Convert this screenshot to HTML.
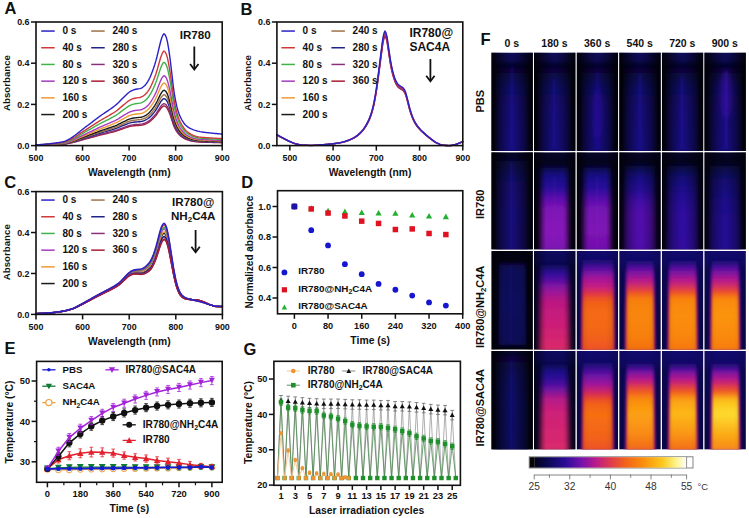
<!DOCTYPE html>
<html><head><meta charset="utf-8"><title>Figure</title>
<style>html,body{margin:0;padding:0;background:#fff}svg{display:block}text{font-family:"Liberation Sans",sans-serif}</style></head>
<body>
<svg width="749" height="518" viewBox="0 0 749 518">
<rect width="749" height="518" fill="#fff"/>
<defs>
<linearGradient id="hshade" x1="0" y1="0" x2="1" y2="0"><stop offset="0" stop-color="#000" stop-opacity="1"/><stop offset="0.12" stop-color="#000" stop-opacity="0.6"/><stop offset="0.3" stop-color="#000" stop-opacity="0"/><stop offset="0.7" stop-color="#000" stop-opacity="0"/><stop offset="0.88" stop-color="#000" stop-opacity="0.6"/><stop offset="1" stop-color="#000" stop-opacity="1"/></linearGradient>
<linearGradient id="hshade2" x1="0" y1="0" x2="1" y2="0"><stop offset="0" stop-color="#000" stop-opacity="1"/><stop offset="0.1" stop-color="#000" stop-opacity="0.78"/><stop offset="0.26" stop-color="#000" stop-opacity="0.38"/><stop offset="0.46" stop-color="#000" stop-opacity="0"/><stop offset="0.54" stop-color="#000" stop-opacity="0"/><stop offset="0.74" stop-color="#000" stop-opacity="0.38"/><stop offset="0.9" stop-color="#000" stop-opacity="0.78"/><stop offset="1" stop-color="#000" stop-opacity="1"/></linearGradient>
<clipPath id="c0_0"><rect x="491.3" y="52.5" width="41.6" height="98.4"/></clipPath>
<linearGradient id="g1" x1="0" y1="0" x2="0" y2="1"><stop offset="0" stop-color="#0e0c5a"/><stop offset="0.08" stop-color="#0c0a50"/><stop offset="0.15" stop-color="#06052e"/><stop offset="0.24" stop-color="#04042a"/><stop offset="1" stop-color="#04042c"/></linearGradient>
<linearGradient id="g2" x1="0" y1="0" x2="0" y2="1"><stop offset="0" stop-color="#05052c"/><stop offset="0.11" stop-color="#0a0748"/><stop offset="0.27" stop-color="#10096a"/><stop offset="0.51" stop-color="#150a78"/><stop offset="0.96" stop-color="#170a7e"/></linearGradient>
<filter id="bl2p2" x="-40%" y="-30%" width="180%" height="160%"><feGaussianBlur stdDeviation="2.2"/></filter>
<filter id="bl1" x="-40%" y="-30%" width="180%" height="160%"><feGaussianBlur stdDeviation="1"/></filter>
<clipPath id="c0_1"><rect x="534" y="52.5" width="41.6" height="98.4"/></clipPath>
<linearGradient id="g3" x1="0" y1="0" x2="0" y2="1"><stop offset="0" stop-color="#0e0c5a"/><stop offset="0.08" stop-color="#0c0a50"/><stop offset="0.15" stop-color="#06052e"/><stop offset="0.24" stop-color="#04042a"/><stop offset="1" stop-color="#04042c"/></linearGradient>
<linearGradient id="g4" x1="0" y1="0" x2="0" y2="1"><stop offset="0" stop-color="#05052c"/><stop offset="0.11" stop-color="#0a0748"/><stop offset="0.27" stop-color="#10096a"/><stop offset="0.51" stop-color="#150a78"/><stop offset="0.96" stop-color="#170a7e"/></linearGradient>
<clipPath id="c0_2"><rect x="576.6" y="52.5" width="41.6" height="98.4"/></clipPath>
<linearGradient id="g5" x1="0" y1="0" x2="0" y2="1"><stop offset="0" stop-color="#0e0c5a"/><stop offset="0.08" stop-color="#0c0a50"/><stop offset="0.15" stop-color="#06052e"/><stop offset="0.24" stop-color="#04042a"/><stop offset="1" stop-color="#04042c"/></linearGradient>
<linearGradient id="g6" x1="0" y1="0" x2="0" y2="1"><stop offset="0" stop-color="#05052c"/><stop offset="0.11" stop-color="#0a0748"/><stop offset="0.27" stop-color="#10096a"/><stop offset="0.51" stop-color="#150a78"/><stop offset="0.96" stop-color="#170a7e"/></linearGradient>
<filter id="bl3" x="-40%" y="-30%" width="180%" height="160%"><feGaussianBlur stdDeviation="3"/></filter>
<clipPath id="c0_3"><rect x="619.2" y="52.5" width="41.6" height="98.4"/></clipPath>
<linearGradient id="g7" x1="0" y1="0" x2="0" y2="1"><stop offset="0" stop-color="#0e0c5a"/><stop offset="0.08" stop-color="#0c0a50"/><stop offset="0.15" stop-color="#06052e"/><stop offset="0.24" stop-color="#04042a"/><stop offset="1" stop-color="#04042c"/></linearGradient>
<linearGradient id="g8" x1="0" y1="0" x2="0" y2="1"><stop offset="0" stop-color="#05052c"/><stop offset="0.11" stop-color="#0a0748"/><stop offset="0.27" stop-color="#10096a"/><stop offset="0.51" stop-color="#150a78"/><stop offset="0.96" stop-color="#170a7e"/></linearGradient>
<clipPath id="c0_4"><rect x="661.8" y="52.5" width="41.6" height="98.4"/></clipPath>
<linearGradient id="g9" x1="0" y1="0" x2="0" y2="1"><stop offset="0" stop-color="#0e0c5a"/><stop offset="0.08" stop-color="#0c0a50"/><stop offset="0.15" stop-color="#06052e"/><stop offset="0.24" stop-color="#04042a"/><stop offset="1" stop-color="#04042c"/></linearGradient>
<linearGradient id="g10" x1="0" y1="0" x2="0" y2="1"><stop offset="0" stop-color="#05052c"/><stop offset="0.11" stop-color="#0a0748"/><stop offset="0.27" stop-color="#10096a"/><stop offset="0.51" stop-color="#150a78"/><stop offset="0.96" stop-color="#170a7e"/></linearGradient>
<clipPath id="c0_5"><rect x="704.3" y="52.5" width="41.6" height="98.4"/></clipPath>
<linearGradient id="g11" x1="0" y1="0" x2="0" y2="1"><stop offset="0" stop-color="#0e0c5a"/><stop offset="0.08" stop-color="#0c0a50"/><stop offset="0.15" stop-color="#06052e"/><stop offset="0.24" stop-color="#04042a"/><stop offset="1" stop-color="#04042c"/></linearGradient>
<linearGradient id="g12" x1="0" y1="0" x2="0" y2="1"><stop offset="0" stop-color="#05052c"/><stop offset="0.11" stop-color="#0a0748"/><stop offset="0.27" stop-color="#10096a"/><stop offset="0.51" stop-color="#150a78"/><stop offset="0.96" stop-color="#170a7e"/></linearGradient>
<clipPath id="c1_0"><rect x="491.3" y="152.2" width="41.6" height="97.4"/></clipPath>
<linearGradient id="g13" x1="0" y1="0" x2="0" y2="1"><stop offset="0" stop-color="#05052a"/><stop offset="0.14" stop-color="#05052a"/><stop offset="1" stop-color="#050528"/></linearGradient>
<linearGradient id="g14" x1="0" y1="0" x2="0" y2="1"><stop offset="0" stop-color="#08073e"/><stop offset="0.24" stop-color="#12096a"/><stop offset="0.56" stop-color="#160a74"/><stop offset="0.97" stop-color="#150a72"/></linearGradient>
<clipPath id="c1_1"><rect x="534" y="152.2" width="41.6" height="97.4"/></clipPath>
<linearGradient id="g15" x1="0" y1="0" x2="0" y2="1"><stop offset="0" stop-color="#06052a"/><stop offset="0.1" stop-color="#04041e"/><stop offset="1" stop-color="#030316"/></linearGradient>
<linearGradient id="g16" x1="0" y1="0" x2="0" y2="1"><stop offset="0" stop-color="#0a0850"/><stop offset="0.11" stop-color="#180a88"/><stop offset="0.25" stop-color="#280c9a"/><stop offset="0.36" stop-color="#5a10ac"/><stop offset="0.48" stop-color="#7c12b4"/><stop offset="0.76" stop-color="#8814b8"/><stop offset="0.97" stop-color="#7c12b2"/></linearGradient>
<filter id="bl2p4" x="-40%" y="-30%" width="180%" height="160%"><feGaussianBlur stdDeviation="2.4"/></filter>
<clipPath id="c1_2"><rect x="576.6" y="152.2" width="41.6" height="97.4"/></clipPath>
<linearGradient id="g17" x1="0" y1="0" x2="0" y2="1"><stop offset="0" stop-color="#06052a"/><stop offset="0.1" stop-color="#04041e"/><stop offset="1" stop-color="#030316"/></linearGradient>
<linearGradient id="g18" x1="0" y1="0" x2="0" y2="1"><stop offset="0" stop-color="#0a0850"/><stop offset="0.11" stop-color="#180a88"/><stop offset="0.25" stop-color="#280c9a"/><stop offset="0.36" stop-color="#5210aa"/><stop offset="0.48" stop-color="#7412b2"/><stop offset="0.76" stop-color="#7e12b4"/><stop offset="0.97" stop-color="#7010ae"/></linearGradient>
<clipPath id="c1_3"><rect x="619.2" y="152.2" width="41.6" height="97.4"/></clipPath>
<linearGradient id="g19" x1="0" y1="0" x2="0" y2="1"><stop offset="0" stop-color="#06052a"/><stop offset="0.1" stop-color="#04041e"/><stop offset="1" stop-color="#030316"/></linearGradient>
<linearGradient id="g20" x1="0" y1="0" x2="0" y2="1"><stop offset="0" stop-color="#08073e"/><stop offset="0.13" stop-color="#160a80"/><stop offset="0.29" stop-color="#260c98"/><stop offset="0.42" stop-color="#4410a8"/><stop offset="0.56" stop-color="#5410ae"/><stop offset="0.97" stop-color="#5010ac"/></linearGradient>
<clipPath id="c1_4"><rect x="661.8" y="152.2" width="41.6" height="97.4"/></clipPath>
<linearGradient id="g21" x1="0" y1="0" x2="0" y2="1"><stop offset="0" stop-color="#06052a"/><stop offset="0.1" stop-color="#04041e"/><stop offset="1" stop-color="#030316"/></linearGradient>
<linearGradient id="g22" x1="0" y1="0" x2="0" y2="1"><stop offset="0" stop-color="#08073e"/><stop offset="0.15" stop-color="#140a78"/><stop offset="0.33" stop-color="#200c90"/><stop offset="0.54" stop-color="#2e0e9e"/><stop offset="0.97" stop-color="#300ea0"/></linearGradient>
<clipPath id="c1_5"><rect x="704.3" y="152.2" width="41.6" height="97.4"/></clipPath>
<linearGradient id="g23" x1="0" y1="0" x2="0" y2="1"><stop offset="0" stop-color="#06052a"/><stop offset="0.1" stop-color="#04041e"/><stop offset="1" stop-color="#030316"/></linearGradient>
<linearGradient id="g24" x1="0" y1="0" x2="0" y2="1"><stop offset="0" stop-color="#08073e"/><stop offset="0.17" stop-color="#12096e"/><stop offset="0.4" stop-color="#1a0b84"/><stop offset="0.65" stop-color="#220c90"/><stop offset="0.97" stop-color="#220c90"/></linearGradient>
<clipPath id="c2_0"><rect x="491.3" y="251" width="41.6" height="98.7"/></clipPath>
<linearGradient id="g25" x1="0" y1="0" x2="0" y2="1"><stop offset="0" stop-color="#020210"/><stop offset="0.99" stop-color="#020210"/></linearGradient>
<linearGradient id="g26" x1="0" y1="0" x2="0" y2="1"><stop offset="0" stop-color="#08063e"/><stop offset="0.07" stop-color="#0b0752"/><stop offset="0.46" stop-color="#0d085a"/><stop offset="1" stop-color="#0b0752"/></linearGradient>
<filter id="bl1p6" x="-40%" y="-30%" width="180%" height="160%"><feGaussianBlur stdDeviation="1.6"/></filter>
<clipPath id="c2_1"><rect x="534" y="251" width="41.6" height="98.7"/></clipPath>
<linearGradient id="g27" x1="0" y1="0" x2="0" y2="1"><stop offset="0" stop-color="#0e0a5e"/><stop offset="0.1" stop-color="#0c0956"/><stop offset="0.17" stop-color="#070640"/><stop offset="0.99" stop-color="#05052e"/></linearGradient>
<linearGradient id="g28" x1="0" y1="0" x2="0" y2="1"><stop offset="0" stop-color="#0c0956"/><stop offset="0.07" stop-color="#280c90"/><stop offset="0.14" stop-color="#420ea0"/><stop offset="0.26" stop-color="#8a14a0"/><stop offset="0.41" stop-color="#bc1882"/><stop offset="0.64" stop-color="#ca1c7a"/><stop offset="0.96" stop-color="#da2a6a"/></linearGradient>
<clipPath id="c2_2"><rect x="576.6" y="251" width="41.6" height="98.7"/></clipPath>
<linearGradient id="g29" x1="0" y1="0" x2="0" y2="1"><stop offset="0" stop-color="#120a6c"/><stop offset="0.12" stop-color="#100a66"/><stop offset="0.2" stop-color="#0c0856"/><stop offset="0.99" stop-color="#0a074c"/></linearGradient>
<linearGradient id="g30" x1="0" y1="0" x2="0" y2="1"><stop offset="0" stop-color="#100a66"/><stop offset="0.06" stop-color="#3c0e96"/><stop offset="0.12" stop-color="#6a12a4"/><stop offset="0.2" stop-color="#a8169a"/><stop offset="0.3" stop-color="#c81e80"/><stop offset="0.37" stop-color="#e43a3a"/><stop offset="0.44" stop-color="#f25e1a"/><stop offset="0.58" stop-color="#f56c12"/><stop offset="0.82" stop-color="#f3641a"/><stop offset="0.96" stop-color="#ee5426"/></linearGradient>
<linearGradient id="g31" x1="0" y1="0" x2="0" y2="1"><stop offset="0.05" stop-color="#100a66"/><stop offset="0.16" stop-color="#5a10a0"/><stop offset="0.33" stop-color="#9a1490"/><stop offset="0.5" stop-color="#b4187e"/><stop offset="0.96" stop-color="#a81684"/></linearGradient>
<filter id="bl1p1_2p6" x="-40%" y="-30%" width="180%" height="160%"><feGaussianBlur stdDeviation="1.1 2.6"/></filter>
<filter id="bl1_2p4" x="-40%" y="-30%" width="180%" height="160%"><feGaussianBlur stdDeviation="1 2.4"/></filter>
<clipPath id="c2_3"><rect x="619.2" y="251" width="41.6" height="98.7"/></clipPath>
<linearGradient id="g32" x1="0" y1="0" x2="0" y2="1"><stop offset="0" stop-color="#120a6c"/><stop offset="0.12" stop-color="#100a66"/><stop offset="0.2" stop-color="#0c0856"/><stop offset="0.99" stop-color="#0a074c"/></linearGradient>
<linearGradient id="g33" x1="0" y1="0" x2="0" y2="1"><stop offset="0" stop-color="#100a66"/><stop offset="0.05" stop-color="#3a0e96"/><stop offset="0.11" stop-color="#7012a4"/><stop offset="0.2" stop-color="#b01890"/><stop offset="0.27" stop-color="#d02a6a"/><stop offset="0.34" stop-color="#ee4e24"/><stop offset="0.41" stop-color="#f7800e"/><stop offset="0.59" stop-color="#f8860e"/><stop offset="0.82" stop-color="#f7800e"/><stop offset="0.96" stop-color="#f4700f"/></linearGradient>
<linearGradient id="g34" x1="0" y1="0" x2="0" y2="1"><stop offset="0.04" stop-color="#100a66"/><stop offset="0.15" stop-color="#5a10a0"/><stop offset="0.33" stop-color="#9a1490"/><stop offset="0.49" stop-color="#b4187e"/><stop offset="0.96" stop-color="#a81684"/></linearGradient>
<filter id="bl0p9_2p4" x="-40%" y="-30%" width="180%" height="160%"><feGaussianBlur stdDeviation="0.9 2.4"/></filter>
<clipPath id="c2_4"><rect x="661.8" y="251" width="41.6" height="98.7"/></clipPath>
<linearGradient id="g35" x1="0" y1="0" x2="0" y2="1"><stop offset="0" stop-color="#120a6c"/><stop offset="0.12" stop-color="#100a66"/><stop offset="0.2" stop-color="#0c0856"/><stop offset="0.99" stop-color="#0a074c"/></linearGradient>
<linearGradient id="g36" x1="0" y1="0" x2="0" y2="1"><stop offset="0" stop-color="#100a66"/><stop offset="0.05" stop-color="#3a0e96"/><stop offset="0.11" stop-color="#7012a4"/><stop offset="0.2" stop-color="#b01890"/><stop offset="0.27" stop-color="#d02a6a"/><stop offset="0.34" stop-color="#ee4e24"/><stop offset="0.41" stop-color="#f9860c"/><stop offset="0.59" stop-color="#fa8e0c"/><stop offset="0.82" stop-color="#f9860c"/><stop offset="0.96" stop-color="#f6780e"/></linearGradient>
<linearGradient id="g37" x1="0" y1="0" x2="0" y2="1"><stop offset="0.04" stop-color="#100a66"/><stop offset="0.15" stop-color="#5a10a0"/><stop offset="0.33" stop-color="#9a1490"/><stop offset="0.49" stop-color="#b4187e"/><stop offset="0.96" stop-color="#a81684"/></linearGradient>
<clipPath id="c2_5"><rect x="704.3" y="251" width="41.6" height="98.7"/></clipPath>
<linearGradient id="g38" x1="0" y1="0" x2="0" y2="1"><stop offset="0" stop-color="#120a6c"/><stop offset="0.12" stop-color="#100a66"/><stop offset="0.2" stop-color="#0c0856"/><stop offset="0.99" stop-color="#0a074c"/></linearGradient>
<linearGradient id="g39" x1="0" y1="0" x2="0" y2="1"><stop offset="0" stop-color="#100a66"/><stop offset="0.05" stop-color="#3a0e96"/><stop offset="0.11" stop-color="#7012a4"/><stop offset="0.2" stop-color="#b01890"/><stop offset="0.27" stop-color="#d02a6a"/><stop offset="0.34" stop-color="#ee4e24"/><stop offset="0.41" stop-color="#fa8a0c"/><stop offset="0.59" stop-color="#fb940c"/><stop offset="0.82" stop-color="#fa8a0c"/><stop offset="0.96" stop-color="#f77c0e"/></linearGradient>
<linearGradient id="g40" x1="0" y1="0" x2="0" y2="1"><stop offset="0.04" stop-color="#100a66"/><stop offset="0.15" stop-color="#5a10a0"/><stop offset="0.33" stop-color="#9a1490"/><stop offset="0.49" stop-color="#b4187e"/><stop offset="0.96" stop-color="#a81684"/></linearGradient>
<clipPath id="c3_0"><rect x="491.3" y="351" width="41.6" height="98.6"/></clipPath>
<linearGradient id="g41" x1="0" y1="0" x2="0" y2="1"><stop offset="0" stop-color="#07062e"/><stop offset="0.99" stop-color="#040424"/></linearGradient>
<linearGradient id="g42" x1="0" y1="0" x2="0" y2="1"><stop offset="0" stop-color="#07063a"/><stop offset="0.21" stop-color="#0c0858"/><stop offset="0.52" stop-color="#0f0962"/><stop offset="0.96" stop-color="#0d085c"/></linearGradient>
<clipPath id="c3_1"><rect x="534" y="351" width="41.6" height="98.6"/></clipPath>
<linearGradient id="g43" x1="0" y1="0" x2="0" y2="1"><stop offset="0" stop-color="#0e0a5e"/><stop offset="0.1" stop-color="#0c0956"/><stop offset="0.17" stop-color="#070640"/><stop offset="0.99" stop-color="#05052e"/></linearGradient>
<linearGradient id="g44" x1="0" y1="0" x2="0" y2="1"><stop offset="0" stop-color="#0c0956"/><stop offset="0.07" stop-color="#1c0c88"/><stop offset="0.16" stop-color="#2e0e98"/><stop offset="0.26" stop-color="#6012a4"/><stop offset="0.38" stop-color="#b41a88"/><stop offset="0.53" stop-color="#cc2078"/><stop offset="0.96" stop-color="#da2a6c"/></linearGradient>
<clipPath id="c3_2"><rect x="576.6" y="351" width="41.6" height="98.6"/></clipPath>
<linearGradient id="g45" x1="0" y1="0" x2="0" y2="1"><stop offset="0" stop-color="#120a6c"/><stop offset="0.12" stop-color="#100a66"/><stop offset="0.2" stop-color="#0c0856"/><stop offset="0.99" stop-color="#0a074c"/></linearGradient>
<linearGradient id="g46" x1="0" y1="0" x2="0" y2="1"><stop offset="0" stop-color="#100a66"/><stop offset="0.07" stop-color="#3a0e96"/><stop offset="0.13" stop-color="#6212a4"/><stop offset="0.23" stop-color="#9c16a0"/><stop offset="0.31" stop-color="#c82070"/><stop offset="0.37" stop-color="#e03838"/><stop offset="0.44" stop-color="#f25e1a"/><stop offset="0.57" stop-color="#f67010"/><stop offset="0.81" stop-color="#f3641a"/><stop offset="0.96" stop-color="#ee5424"/></linearGradient>
<linearGradient id="g47" x1="0" y1="0" x2="0" y2="1"><stop offset="0.02" stop-color="#100a66"/><stop offset="0.13" stop-color="#5a10a0"/><stop offset="0.31" stop-color="#9a1490"/><stop offset="0.48" stop-color="#b4187e"/><stop offset="0.96" stop-color="#a81684"/></linearGradient>
<clipPath id="c3_3"><rect x="619.2" y="351" width="41.6" height="98.6"/></clipPath>
<linearGradient id="g48" x1="0" y1="0" x2="0" y2="1"><stop offset="0" stop-color="#120a6c"/><stop offset="0.12" stop-color="#100a66"/><stop offset="0.2" stop-color="#0c0856"/><stop offset="0.99" stop-color="#0a074c"/></linearGradient>
<linearGradient id="g49" x1="0" y1="0" x2="0" y2="1"><stop offset="0" stop-color="#100a66"/><stop offset="0.06" stop-color="#4a10a0"/><stop offset="0.11" stop-color="#8a14a0"/><stop offset="0.19" stop-color="#c01c84"/><stop offset="0.26" stop-color="#e23c40"/><stop offset="0.32" stop-color="#f2601c"/><stop offset="0.4" stop-color="#f98c10"/><stop offset="0.56" stop-color="#fca212"/><stop offset="0.78" stop-color="#f98c12"/><stop offset="0.96" stop-color="#f26a1c"/></linearGradient>
<linearGradient id="g50" x1="0" y1="0" x2="0" y2="1"><stop offset="0.01" stop-color="#100a66"/><stop offset="0.12" stop-color="#5a10a0"/><stop offset="0.3" stop-color="#9a1490"/><stop offset="0.47" stop-color="#b4187e"/><stop offset="0.96" stop-color="#a81684"/></linearGradient>
<clipPath id="c3_4"><rect x="661.8" y="351" width="41.6" height="98.6"/></clipPath>
<linearGradient id="g51" x1="0" y1="0" x2="0" y2="1"><stop offset="0" stop-color="#120a6c"/><stop offset="0.12" stop-color="#100a66"/><stop offset="0.2" stop-color="#0c0856"/><stop offset="0.99" stop-color="#0a074c"/></linearGradient>
<linearGradient id="g52" x1="0" y1="0" x2="0" y2="1"><stop offset="0" stop-color="#100a66"/><stop offset="0.06" stop-color="#4a10a0"/><stop offset="0.11" stop-color="#8a14a0"/><stop offset="0.19" stop-color="#c01c84"/><stop offset="0.26" stop-color="#e23c40"/><stop offset="0.32" stop-color="#f2601c"/><stop offset="0.4" stop-color="#fba012"/><stop offset="0.56" stop-color="#fdb818"/><stop offset="0.78" stop-color="#fa9814"/><stop offset="0.96" stop-color="#f47018"/></linearGradient>
<linearGradient id="g53" x1="0" y1="0" x2="0" y2="1"><stop offset="0.01" stop-color="#100a66"/><stop offset="0.12" stop-color="#5a10a0"/><stop offset="0.3" stop-color="#9a1490"/><stop offset="0.47" stop-color="#b4187e"/><stop offset="0.96" stop-color="#a81684"/></linearGradient>
<clipPath id="c3_5"><rect x="704.3" y="351" width="41.6" height="98.6"/></clipPath>
<linearGradient id="g54" x1="0" y1="0" x2="0" y2="1"><stop offset="0" stop-color="#120a6c"/><stop offset="0.12" stop-color="#100a66"/><stop offset="0.2" stop-color="#0c0856"/><stop offset="0.99" stop-color="#0a074c"/></linearGradient>
<linearGradient id="g55" x1="0" y1="0" x2="0" y2="1"><stop offset="0" stop-color="#100a66"/><stop offset="0.06" stop-color="#4a10a0"/><stop offset="0.11" stop-color="#8a14a0"/><stop offset="0.19" stop-color="#c01c84"/><stop offset="0.26" stop-color="#e23c40"/><stop offset="0.32" stop-color="#f2601c"/><stop offset="0.4" stop-color="#fcbc18"/><stop offset="0.56" stop-color="#fedc30"/><stop offset="0.78" stop-color="#fcae18"/><stop offset="0.96" stop-color="#f88a1a"/></linearGradient>
<linearGradient id="g56" x1="0" y1="0" x2="0" y2="1"><stop offset="0.01" stop-color="#100a66"/><stop offset="0.12" stop-color="#5a10a0"/><stop offset="0.3" stop-color="#9a1490"/><stop offset="0.47" stop-color="#b4187e"/><stop offset="0.96" stop-color="#a81684"/></linearGradient>
<linearGradient id="cbar" x1="0" y1="0" x2="1" y2="0"><stop offset="0" stop-color="#03031c"/><stop offset="0.08" stop-color="#0a0850"/><stop offset="0.2" stop-color="#2a0c96"/><stop offset="0.3" stop-color="#7012ac"/><stop offset="0.4" stop-color="#b81a8c"/><stop offset="0.5" stop-color="#e03a4c"/><stop offset="0.6" stop-color="#f2641a"/><stop offset="0.72" stop-color="#fa900c"/><stop offset="0.84" stop-color="#fdc81e"/><stop offset="0.93" stop-color="#fef48a"/><stop offset="1" stop-color="#ffffff"/></linearGradient>
</defs>
<polyline points="36,145.31 37.16,145.29 38.33,145.27 39.49,145.24 40.66,145.21 41.82,145.18 42.98,145.15 44.15,145.12 45.31,145.09 46.47,145.05 47.64,145.01 48.8,144.97 49.96,144.93 51.13,144.88 52.29,144.83 53.46,144.78 54.62,144.72 55.78,144.67 56.95,144.61 58.11,144.55 59.27,144.48 60.44,144.41 61.6,144.33 62.77,144.24 63.93,144.14 65.09,144 66.26,143.82 67.42,143.62 68.58,143.41 69.75,143.18 70.91,142.93 72.08,142.66 73.24,142.38 74.4,142.09 75.57,141.8 76.73,141.49 77.89,141.16 79.06,140.83 80.22,140.49 81.39,140.15 82.55,139.82 83.71,139.51 84.88,139.19 86.04,138.88 87.2,138.57 88.37,138.26 89.53,137.96 90.7,137.65 91.86,137.34 93.02,137.02 94.19,136.7 95.35,136.38 96.52,136.06 97.68,135.74 98.84,135.43 100.01,135.13 101.17,134.84 102.33,134.55 103.5,134.28 104.66,134 105.82,133.73 106.99,133.45 108.15,133.17 109.32,132.88 110.48,132.6 111.64,132.31 112.81,132.01 113.97,131.71 115.13,131.39 116.3,131.05 117.46,130.68 118.63,130.28 119.79,129.86 120.95,129.44 122.12,129.01 123.28,128.59 124.44,128.2 125.61,127.8 126.77,127.39 127.94,127 129.1,126.66 130.26,126.39 131.43,126.17 132.59,125.98 133.75,125.81 134.92,125.69 136.08,125.59 137.25,125.53 138.41,125.46 139.57,125.38 140.74,125.27 141.9,125.08 143.06,124.8 144.23,124.47 145.39,124.06 146.56,123.53 147.72,122.9 148.88,122.2 150.05,121.34 151.21,120.35 152.38,119.27 153.54,118.14 154.7,116.9 155.87,115.54 157.03,113.98 158.19,112.22 159.36,110.5 160.52,108.82 161.69,107.43 162.85,106.4 164.01,105.89 165.18,106.3 166.34,107.21 167.5,108.85 168.67,111.23 169.83,114.11 170.99,117.48 172.16,120.98 173.32,124.63 174.49,127.46 175.65,129.8 176.81,131.7 177.98,133.28 179.14,134.61 180.31,135.71 181.47,136.66 182.63,137.47 183.8,138.2 184.96,138.83 186.12,139.35 187.29,139.78 188.45,140.16 189.61,140.49 190.78,140.78 191.94,141.04 193.11,141.27 194.27,141.46 195.43,141.63 196.6,141.77 197.76,141.88 198.92,141.96 200.09,142.02 201.25,142.08 202.42,142.13 203.58,142.18 204.74,142.22 205.91,142.26 207.07,142.29 208.23,142.32 209.4,142.35 210.56,142.38 211.73,142.41 212.89,142.44 214.05,142.47 215.22,142.5 216.38,142.53 217.54,142.55 218.71,142.58 219.87,142.6 221.04,142.63 222.2,142.65" fill="none" stroke="#a81c34" stroke-width="1.4" stroke-linejoin="round" stroke-linecap="round"/>
<polyline points="36,145.29 37.16,145.27 38.33,145.25 39.49,145.22 40.66,145.19 41.82,145.16 42.98,145.13 44.15,145.09 45.31,145.06 46.47,145.02 47.64,144.98 48.8,144.94 49.96,144.89 51.13,144.84 52.29,144.79 53.46,144.73 54.62,144.67 55.78,144.61 56.95,144.55 58.11,144.49 59.27,144.42 60.44,144.34 61.6,144.26 62.77,144.16 63.93,144.06 65.09,143.91 66.26,143.72 67.42,143.51 68.58,143.28 69.75,143.04 70.91,142.78 72.08,142.5 73.24,142.2 74.4,141.89 75.57,141.58 76.73,141.26 77.89,140.92 79.06,140.56 80.22,140.2 81.39,139.84 82.55,139.5 83.71,139.16 84.88,138.83 86.04,138.5 87.2,138.18 88.37,137.85 89.53,137.53 90.7,137.2 91.86,136.87 93.02,136.54 94.19,136.2 95.35,135.86 96.52,135.52 97.68,135.19 98.84,134.86 100.01,134.54 101.17,134.23 102.33,133.93 103.5,133.64 104.66,133.35 105.82,133.06 106.99,132.77 108.15,132.47 109.32,132.16 110.48,131.86 111.64,131.56 112.81,131.25 113.97,130.93 115.13,130.59 116.3,130.23 117.46,129.84 118.63,129.42 119.79,128.98 120.95,128.52 122.12,128.07 123.28,127.63 124.44,127.21 125.61,126.79 126.77,126.37 127.94,125.96 129.1,125.59 130.26,125.31 131.43,125.07 132.59,124.87 133.75,124.7 134.92,124.56 136.08,124.47 137.25,124.39 138.41,124.33 139.57,124.24 140.74,124.12 141.9,123.93 143.06,123.63 144.23,123.27 145.39,122.84 146.56,122.28 147.72,121.62 148.88,120.88 150.05,119.98 151.21,118.92 152.38,117.79 153.54,116.59 154.7,115.28 155.87,113.84 157.03,112.2 158.19,110.33 159.36,108.52 160.52,106.74 161.69,105.28 162.85,104.19 164.01,103.65 165.18,104.09 166.34,105.04 167.5,106.78 168.67,109.29 169.83,112.34 170.99,115.9 172.16,119.59 173.32,123.44 174.49,126.44 175.65,128.91 176.81,130.92 177.98,132.59 179.14,133.99 180.31,135.15 181.47,136.15 182.63,137.01 183.8,137.78 184.96,138.45 186.12,139 187.29,139.46 188.45,139.86 189.61,140.21 190.78,140.51 191.94,140.78 193.11,141.02 194.27,141.23 195.43,141.41 196.6,141.55 197.76,141.67 198.92,141.75 200.09,141.82 201.25,141.88 202.42,141.94 203.58,141.98 204.74,142.03 205.91,142.07 207.07,142.1 208.23,142.14 209.4,142.17 210.56,142.2 211.73,142.23 212.89,142.26 214.05,142.29 215.22,142.32 216.38,142.35 217.54,142.38 218.71,142.41 219.87,142.43 221.04,142.46 222.2,142.49" fill="none" stroke="#8a2f7c" stroke-width="1.4" stroke-linejoin="round" stroke-linecap="round"/>
<polyline points="36,145.25 37.16,145.23 38.33,145.2 39.49,145.17 40.66,145.14 41.82,145.11 42.98,145.07 44.15,145.03 45.31,144.99 46.47,144.95 47.64,144.91 48.8,144.86 49.96,144.8 51.13,144.75 52.29,144.69 53.46,144.63 54.62,144.56 55.78,144.5 56.95,144.43 58.11,144.36 59.27,144.28 60.44,144.19 61.6,144.1 62.77,143.99 63.93,143.87 65.09,143.71 66.26,143.5 67.42,143.26 68.58,143 69.75,142.74 70.91,142.44 72.08,142.12 73.24,141.79 74.4,141.45 75.57,141.1 76.73,140.74 77.89,140.35 79.06,139.95 80.22,139.55 81.39,139.15 82.55,138.76 83.71,138.39 84.88,138.02 86.04,137.65 87.2,137.29 88.37,136.92 89.53,136.56 90.7,136.19 91.86,135.82 93.02,135.45 94.19,135.07 95.35,134.69 96.52,134.31 97.68,133.94 98.84,133.57 100.01,133.21 101.17,132.87 102.33,132.53 103.5,132.2 104.66,131.88 105.82,131.56 106.99,131.23 108.15,130.89 109.32,130.55 110.48,130.21 111.64,129.87 112.81,129.53 113.97,129.17 115.13,128.79 116.3,128.39 117.46,127.95 118.63,127.48 119.79,126.98 120.95,126.48 122.12,125.97 123.28,125.48 124.44,125.01 125.61,124.54 126.77,124.06 127.94,123.6 129.1,123.19 130.26,122.88 131.43,122.61 132.59,122.38 133.75,122.19 134.92,122.04 136.08,121.93 137.25,121.85 138.41,121.77 139.57,121.68 140.74,121.55 141.9,121.32 143.06,121 144.23,120.6 145.39,120.11 146.56,119.48 147.72,118.74 148.88,117.91 150.05,116.9 151.21,115.72 152.38,114.45 153.54,113.11 154.7,111.64 155.87,110.03 157.03,108.19 158.19,106.1 159.36,104.07 160.52,102.08 161.69,100.44 162.85,99.23 164.01,98.62 165.18,99.1 166.34,100.18 167.5,102.13 168.67,104.94 169.83,108.34 170.99,112.33 172.16,116.47 173.32,120.78 174.49,124.14 175.65,126.91 176.81,129.16 177.98,131.03 179.14,132.59 180.31,133.9 181.47,135.02 182.63,135.98 183.8,136.84 184.96,137.59 186.12,138.21 187.29,138.72 188.45,139.17 189.61,139.56 190.78,139.9 191.94,140.21 193.11,140.47 194.27,140.71 195.43,140.91 196.6,141.07 197.76,141.19 198.92,141.29 200.09,141.37 201.25,141.43 202.42,141.5 203.58,141.55 204.74,141.6 205.91,141.64 207.07,141.69 208.23,141.72 209.4,141.76 210.56,141.79 211.73,141.83 212.89,141.86 214.05,141.9 215.22,141.93 216.38,141.96 217.54,141.99 218.71,142.03 219.87,142.05 221.04,142.08 222.2,142.11" fill="none" stroke="#1f2388" stroke-width="1.4" stroke-linejoin="round" stroke-linecap="round"/>
<polyline points="36,145.23 37.16,145.2 38.33,145.17 39.49,145.14 40.66,145.1 41.82,145.07 42.98,145.03 44.15,144.99 45.31,144.94 46.47,144.9 47.64,144.85 48.8,144.79 49.96,144.74 51.13,144.68 52.29,144.61 53.46,144.55 54.62,144.48 55.78,144.4 56.95,144.33 58.11,144.25 59.27,144.17 60.44,144.08 61.6,143.97 62.77,143.86 63.93,143.73 65.09,143.55 66.26,143.32 67.42,143.06 68.58,142.79 69.75,142.5 70.91,142.18 72.08,141.83 73.24,141.48 74.4,141.1 75.57,140.73 76.73,140.33 77.89,139.92 79.06,139.48 80.22,139.05 81.39,138.62 82.55,138.2 83.71,137.79 84.88,137.39 86.04,136.99 87.2,136.59 88.37,136.2 89.53,135.8 90.7,135.41 91.86,135.01 93.02,134.6 94.19,134.19 95.35,133.78 96.52,133.37 97.68,132.97 98.84,132.57 100.01,132.18 101.17,131.8 102.33,131.44 103.5,131.09 104.66,130.74 105.82,130.39 106.99,130.03 108.15,129.67 109.32,129.3 110.48,128.93 111.64,128.56 112.81,128.19 113.97,127.8 115.13,127.39 116.3,126.95 117.46,126.48 118.63,125.97 119.79,125.43 120.95,124.88 122.12,124.33 123.28,123.8 124.44,123.29 125.61,122.78 126.77,122.26 127.94,121.76 129.1,121.33 130.26,120.98 131.43,120.7 132.59,120.45 133.75,120.24 134.92,120.08 136.08,119.96 137.25,119.87 138.41,119.79 139.57,119.69 140.74,119.54 141.9,119.3 143.06,118.95 144.23,118.51 145.39,117.99 146.56,117.31 147.72,116.51 148.88,115.6 150.05,114.51 151.21,113.23 152.38,111.86 153.54,110.4 154.7,108.81 155.87,107.07 157.03,105.07 158.19,102.81 159.36,100.61 160.52,98.45 161.69,96.67 162.85,95.36 164.01,94.7 165.18,95.23 166.34,96.39 167.5,98.5 168.67,101.55 169.83,105.24 170.99,109.56 172.16,114.05 173.32,118.72 174.49,122.35 175.65,125.35 176.81,127.79 177.98,129.81 179.14,131.51 180.31,132.93 181.47,134.14 182.63,135.18 183.8,136.11 184.96,136.93 186.12,137.59 187.29,138.15 188.45,138.63 189.61,139.05 190.78,139.43 191.94,139.76 193.11,140.05 194.27,140.3 195.43,140.51 196.6,140.69 197.76,140.83 198.92,140.93 200.09,141.01 201.25,141.09 202.42,141.15 203.58,141.21 204.74,141.27 205.91,141.31 207.07,141.36 208.23,141.4 209.4,141.44 210.56,141.48 211.73,141.51 212.89,141.55 214.05,141.59 215.22,141.62 216.38,141.66 217.54,141.69 218.71,141.73 219.87,141.76 221.04,141.79 222.2,141.82" fill="none" stroke="#a07248" stroke-width="1.4" stroke-linejoin="round" stroke-linecap="round"/>
<polyline points="36,145.19 37.16,145.16 38.33,145.13 39.49,145.1 40.66,145.06 41.82,145.02 42.98,144.98 44.15,144.93 45.31,144.89 46.47,144.84 47.64,144.78 48.8,144.72 49.96,144.66 51.13,144.6 52.29,144.53 53.46,144.45 54.62,144.38 55.78,144.3 56.95,144.22 58.11,144.13 59.27,144.04 60.44,143.94 61.6,143.83 62.77,143.7 63.93,143.56 65.09,143.37 66.26,143.12 67.42,142.84 68.58,142.54 69.75,142.22 70.91,141.88 72.08,141.5 73.24,141.11 74.4,140.71 75.57,140.3 76.73,139.87 77.89,139.42 79.06,138.95 80.22,138.47 81.39,138 82.55,137.54 83.71,137.1 84.88,136.66 86.04,136.23 87.2,135.8 88.37,135.37 89.53,134.94 90.7,134.51 91.86,134.08 93.02,133.64 94.19,133.19 95.35,132.74 96.52,132.3 97.68,131.86 98.84,131.42 100.01,131 101.17,130.59 102.33,130.2 103.5,129.81 104.66,129.43 105.82,129.05 106.99,128.66 108.15,128.27 109.32,127.86 110.48,127.47 111.64,127.07 112.81,126.66 113.97,126.23 115.13,125.79 116.3,125.31 117.46,124.8 118.63,124.24 119.79,123.66 120.95,123.06 122.12,122.47 123.28,121.88 124.44,121.33 125.61,120.78 126.77,120.21 127.94,119.67 129.1,119.19 130.26,118.82 131.43,118.51 132.59,118.24 133.75,118.01 134.92,117.83 136.08,117.71 137.25,117.61 138.41,117.52 139.57,117.41 140.74,117.25 141.9,116.99 143.06,116.6 144.23,116.13 145.39,115.56 146.56,114.82 147.72,113.95 148.88,112.97 150.05,111.78 151.21,110.39 152.38,108.89 153.54,107.31 154.7,105.58 155.87,103.68 157.03,101.51 158.19,99.05 159.36,96.65 160.52,94.31 161.69,92.37 162.85,90.94 164.01,90.23 165.18,90.8 166.34,92.07 167.5,94.36 168.67,97.67 169.83,101.69 170.99,106.39 172.16,111.27 173.32,116.35 174.49,120.31 175.65,123.57 176.81,126.22 177.98,128.42 179.14,130.27 180.31,131.81 181.47,133.13 182.63,134.26 183.8,135.28 184.96,136.16 186.12,136.89 187.29,137.49 188.45,138.02 189.61,138.48 190.78,138.88 191.94,139.24 193.11,139.56 194.27,139.83 195.43,140.07 196.6,140.26 197.76,140.41 198.92,140.52 200.09,140.61 201.25,140.69 202.42,140.76 203.58,140.83 204.74,140.89 205.91,140.94 207.07,140.99 208.23,141.03 209.4,141.07 210.56,141.11 211.73,141.15 212.89,141.19 214.05,141.24 215.22,141.27 216.38,141.31 217.54,141.35 218.71,141.39 219.87,141.42 221.04,141.46 222.2,141.49" fill="none" stroke="#1a1a1a" stroke-width="1.4" stroke-linejoin="round" stroke-linecap="round"/>
<polyline points="36,145.14 37.16,145.11 38.33,145.07 39.49,145.03 40.66,144.99 41.82,144.95 42.98,144.9 44.15,144.85 45.31,144.79 46.47,144.74 47.64,144.67 48.8,144.61 49.96,144.54 51.13,144.46 52.29,144.39 53.46,144.3 54.62,144.22 55.78,144.13 56.95,144.04 58.11,143.94 59.27,143.84 60.44,143.73 61.6,143.6 62.77,143.46 63.93,143.29 65.09,143.08 66.26,142.8 67.42,142.48 68.58,142.14 69.75,141.78 70.91,141.39 72.08,140.97 73.24,140.52 74.4,140.07 75.57,139.6 76.73,139.12 77.89,138.6 79.06,138.07 80.22,137.54 81.39,137 82.55,136.49 83.71,135.99 84.88,135.49 86.04,135 87.2,134.51 88.37,134.03 89.53,133.54 90.7,133.06 91.86,132.56 93.02,132.07 94.19,131.56 95.35,131.06 96.52,130.55 97.68,130.05 98.84,129.56 100.01,129.08 101.17,128.62 102.33,128.17 103.5,127.74 104.66,127.31 105.82,126.88 106.99,126.44 108.15,125.99 109.32,125.54 110.48,125.09 111.64,124.63 112.81,124.17 113.97,123.69 115.13,123.18 116.3,122.65 117.46,122.06 118.63,121.43 119.79,120.77 120.95,120.1 122.12,119.43 123.28,118.77 124.44,118.14 125.61,117.52 126.77,116.88 127.94,116.26 129.1,115.73 130.26,115.3 131.43,114.95 132.59,114.64 133.75,114.39 134.92,114.19 136.08,114.04 137.25,113.93 138.41,113.83 139.57,113.71 140.74,113.53 141.9,113.23 143.06,112.8 144.23,112.26 145.39,111.61 146.56,110.78 147.72,109.79 148.88,108.68 150.05,107.33 151.21,105.76 152.38,104.07 153.54,102.28 154.7,100.32 155.87,98.18 157.03,95.72 158.19,92.94 159.36,90.23 160.52,87.57 161.69,85.38 162.85,83.77 164.01,82.96 165.18,83.61 166.34,85.04 167.5,87.64 168.67,91.38 169.83,95.93 170.99,101.24 172.16,106.76 173.32,112.51 174.49,116.98 175.65,120.68 176.81,123.68 177.98,126.17 179.14,128.26 180.31,130 181.47,131.49 182.63,132.77 183.8,133.92 184.96,134.93 186.12,135.74 187.29,136.43 188.45,137.02 189.61,137.54 190.78,138 191.94,138.41 193.11,138.77 194.27,139.08 195.43,139.34 196.6,139.55 197.76,139.72 198.92,139.85 200.09,139.95 201.25,140.05 202.42,140.13 203.58,140.2 204.74,140.27 205.91,140.33 207.07,140.38 208.23,140.43 209.4,140.48 210.56,140.53 211.73,140.57 212.89,140.62 214.05,140.66 215.22,140.71 216.38,140.75 217.54,140.79 218.71,140.83 219.87,140.87 221.04,140.91 222.2,140.95" fill="none" stroke="#f09a34" stroke-width="1.4" stroke-linejoin="round" stroke-linecap="round"/>
<polyline points="36,145.09 37.16,145.05 38.33,145.01 39.49,144.97 40.66,144.92 41.82,144.87 42.98,144.81 44.15,144.76 45.31,144.7 46.47,144.64 47.64,144.57 48.8,144.49 49.96,144.42 51.13,144.33 52.29,144.24 53.46,144.15 54.62,144.06 55.78,143.96 56.95,143.86 58.11,143.75 59.27,143.63 60.44,143.51 61.6,143.37 62.77,143.21 63.93,143.03 65.09,142.79 66.26,142.47 67.42,142.12 68.58,141.74 69.75,141.34 70.91,140.9 72.08,140.43 73.24,139.93 74.4,139.42 75.57,138.91 76.73,138.36 77.89,137.79 79.06,137.2 80.22,136.6 81.39,136.01 82.55,135.43 83.71,134.87 84.88,134.32 86.04,133.77 87.2,133.23 88.37,132.69 89.53,132.14 90.7,131.6 91.86,131.05 93.02,130.5 94.19,129.93 95.35,129.37 96.52,128.8 97.68,128.25 98.84,127.7 100.01,127.16 101.17,126.65 102.33,126.15 103.5,125.67 104.66,125.19 105.82,124.7 106.99,124.21 108.15,123.71 109.32,123.21 110.48,122.7 111.64,122.2 112.81,121.68 113.97,121.14 115.13,120.58 116.3,119.98 117.46,119.33 118.63,118.63 119.79,117.89 120.95,117.14 122.12,116.39 123.28,115.66 124.44,114.96 125.61,114.26 126.77,113.54 127.94,112.86 129.1,112.26 130.26,111.78 131.43,111.39 132.59,111.05 133.75,110.77 134.92,110.54 136.08,110.38 137.25,110.26 138.41,110.14 139.57,110 140.74,109.81 141.9,109.48 143.06,108.99 144.23,108.39 145.39,107.67 146.56,106.74 147.72,105.63 148.88,104.4 150.05,102.89 151.21,101.14 152.38,99.25 153.54,97.25 154.7,95.07 155.87,92.67 157.03,89.93 158.19,86.82 159.36,83.8 160.52,80.84 161.69,78.39 162.85,76.59 164.01,75.69 165.18,76.41 166.34,78.01 167.5,80.91 168.67,85.09 169.83,90.16 170.99,96.09 172.16,102.26 173.32,108.67 174.49,113.66 175.65,117.79 176.81,121.14 177.98,123.91 179.14,126.24 180.31,128.19 181.47,129.86 182.63,131.28 183.8,132.57 184.96,133.69 186.12,134.6 187.29,135.36 188.45,136.03 189.61,136.61 190.78,137.12 191.94,137.57 193.11,137.97 194.27,138.32 195.43,138.61 196.6,138.85 197.76,139.04 198.92,139.18 200.09,139.3 201.25,139.4 202.42,139.49 203.58,139.57 204.74,139.65 205.91,139.71 207.07,139.77 208.23,139.83 209.4,139.88 210.56,139.94 211.73,139.99 212.89,140.04 214.05,140.09 215.22,140.14 216.38,140.19 217.54,140.23 218.71,140.28 219.87,140.32 221.04,140.37 222.2,140.41" fill="none" stroke="#a63cc0" stroke-width="1.4" stroke-linejoin="round" stroke-linecap="round"/>
<polyline points="36,144.99 37.16,144.94 38.33,144.9 39.49,144.85 40.66,144.79 41.82,144.73 42.98,144.66 44.15,144.6 45.31,144.53 46.47,144.45 47.64,144.37 48.8,144.28 49.96,144.19 51.13,144.09 52.29,143.98 53.46,143.87 54.62,143.76 55.78,143.64 56.95,143.52 58.11,143.39 59.27,143.26 60.44,143.11 61.6,142.94 62.77,142.75 63.93,142.53 65.09,142.25 66.26,141.87 67.42,141.45 68.58,141 69.75,140.52 70.91,140 72.08,139.43 73.24,138.85 74.4,138.24 75.57,137.62 76.73,136.98 77.89,136.29 79.06,135.59 80.22,134.87 81.39,134.16 82.55,133.48 83.71,132.81 84.88,132.15 86.04,131.5 87.2,130.85 88.37,130.21 89.53,129.56 90.7,128.91 91.86,128.26 93.02,127.6 94.19,126.92 95.35,126.25 96.52,125.58 97.68,124.91 98.84,124.26 100.01,123.63 101.17,123.01 102.33,122.42 103.5,121.84 104.66,121.27 105.82,120.69 106.99,120.11 108.15,119.51 109.32,118.91 110.48,118.31 111.64,117.7 112.81,117.09 113.97,116.45 115.13,115.78 116.3,115.07 117.46,114.29 118.63,113.45 119.79,112.57 120.95,111.68 122.12,110.78 123.28,109.91 124.44,109.07 125.61,108.24 126.77,107.39 127.94,106.57 129.1,105.86 130.26,105.29 131.43,104.82 132.59,104.42 133.75,104.08 134.92,103.81 136.08,103.62 137.25,103.47 138.41,103.34 139.57,103.17 140.74,102.94 141.9,102.54 143.06,101.96 144.23,101.25 145.39,100.39 146.56,99.28 147.72,97.96 148.88,96.49 150.05,94.69 151.21,92.6 152.38,90.35 153.54,87.97 154.7,85.36 155.87,82.51 157.03,79.24 158.19,75.54 159.36,71.93 160.52,68.4 161.69,65.49 162.85,63.34 164.01,62.27 165.18,63.13 166.34,65.03 167.5,68.49 168.67,73.47 169.83,79.52 170.99,86.59 172.16,93.93 173.32,101.58 174.49,107.53 175.65,112.45 176.81,116.44 177.98,119.75 179.14,122.53 180.31,124.85 181.47,126.83 182.63,128.53 183.8,130.06 184.96,131.4 186.12,132.49 187.29,133.39 188.45,134.19 189.61,134.88 190.78,135.49 191.94,136.03 193.11,136.51 194.27,136.92 195.43,137.27 196.6,137.56 197.76,137.78 198.92,137.95 200.09,138.09 201.25,138.21 202.42,138.32 203.58,138.42 204.74,138.5 205.91,138.58 207.07,138.66 208.23,138.72 209.4,138.79 210.56,138.85 211.73,138.91 212.89,138.97 214.05,139.03 215.22,139.09 216.38,139.15 217.54,139.2 218.71,139.26 219.87,139.31 221.04,139.36 222.2,139.41" fill="none" stroke="#3fb24a" stroke-width="1.4" stroke-linejoin="round" stroke-linecap="round"/>
<polyline points="36,144.9 37.16,144.86 38.33,144.8 39.49,144.74 40.66,144.68 41.82,144.61 42.98,144.54 44.15,144.46 45.31,144.38 46.47,144.3 47.64,144.2 48.8,144.1 49.96,144 51.13,143.89 52.29,143.77 53.46,143.64 54.62,143.51 55.78,143.38 56.95,143.24 58.11,143.1 59.27,142.94 60.44,142.77 61.6,142.58 62.77,142.36 63.93,142.12 65.09,141.8 66.26,141.37 67.42,140.89 68.58,140.38 69.75,139.84 70.91,139.24 72.08,138.61 73.24,137.94 74.4,137.25 75.57,136.55 76.73,135.82 77.89,135.04 79.06,134.24 80.22,133.43 81.39,132.63 82.55,131.85 83.71,131.09 84.88,130.35 86.04,129.61 87.2,128.87 88.37,128.14 89.53,127.41 90.7,126.67 91.86,125.93 93.02,125.18 94.19,124.42 95.35,123.65 96.52,122.89 97.68,122.14 98.84,121.4 100.01,120.68 101.17,119.98 102.33,119.31 103.5,118.65 104.66,118 105.82,117.35 106.99,116.69 108.15,116.01 109.32,115.32 110.48,114.64 111.64,113.96 112.81,113.26 113.97,112.54 115.13,111.78 116.3,110.97 117.46,110.09 118.63,109.14 119.79,108.14 120.95,107.12 122.12,106.11 123.28,105.12 124.44,104.17 125.61,103.23 126.77,102.26 127.94,101.33 129.1,100.52 130.26,99.88 131.43,99.35 132.59,98.89 133.75,98.5 134.92,98.2 136.08,97.98 137.25,97.82 138.41,97.66 139.57,97.48 140.74,97.21 141.9,96.76 143.06,96.1 144.23,95.29 145.39,94.32 146.56,93.06 147.72,91.57 148.88,89.89 150.05,87.86 151.21,85.49 152.38,82.93 153.54,80.23 154.7,77.28 155.87,74.04 157.03,70.33 158.19,66.14 159.36,62.05 160.52,58.04 161.69,54.74 162.85,52.3 164.01,51.08 165.18,52.06 166.34,54.21 167.5,58.14 168.67,63.79 169.83,70.65 170.99,78.67 172.16,87 173.32,95.67 174.49,102.42 175.65,108 176.81,112.53 177.98,116.28 179.14,119.43 180.31,122.06 181.47,124.32 182.63,126.24 183.8,127.98 184.96,129.49 186.12,130.73 187.29,131.76 188.45,132.66 189.61,133.44 190.78,134.13 191.94,134.75 193.11,135.29 194.27,135.76 195.43,136.15 196.6,136.48 197.76,136.73 198.92,136.93 200.09,137.08 201.25,137.22 202.42,137.34 203.58,137.45 204.74,137.55 205.91,137.64 207.07,137.72 208.23,137.8 209.4,137.87 210.56,137.94 211.73,138.01 212.89,138.08 214.05,138.15 215.22,138.22 216.38,138.28 217.54,138.35 218.71,138.41 219.87,138.47 221.04,138.53 222.2,138.58" fill="none" stroke="#d2383a" stroke-width="1.4" stroke-linejoin="round" stroke-linecap="round"/>
<polyline points="36,144.78 37.16,144.72 38.33,144.66 39.49,144.59 40.66,144.51 41.82,144.43 42.98,144.34 44.15,144.25 45.31,144.16 46.47,144.06 47.64,143.95 48.8,143.83 49.96,143.7 51.13,143.57 52.29,143.43 53.46,143.28 54.62,143.13 55.78,142.97 56.95,142.81 58.11,142.64 59.27,142.45 60.44,142.25 61.6,142.03 62.77,141.77 63.93,141.48 65.09,141.1 66.26,140.6 67.42,140.02 68.58,139.42 69.75,138.78 70.91,138.08 72.08,137.32 73.24,136.53 74.4,135.72 75.57,134.89 76.73,134.02 77.89,133.11 79.06,132.16 80.22,131.2 81.39,130.25 82.55,129.33 83.71,128.43 84.88,127.55 86.04,126.67 87.2,125.8 88.37,124.94 89.53,124.07 90.7,123.2 91.86,122.32 93.02,121.43 94.19,120.53 95.35,119.63 96.52,118.73 97.68,117.83 98.84,116.96 100.01,116.1 101.17,115.28 102.33,114.48 103.5,113.71 104.66,112.94 105.82,112.17 106.99,111.38 108.15,110.58 109.32,109.77 110.48,108.97 111.64,108.16 112.81,107.33 113.97,106.47 115.13,105.57 116.3,104.62 117.46,103.57 118.63,102.45 119.79,101.27 120.95,100.07 122.12,98.86 123.28,97.69 124.44,96.57 125.61,95.45 126.77,94.31 127.94,93.21 129.1,92.25 130.26,91.49 131.43,90.87 132.59,90.32 133.75,89.86 134.92,89.5 136.08,89.25 137.25,89.05 138.41,88.87 139.57,88.65 140.74,88.33 141.9,87.8 143.06,87.02 144.23,86.07 145.39,84.91 146.56,83.42 147.72,81.66 148.88,79.68 150.05,77.27 151.21,74.46 152.38,71.44 153.54,68.24 154.7,64.75 155.87,60.92 157.03,56.53 158.19,51.56 159.36,46.72 160.52,41.98 161.69,38.07 162.85,35.18 164.01,33.74 165.18,34.9 166.34,37.45 167.5,42.09 168.67,48.78 169.83,56.9 170.99,66.39 172.16,76.25 173.32,86.52 174.49,94.5 175.65,101.1 176.81,106.38 177.98,110.62 179.14,114.09 180.31,116.91 181.47,119.26 182.63,121.22 183.8,122.96 184.96,124.46 186.12,125.62 187.29,126.55 188.45,127.35 189.61,128.03 190.78,128.61 191.94,129.14 193.11,129.62 194.27,130.05 195.43,130.43 196.6,130.77 197.76,131.07 198.92,131.34 200.09,131.6 201.25,131.82 202.42,132.03 203.58,132.21 204.74,132.37 205.91,132.52 207.07,132.65 208.23,132.78 209.4,132.9 210.56,133.01 211.73,133.13 212.89,133.24 214.05,133.35 215.22,133.46 216.38,133.57 217.54,133.68 218.71,133.78 219.87,133.88 221.04,133.97 222.2,134.06" fill="none" stroke="#2a22c8" stroke-width="1.4" stroke-linejoin="round" stroke-linecap="round"/>
<rect x="36" y="22" width="186.2" height="123.6" fill="none" stroke="#111" stroke-width="1.6"/>
<line x1="31" y1="22" x2="36" y2="22" stroke="#111" stroke-width="1.5"/>
<text x="29.5" y="25.2" font-size="8.9" font-weight="bold" text-anchor="end" fill="#111">0.6</text>
<line x1="31" y1="63.2" x2="36" y2="63.2" stroke="#111" stroke-width="1.5"/>
<text x="29.5" y="66.4" font-size="8.9" font-weight="bold" text-anchor="end" fill="#111">0.4</text>
<line x1="31" y1="104.4" x2="36" y2="104.4" stroke="#111" stroke-width="1.5"/>
<text x="29.5" y="107.6" font-size="8.9" font-weight="bold" text-anchor="end" fill="#111">0.2</text>
<line x1="31" y1="145.6" x2="36" y2="145.6" stroke="#111" stroke-width="1.5"/>
<text x="29.5" y="148.8" font-size="8.9" font-weight="bold" text-anchor="end" fill="#111">0.0</text>
<line x1="36" y1="145.6" x2="36" y2="150.6" stroke="#111" stroke-width="1.5"/>
<text x="36" y="160.8" font-size="8.9" font-weight="bold" text-anchor="middle" fill="#111">500</text>
<line x1="82.55" y1="145.6" x2="82.55" y2="150.6" stroke="#111" stroke-width="1.5"/>
<text x="82.55" y="160.8" font-size="8.9" font-weight="bold" text-anchor="middle" fill="#111">600</text>
<line x1="129.1" y1="145.6" x2="129.1" y2="150.6" stroke="#111" stroke-width="1.5"/>
<text x="129.1" y="160.8" font-size="8.9" font-weight="bold" text-anchor="middle" fill="#111">700</text>
<line x1="175.65" y1="145.6" x2="175.65" y2="150.6" stroke="#111" stroke-width="1.5"/>
<text x="175.65" y="160.8" font-size="8.9" font-weight="bold" text-anchor="middle" fill="#111">800</text>
<line x1="222.2" y1="145.6" x2="222.2" y2="150.6" stroke="#111" stroke-width="1.5"/>
<text x="222.2" y="160.8" font-size="8.9" font-weight="bold" text-anchor="middle" fill="#111">900</text>
<text x="129.3" y="176.4" font-size="10.3" font-weight="bold" text-anchor="middle" fill="#111">Wavelength (nm)</text>
<text x="9.8" y="83" font-size="9.7" font-weight="bold" text-anchor="middle" fill="#111" transform="rotate(-90 9.8 83)">Absorbance</text>
<text x="4.6" y="14.3" font-size="16.5" font-weight="bold" text-anchor="start" fill="#111">A</text>
<line x1="41.2" y1="31.05" x2="54.7" y2="31.05" stroke="#2a22c8" stroke-width="1.5"/>
<text x="62.4" y="34.35" font-size="10" font-weight="bold" text-anchor="start" fill="#111">0 s</text>
<line x1="41.2" y1="47.75" x2="54.7" y2="47.75" stroke="#d2383a" stroke-width="1.5"/>
<text x="62.4" y="51.05" font-size="10" font-weight="bold" text-anchor="start" fill="#111">40 s</text>
<line x1="41.2" y1="64.45" x2="54.7" y2="64.45" stroke="#3fb24a" stroke-width="1.5"/>
<text x="62.4" y="67.75" font-size="10" font-weight="bold" text-anchor="start" fill="#111">80 s</text>
<line x1="41.2" y1="81.15" x2="54.7" y2="81.15" stroke="#a63cc0" stroke-width="1.5"/>
<text x="62.4" y="84.45" font-size="10" font-weight="bold" text-anchor="start" fill="#111">120 s</text>
<line x1="41.2" y1="97.85" x2="54.7" y2="97.85" stroke="#f09a34" stroke-width="1.5"/>
<text x="62.4" y="101.15" font-size="10" font-weight="bold" text-anchor="start" fill="#111">160 s</text>
<line x1="41.2" y1="114.55" x2="54.7" y2="114.55" stroke="#1a1a1a" stroke-width="1.5"/>
<text x="62.4" y="117.85" font-size="10" font-weight="bold" text-anchor="start" fill="#111">200 s</text>
<line x1="91.2" y1="31.05" x2="104.7" y2="31.05" stroke="#a07248" stroke-width="1.5"/>
<text x="112.4" y="34.35" font-size="10" font-weight="bold" text-anchor="start" fill="#111">240 s</text>
<line x1="91.2" y1="47.75" x2="104.7" y2="47.75" stroke="#1f2388" stroke-width="1.5"/>
<text x="112.4" y="51.05" font-size="10" font-weight="bold" text-anchor="start" fill="#111">280 s</text>
<line x1="91.2" y1="64.45" x2="104.7" y2="64.45" stroke="#8a2f7c" stroke-width="1.5"/>
<text x="112.4" y="67.75" font-size="10" font-weight="bold" text-anchor="start" fill="#111">320 s</text>
<line x1="91.2" y1="81.15" x2="104.7" y2="81.15" stroke="#a81c34" stroke-width="1.5"/>
<text x="112.4" y="84.45" font-size="10" font-weight="bold" text-anchor="start" fill="#111">360 s</text>
<text x="195.2" y="38.8" font-size="11.6" font-weight="bold" text-anchor="middle" fill="#111">IR780</text>
<line x1="194.3" y1="46.5" x2="194.3" y2="68.5" stroke="#111" stroke-width="1.8"/>
<polyline points="190.1,64 194.3,69.5 198.5,64" fill="none" stroke="#111" stroke-width="1.8" stroke-linejoin="miter"/>
<polyline points="276.9,135.17 277.98,135.74 279.06,136.31 280.14,136.87 281.22,137.43 282.3,137.97 283.38,138.52 284.47,139.06 285.55,139.61 286.63,140.16 287.71,140.69 288.79,141.2 289.87,141.67 290.95,142.12 292.03,142.56 293.11,142.99 294.19,143.38 295.27,143.73 296.35,144.03 297.44,144.29 298.52,144.55 299.6,144.78 300.68,144.98 301.76,145.12 302.84,145.21 303.92,145.25 305,145.29 306.08,145.32 307.16,145.35 308.24,145.37 309.32,145.39 310.41,145.4 311.49,145.4 312.57,145.39 313.65,145.37 314.73,145.32 315.81,145.27 316.89,145.2 317.97,145.13 319.05,145.05 320.13,144.97 321.21,144.89 322.29,144.81 323.38,144.74 324.46,144.66 325.54,144.57 326.62,144.48 327.7,144.39 328.78,144.29 329.86,144.18 330.94,144.07 332.02,143.95 333.1,143.83 334.18,143.7 335.26,143.56 336.34,143.41 337.43,143.24 338.51,143.07 339.59,142.88 340.67,142.67 341.75,142.45 342.83,142.21 343.91,141.93 344.99,141.62 346.07,141.29 347.15,140.92 348.23,140.54 349.31,140.13 350.4,139.7 351.48,139.23 352.56,138.72 353.64,138.16 354.72,137.55 355.8,136.88 356.88,136.16 357.96,135.35 359.04,134.44 360.12,133.44 361.2,132.34 362.28,131.15 363.37,129.86 364.45,128.45 365.53,126.87 366.61,125.1 367.69,123.13 368.77,120.95 369.85,118.44 370.93,115.55 372.01,112.22 373.09,108.38 374.17,103.57 375.25,97.83 376.33,91.5 377.42,84.19 378.5,76.05 379.58,67.91 380.66,59.57 381.74,51.54 382.82,43.6 383.9,38.67 384.98,36.22 386.06,38.17 387.14,42.37 388.22,49.74 389.3,56.88 390.39,63.75 391.47,69.3 392.55,73.96 393.63,77.81 394.71,81.08 395.79,83.55 396.87,85.53 397.95,86.97 399.03,87.92 400.11,88.66 401.19,89.32 402.27,89.89 403.36,90.73 404.44,92.31 405.52,94.58 406.6,98.12 407.68,102.12 408.76,106.37 409.84,110.46 410.92,113.83 412,116.84 413.08,119.43 414.16,121.65 415.24,123.58 416.32,125.26 417.41,126.74 418.49,128.06 419.57,129.27 420.65,130.41 421.73,131.46 422.81,132.47 423.89,133.43 424.97,134.38 426.05,135.3 427.13,136.2 428.21,137.07 429.29,137.91 430.38,138.71 431.46,139.52 432.54,140.33 433.62,141.11 434.7,141.84 435.78,142.5 436.86,143.04 437.94,143.52 439.02,143.98 440.1,144.39 441.18,144.75 442.26,145.03 443.35,145.21 444.43,145.32 445.51,145.43 446.59,145.51 447.67,145.57 448.75,145.6 449.83,145.57 450.91,145.45 451.99,145.26 453.07,145.04 454.15,144.81 455.23,144.54 456.32,144.21 457.4,143.83 458.48,143.44 459.56,143.03 460.64,142.6 461.72,142.15 462.8,141.67" fill="none" stroke="#a81c34" stroke-width="1.4" stroke-linejoin="round" stroke-linecap="round"/>
<polyline points="276.9,135.06 277.98,135.64 279.06,136.21 280.14,136.78 281.22,137.34 282.3,137.89 283.38,138.44 284.47,139 285.55,139.55 286.63,140.1 287.71,140.64 288.79,141.15 289.87,141.62 290.95,142.08 292.03,142.53 293.11,142.96 294.19,143.36 295.27,143.71 296.35,144.01 297.44,144.28 298.52,144.53 299.6,144.77 300.68,144.97 301.76,145.12 302.84,145.2 303.92,145.25 305,145.29 306.08,145.32 307.16,145.35 308.24,145.37 309.32,145.39 310.41,145.4 311.49,145.4 312.57,145.39 313.65,145.36 314.73,145.32 315.81,145.26 316.89,145.2 317.97,145.12 319.05,145.04 320.13,144.96 321.21,144.88 322.29,144.8 323.38,144.73 324.46,144.65 325.54,144.56 326.62,144.47 327.7,144.37 328.78,144.27 329.86,144.17 330.94,144.05 332.02,143.94 333.1,143.81 334.18,143.68 335.26,143.54 336.34,143.38 337.43,143.22 338.51,143.04 339.59,142.85 340.67,142.64 341.75,142.42 342.83,142.17 343.91,141.89 344.99,141.58 346.07,141.24 347.15,140.88 348.23,140.48 349.31,140.07 350.4,139.64 351.48,139.17 352.56,138.65 353.64,138.09 354.72,137.47 355.8,136.79 356.88,136.06 357.96,135.24 359.04,134.33 360.12,133.31 361.2,132.2 362.28,130.99 363.37,129.7 364.45,128.27 365.53,126.67 366.61,124.89 367.69,122.9 368.77,120.69 369.85,118.16 370.93,115.24 372.01,111.87 373.09,107.99 374.17,103.13 375.25,97.33 376.33,90.93 377.42,83.55 378.5,75.32 379.58,67.1 380.66,58.67 381.74,50.56 382.82,42.53 383.9,37.55 384.98,35.07 386.06,37.04 387.14,41.29 388.22,48.74 389.3,55.95 390.39,62.89 391.47,68.5 392.55,73.21 393.63,77.1 394.71,80.4 395.79,82.9 396.87,84.9 397.95,86.36 399.03,87.32 400.11,88.06 401.19,88.74 402.27,89.31 403.36,90.15 404.44,91.75 405.52,94.04 406.6,97.63 407.68,101.67 408.76,105.96 409.84,110.09 410.92,113.5 412,116.54 413.08,119.16 414.16,121.4 415.24,123.35 416.32,125.05 417.41,126.54 418.49,127.87 419.57,129.1 420.65,130.25 421.73,131.32 422.81,132.33 423.89,133.31 424.97,134.26 426.05,135.19 427.13,136.1 428.21,136.98 429.29,137.83 430.38,138.64 431.46,139.45 432.54,140.27 433.62,141.06 434.7,141.8 435.78,142.47 436.86,143.02 437.94,143.5 439.02,143.96 440.1,144.38 441.18,144.74 442.26,145.02 443.35,145.2 444.43,145.32 445.51,145.43 446.59,145.51 447.67,145.57 448.75,145.6 449.83,145.57 450.91,145.44 451.99,145.26 453.07,145.04 454.15,144.8 455.23,144.53 456.32,144.19 457.4,143.81 458.48,143.41 459.56,143.01 460.64,142.57 461.72,142.11 462.8,141.62" fill="none" stroke="#8a2f7c" stroke-width="1.4" stroke-linejoin="round" stroke-linecap="round"/>
<polyline points="276.9,134.85 277.98,135.43 279.06,136.02 280.14,136.6 281.22,137.17 282.3,137.73 283.38,138.3 284.47,138.86 285.55,139.43 286.63,139.99 287.71,140.54 288.79,141.06 289.87,141.54 290.95,142.01 292.03,142.47 293.11,142.9 294.19,143.31 295.27,143.67 296.35,143.98 297.44,144.25 298.52,144.51 299.6,144.75 300.68,144.96 301.76,145.11 302.84,145.19 303.92,145.24 305,145.28 306.08,145.31 307.16,145.34 308.24,145.37 309.32,145.38 310.41,145.39 311.49,145.4 312.57,145.39 313.65,145.36 314.73,145.31 315.81,145.26 316.89,145.19 317.97,145.11 319.05,145.03 320.13,144.95 321.21,144.87 322.29,144.79 323.38,144.71 324.46,144.63 325.54,144.54 326.62,144.45 327.7,144.35 328.78,144.25 329.86,144.14 330.94,144.02 332.02,143.9 333.1,143.77 334.18,143.64 335.26,143.49 336.34,143.34 337.43,143.17 338.51,142.99 339.59,142.79 340.67,142.58 341.75,142.35 342.83,142.1 343.91,141.81 344.99,141.5 346.07,141.15 347.15,140.78 348.23,140.38 349.31,139.96 350.4,139.51 351.48,139.03 352.56,138.51 353.64,137.93 354.72,137.3 355.8,136.61 356.88,135.86 357.96,135.03 359.04,134.09 360.12,133.06 361.2,131.92 362.28,130.69 363.37,129.37 364.45,127.91 365.53,126.28 366.61,124.46 367.69,122.43 368.77,120.17 369.85,117.59 370.93,114.61 372.01,111.17 373.09,107.21 374.17,102.25 375.25,96.33 376.33,89.8 377.42,82.26 378.5,73.87 379.58,65.47 380.66,56.87 381.74,48.59 382.82,40.4 383.9,35.31 384.98,32.78 386.06,34.79 387.14,39.13 388.22,46.73 389.3,54.09 390.39,61.18 391.47,66.9 392.55,71.71 393.63,75.68 394.71,79.05 395.79,81.6 396.87,83.64 397.95,85.13 399.03,86.11 400.11,86.87 401.19,87.56 402.27,88.14 403.36,89.01 404.44,90.64 405.52,92.97 406.6,96.63 407.68,100.76 408.76,105.14 409.84,109.35 410.92,112.83 412,115.94 413.08,118.61 414.16,120.89 415.24,122.89 416.32,124.62 417.41,126.14 418.49,127.51 419.57,128.76 420.65,129.93 421.73,131.02 422.81,132.05 423.89,133.05 424.97,134.03 426.05,134.98 427.13,135.9 428.21,136.8 429.29,137.67 430.38,138.5 431.46,139.33 432.54,140.16 433.62,140.97 434.7,141.73 435.78,142.4 436.86,142.96 437.94,143.45 439.02,143.93 440.1,144.35 441.18,144.72 442.26,145.01 443.35,145.19 444.43,145.32 445.51,145.42 446.59,145.51 447.67,145.57 448.75,145.6 449.83,145.57 450.91,145.44 451.99,145.25 453.07,145.02 454.15,144.79 455.23,144.51 456.32,144.16 457.4,143.77 458.48,143.37 459.56,142.95 460.64,142.51 461.72,142.04 462.8,141.54" fill="none" stroke="#d2383a" stroke-width="1.4" stroke-linejoin="round" stroke-linecap="round"/>
<polyline points="276.9,134.68 277.98,135.28 279.06,135.87 280.14,136.46 281.22,137.04 282.3,137.62 283.38,138.18 284.47,138.76 285.55,139.33 286.63,139.9 287.71,140.46 288.79,140.99 289.87,141.48 290.95,141.95 292.03,142.42 293.11,142.86 294.19,143.28 295.27,143.64 296.35,143.95 297.44,144.23 298.52,144.5 299.6,144.74 300.68,144.95 301.76,145.1 302.84,145.19 303.92,145.23 305,145.27 306.08,145.31 307.16,145.34 308.24,145.36 309.32,145.38 310.41,145.39 311.49,145.39 312.57,145.38 313.65,145.35 314.73,145.31 315.81,145.25 316.89,145.18 317.97,145.1 319.05,145.02 320.13,144.94 321.21,144.86 322.29,144.78 323.38,144.7 324.46,144.61 325.54,144.52 326.62,144.43 327.7,144.33 328.78,144.23 329.86,144.11 330.94,144 332.02,143.88 333.1,143.75 334.18,143.61 335.26,143.46 336.34,143.3 337.43,143.13 338.51,142.95 339.59,142.75 340.67,142.54 341.75,142.3 342.83,142.05 343.91,141.76 344.99,141.43 346.07,141.08 347.15,140.7 348.23,140.3 349.31,139.87 350.4,139.42 351.48,138.93 352.56,138.4 353.64,137.81 354.72,137.17 355.8,136.47 356.88,135.71 357.96,134.87 359.04,133.92 360.12,132.87 361.2,131.71 362.28,130.46 363.37,129.12 364.45,127.64 365.53,125.99 366.61,124.14 367.69,122.07 368.77,119.78 369.85,117.17 370.93,114.14 372.01,110.65 373.09,106.63 374.17,101.59 375.25,95.58 376.33,88.95 377.42,81.3 378.5,72.77 379.58,64.25 380.66,55.52 381.74,47.11 382.82,38.79 383.9,33.63 384.98,31.06 386.06,33.1 387.14,37.51 388.22,45.23 389.3,52.7 390.39,59.89 391.47,65.7 392.55,70.59 393.63,74.62 394.71,78.04 395.79,80.63 396.87,82.7 397.95,84.21 399.03,85.2 400.11,85.97 401.19,86.67 402.27,87.27 403.36,88.14 404.44,89.8 405.52,92.17 406.6,95.89 407.68,100.07 408.76,104.53 409.84,108.8 410.92,112.33 412,115.49 413.08,118.2 414.16,120.52 415.24,122.54 416.32,124.3 417.41,125.85 418.49,127.23 419.57,128.5 420.65,129.69 421.73,130.8 422.81,131.85 423.89,132.86 424.97,133.85 426.05,134.82 427.13,135.76 428.21,136.67 429.29,137.54 430.38,138.39 431.46,139.23 432.54,140.08 433.62,140.9 434.7,141.67 435.78,142.35 436.86,142.92 437.94,143.42 439.02,143.9 440.1,144.34 441.18,144.71 442.26,145 443.35,145.19 444.43,145.31 445.51,145.42 446.59,145.51 447.67,145.57 448.75,145.6 449.83,145.57 450.91,145.44 451.99,145.25 453.07,145.02 454.15,144.78 455.23,144.49 456.32,144.14 457.4,143.74 458.48,143.33 459.56,142.91 460.64,142.46 461.72,141.98 462.8,141.48" fill="none" stroke="#2a22c8" stroke-width="1.5" stroke-linejoin="round" stroke-linecap="round"/>
<rect x="276.9" y="22" width="185.9" height="123.6" fill="none" stroke="#111" stroke-width="1.6"/>
<line x1="271.9" y1="22" x2="276.9" y2="22" stroke="#111" stroke-width="1.5"/>
<text x="270.4" y="25.2" font-size="8.9" font-weight="bold" text-anchor="end" fill="#111">0.6</text>
<line x1="271.9" y1="63.2" x2="276.9" y2="63.2" stroke="#111" stroke-width="1.5"/>
<text x="270.4" y="66.4" font-size="8.9" font-weight="bold" text-anchor="end" fill="#111">0.4</text>
<line x1="271.9" y1="104.4" x2="276.9" y2="104.4" stroke="#111" stroke-width="1.5"/>
<text x="270.4" y="107.6" font-size="8.9" font-weight="bold" text-anchor="end" fill="#111">0.2</text>
<line x1="271.9" y1="145.6" x2="276.9" y2="145.6" stroke="#111" stroke-width="1.5"/>
<text x="270.4" y="148.8" font-size="8.9" font-weight="bold" text-anchor="end" fill="#111">0.0</text>
<line x1="289.87" y1="145.6" x2="289.87" y2="150.6" stroke="#111" stroke-width="1.5"/>
<text x="289.87" y="160.8" font-size="8.9" font-weight="bold" text-anchor="middle" fill="#111">500</text>
<line x1="333.1" y1="145.6" x2="333.1" y2="150.6" stroke="#111" stroke-width="1.5"/>
<text x="333.1" y="160.8" font-size="8.9" font-weight="bold" text-anchor="middle" fill="#111">600</text>
<line x1="376.33" y1="145.6" x2="376.33" y2="150.6" stroke="#111" stroke-width="1.5"/>
<text x="376.33" y="160.8" font-size="8.9" font-weight="bold" text-anchor="middle" fill="#111">700</text>
<line x1="419.57" y1="145.6" x2="419.57" y2="150.6" stroke="#111" stroke-width="1.5"/>
<text x="419.57" y="160.8" font-size="8.9" font-weight="bold" text-anchor="middle" fill="#111">800</text>
<line x1="462.8" y1="145.6" x2="462.8" y2="150.6" stroke="#111" stroke-width="1.5"/>
<text x="462.8" y="160.8" font-size="8.9" font-weight="bold" text-anchor="middle" fill="#111">900</text>
<text x="370.05" y="176.4" font-size="10.3" font-weight="bold" text-anchor="middle" fill="#111">Wavelength (nm)</text>
<text x="250.7" y="83" font-size="9.7" font-weight="bold" text-anchor="middle" fill="#111" transform="rotate(-90 250.7 83)">Absorbance</text>
<text x="240.6" y="14.6" font-size="16.5" font-weight="bold" text-anchor="start" fill="#111">B</text>
<line x1="281.4" y1="31.05" x2="294.9" y2="31.05" stroke="#2a22c8" stroke-width="1.5"/>
<text x="302.6" y="34.35" font-size="10" font-weight="bold" text-anchor="start" fill="#111">0 s</text>
<line x1="281.4" y1="47.75" x2="294.9" y2="47.75" stroke="#d2383a" stroke-width="1.5"/>
<text x="302.6" y="51.05" font-size="10" font-weight="bold" text-anchor="start" fill="#111">40 s</text>
<line x1="281.4" y1="64.45" x2="294.9" y2="64.45" stroke="#3fb24a" stroke-width="1.5"/>
<text x="302.6" y="67.75" font-size="10" font-weight="bold" text-anchor="start" fill="#111">80 s</text>
<line x1="281.4" y1="81.15" x2="294.9" y2="81.15" stroke="#a63cc0" stroke-width="1.5"/>
<text x="302.6" y="84.45" font-size="10" font-weight="bold" text-anchor="start" fill="#111">120 s</text>
<line x1="281.4" y1="97.85" x2="294.9" y2="97.85" stroke="#f09a34" stroke-width="1.5"/>
<text x="302.6" y="101.15" font-size="10" font-weight="bold" text-anchor="start" fill="#111">160 s</text>
<line x1="281.4" y1="114.55" x2="294.9" y2="114.55" stroke="#1a1a1a" stroke-width="1.5"/>
<text x="302.6" y="117.85" font-size="10" font-weight="bold" text-anchor="start" fill="#111">200 s</text>
<line x1="331.4" y1="31.05" x2="344.9" y2="31.05" stroke="#a07248" stroke-width="1.5"/>
<text x="352.6" y="34.35" font-size="10" font-weight="bold" text-anchor="start" fill="#111">240 s</text>
<line x1="331.4" y1="47.75" x2="344.9" y2="47.75" stroke="#1f2388" stroke-width="1.5"/>
<text x="352.6" y="51.05" font-size="10" font-weight="bold" text-anchor="start" fill="#111">280 s</text>
<line x1="331.4" y1="64.45" x2="344.9" y2="64.45" stroke="#8a2f7c" stroke-width="1.5"/>
<text x="352.6" y="67.75" font-size="10" font-weight="bold" text-anchor="start" fill="#111">320 s</text>
<line x1="331.4" y1="81.15" x2="344.9" y2="81.15" stroke="#a81c34" stroke-width="1.5"/>
<text x="352.6" y="84.45" font-size="10" font-weight="bold" text-anchor="start" fill="#111">360 s</text>
<text x="409.4" y="37.2" font-size="12" font-weight="bold" text-anchor="start" fill="#111">IR780@</text>
<text x="409.4" y="51" font-size="12" font-weight="bold" text-anchor="start" fill="#111">SAC4A</text>
<line x1="430.4" y1="59" x2="430.4" y2="80.2" stroke="#111" stroke-width="1.8"/>
<polyline points="426.2,75.7 430.4,81.2 434.6,75.7" fill="none" stroke="#111" stroke-width="1.8" stroke-linejoin="miter"/>
<polyline points="36,313.61 37.16,313.58 38.33,313.55 39.49,313.51 40.66,313.46 41.83,313.4 42.99,313.35 44.16,313.28 45.32,313.22 46.48,313.15 47.65,313.07 48.81,312.98 49.98,312.89 51.15,312.78 52.31,312.67 53.48,312.56 54.64,312.43 55.8,312.3 56.97,312.16 58.13,312.01 59.3,311.84 60.47,311.67 61.63,311.48 62.8,311.27 63.96,311.06 65.12,310.82 66.29,310.56 67.45,310.28 68.62,309.97 69.78,309.64 70.95,309.28 72.12,308.9 73.28,308.5 74.44,308.04 75.61,307.51 76.78,306.93 77.94,306.32 79.11,305.71 80.27,305.12 81.44,304.52 82.6,303.91 83.77,303.29 84.93,302.67 86.09,302.04 87.26,301.42 88.43,300.79 89.59,300.15 90.75,299.5 91.92,298.86 93.09,298.22 94.25,297.59 95.41,296.97 96.58,296.35 97.75,295.75 98.91,295.14 100.08,294.55 101.24,293.95 102.41,293.36 103.57,292.76 104.73,292.18 105.9,291.6 107.06,291.03 108.23,290.44 109.39,289.85 110.56,289.23 111.73,288.6 112.89,287.97 114.06,287.33 115.22,286.67 116.39,285.96 117.55,285.2 118.72,284.38 119.88,283.42 121.05,282.35 122.21,281.22 123.38,280.07 124.54,278.96 125.7,277.82 126.87,276.65 128.04,275.55 129.2,274.64 130.37,273.9 131.53,273.25 132.69,272.8 133.86,272.56 135.03,272.41 136.19,272.33 137.35,272.3 138.52,272.33 139.69,272.36 140.85,272.32 142.01,272.12 143.18,271.79 144.35,271.35 145.51,270.66 146.68,269.83 147.84,268.94 149,267.93 150.17,266.68 151.34,265.06 152.5,262.89 153.67,260.31 154.83,257.46 156,254.06 157.16,250.35 158.32,246.48 159.49,242.32 160.66,238.8 161.82,235.79 162.99,233.94 164.15,233.12 165.31,234.06 166.48,236.25 167.65,240.44 168.81,245.57 169.97,251.95 171.14,258.64 172.31,265.25 173.47,271.73 174.64,277.42 175.8,282.6 176.97,286.73 178.13,290.01 179.3,292.58 180.46,294.49 181.62,295.97 182.79,296.99 183.95,297.74 185.12,298.31 186.28,298.72 187.45,299.01 188.62,299.22 189.78,299.39 190.95,299.54 192.11,299.68 193.28,299.8 194.44,299.93 195.6,300.08 196.77,300.26 197.94,300.48 199.1,300.74 200.27,301.04 201.43,301.38 202.6,301.76 203.76,302.17 204.93,302.63 206.09,303.13 207.25,303.64 208.42,304.14 209.59,304.6 210.75,305.01 211.91,305.38 213.08,305.75 214.25,306.08 215.41,306.33 216.58,306.46 217.74,306.49 218.91,306.5 220.07,306.51 221.24,306.52 222.4,306.52" fill="none" stroke="#1a1a1a" stroke-width="1.4" stroke-linejoin="round" stroke-linecap="round"/>
<polyline points="36,313.61 37.16,313.58 38.33,313.54 39.49,313.5 40.66,313.45 41.83,313.4 42.99,313.34 44.16,313.28 45.32,313.21 46.48,313.14 47.65,313.06 48.81,312.97 49.98,312.88 51.15,312.77 52.31,312.66 53.48,312.55 54.64,312.42 55.8,312.29 56.97,312.15 58.13,311.99 59.3,311.83 60.47,311.65 61.63,311.46 62.8,311.26 63.96,311.04 65.12,310.8 66.29,310.54 67.45,310.25 68.62,309.94 69.78,309.61 70.95,309.25 72.12,308.87 73.28,308.47 74.44,308.01 75.61,307.47 76.78,306.89 77.94,306.27 79.11,305.66 80.27,305.06 81.44,304.46 82.6,303.85 83.77,303.23 84.93,302.6 86.09,301.98 87.26,301.35 88.43,300.71 89.59,300.07 90.75,299.42 91.92,298.78 93.09,298.13 94.25,297.5 95.41,296.87 96.58,296.25 97.75,295.64 98.91,295.04 100.08,294.44 101.24,293.84 102.41,293.24 103.57,292.64 104.73,292.05 105.9,291.47 107.06,290.9 108.23,290.31 109.39,289.71 110.56,289.09 111.73,288.46 112.89,287.83 114.06,287.18 115.22,286.51 116.39,285.8 117.55,285.04 118.72,284.2 119.88,283.24 121.05,282.17 122.21,281.02 123.38,279.87 124.54,278.74 125.7,277.6 126.87,276.41 128.04,275.29 129.2,274.37 130.37,273.61 131.53,272.95 132.69,272.49 133.86,272.23 135.03,272.07 136.19,271.97 137.35,271.92 138.52,271.93 139.69,271.94 140.85,271.88 142.01,271.65 143.18,271.3 144.35,270.83 145.51,270.11 146.68,269.25 147.84,268.32 149,267.27 150.17,265.98 151.34,264.31 152.5,262.08 153.67,259.44 154.83,256.53 156,253.06 157.16,249.28 158.32,245.34 159.49,241.1 160.66,237.52 161.82,234.47 162.99,232.61 164.15,231.79 165.31,232.78 166.48,235.03 167.65,239.32 168.81,244.56 169.97,251.06 171.14,257.88 172.31,264.61 173.47,271.2 174.64,276.98 175.8,282.24 176.97,286.43 178.13,289.75 179.3,292.37 180.46,294.3 181.62,295.82 182.79,296.85 183.95,297.62 185.12,298.21 186.28,298.64 187.45,298.95 188.62,299.18 189.78,299.36 190.95,299.54 192.11,299.7 193.28,299.84 194.44,299.99 195.6,300.15 196.77,300.35 197.94,300.58 199.1,300.84 200.27,301.14 201.43,301.48 202.6,301.85 203.76,302.25 204.93,302.69 206.09,303.18 207.25,303.67 208.42,304.16 209.59,304.61 210.75,305 211.91,305.37 213.08,305.74 214.25,306.06 215.41,306.3 216.58,306.43 217.74,306.45 218.91,306.46 220.07,306.47 221.24,306.48 222.4,306.48" fill="none" stroke="#f09a34" stroke-width="1.4" stroke-linejoin="round" stroke-linecap="round"/>
<polyline points="36,313.6 37.16,313.57 38.33,313.53 39.49,313.49 40.66,313.44 41.83,313.39 42.99,313.33 44.16,313.26 45.32,313.2 46.48,313.13 47.65,313.05 48.81,312.96 49.98,312.86 51.15,312.75 52.31,312.64 53.48,312.52 54.64,312.4 55.8,312.26 56.97,312.12 58.13,311.97 59.3,311.8 60.47,311.62 61.63,311.42 62.8,311.22 63.96,311 65.12,310.76 66.29,310.49 67.45,310.2 68.62,309.89 69.78,309.55 70.95,309.19 72.12,308.8 73.28,308.39 74.44,307.93 75.61,307.38 76.78,306.79 77.94,306.17 79.11,305.55 80.27,304.95 81.44,304.34 82.6,303.72 83.77,303.09 84.93,302.46 86.09,301.82 87.26,301.19 88.43,300.54 89.59,299.89 90.75,299.24 91.92,298.58 93.09,297.93 94.25,297.29 95.41,296.65 96.58,296.03 97.75,295.41 98.91,294.8 100.08,294.19 101.24,293.59 102.41,292.98 103.57,292.38 104.73,291.78 105.9,291.19 107.06,290.61 108.23,290.01 109.39,289.41 110.56,288.78 111.73,288.13 112.89,287.49 114.06,286.84 115.22,286.16 116.39,285.44 117.55,284.66 118.72,283.82 119.88,282.84 121.05,281.74 122.21,280.58 123.38,279.4 124.54,278.25 125.7,277.08 126.87,275.86 128.04,274.71 129.2,273.76 130.37,272.97 131.53,272.28 132.69,271.78 133.86,271.49 135.03,271.28 136.19,271.14 137.35,271.06 138.52,271.03 139.69,270.99 140.85,270.88 142.01,270.61 143.18,270.2 144.35,269.66 145.51,268.87 146.68,267.92 147.84,266.92 149,265.77 150.17,264.39 151.34,262.62 152.5,260.26 153.67,257.49 154.83,254.43 156,250.8 157.16,246.85 158.32,242.75 159.49,238.34 160.66,234.64 161.82,231.5 162.99,229.6 164.15,228.79 165.31,229.87 166.48,232.27 167.65,236.78 168.81,242.27 169.97,249.05 171.14,256.15 172.31,263.15 173.47,269.98 174.64,275.97 175.8,281.42 176.97,285.75 178.13,289.18 179.3,291.89 180.46,293.89 181.62,295.46 182.79,296.54 183.95,297.36 185.12,297.99 186.28,298.46 187.45,298.81 188.62,299.08 189.78,299.31 190.95,299.53 192.11,299.74 193.28,299.93 194.44,300.11 195.6,300.31 196.77,300.54 197.94,300.79 199.1,301.07 200.27,301.37 201.43,301.69 202.6,302.04 203.76,302.42 204.93,302.83 206.09,303.29 207.25,303.75 208.42,304.21 209.59,304.63 210.75,305 211.91,305.34 213.08,305.69 214.25,306 215.41,306.23 216.58,306.35 217.74,306.37 218.91,306.37 220.07,306.38 221.24,306.38 222.4,306.39" fill="none" stroke="#a63cc0" stroke-width="1.4" stroke-linejoin="round" stroke-linecap="round"/>
<polyline points="36,313.59 37.16,313.56 38.33,313.53 39.49,313.48 40.66,313.43 41.83,313.38 42.99,313.32 44.16,313.26 45.32,313.19 46.48,313.12 47.65,313.04 48.81,312.95 49.98,312.85 51.15,312.74 52.31,312.63 53.48,312.51 54.64,312.38 55.8,312.25 56.97,312.11 58.13,311.95 59.3,311.78 60.47,311.6 61.63,311.4 62.8,311.2 63.96,310.97 65.12,310.73 66.29,310.46 67.45,310.17 68.62,309.86 69.78,309.52 70.95,309.15 72.12,308.76 73.28,308.35 74.44,307.88 75.61,307.34 76.78,306.74 77.94,306.12 79.11,305.49 80.27,304.89 81.44,304.27 82.6,303.65 83.77,303.02 84.93,302.38 86.09,301.74 87.26,301.1 88.43,300.45 89.59,299.79 90.75,299.14 91.92,298.48 93.09,297.82 94.25,297.17 95.41,296.53 96.58,295.91 97.75,295.28 98.91,294.67 100.08,294.05 101.24,293.44 102.41,292.84 103.57,292.23 104.73,291.62 105.9,291.03 107.06,290.44 108.23,289.85 109.39,289.24 110.56,288.6 111.73,287.95 112.89,287.31 114.06,286.65 115.22,285.96 116.39,285.24 117.55,284.45 118.72,283.6 119.88,282.61 121.05,281.51 122.21,280.33 123.38,279.14 124.54,277.98 125.7,276.79 126.87,275.55 128.04,274.39 129.2,273.42 130.37,272.61 131.53,271.9 132.69,271.38 133.86,271.07 135.03,270.85 136.19,270.69 137.35,270.58 138.52,270.53 139.69,270.47 140.85,270.33 142.01,270.02 143.18,269.58 144.35,269 145.51,268.17 146.68,267.18 147.84,266.13 149,264.94 150.17,263.5 151.34,261.67 152.5,259.25 153.67,256.39 154.83,253.25 156,249.54 157.16,245.49 158.32,241.3 159.49,236.8 160.66,233.03 161.82,229.83 162.99,227.91 164.15,227.12 165.31,228.25 166.48,230.73 167.65,235.36 168.81,240.98 169.97,247.93 171.14,255.18 172.31,262.33 173.47,269.3 174.64,275.41 175.8,280.96 176.97,285.37 178.13,288.87 179.3,291.62 180.46,293.66 181.62,295.27 182.79,296.37 183.95,297.21 185.12,297.86 186.28,298.35 187.45,298.73 188.62,299.02 189.78,299.28 190.95,299.53 192.11,299.76 193.28,299.98 194.44,300.19 195.6,300.4 196.77,300.65 197.94,300.91 199.1,301.19 200.27,301.49 201.43,301.81 202.6,302.15 203.76,302.52 204.93,302.91 206.09,303.35 207.25,303.8 208.42,304.23 209.59,304.64 210.75,304.99 211.91,305.33 213.08,305.67 214.25,305.97 215.41,306.19 216.58,306.31 217.74,306.32 218.91,306.32 220.07,306.33 221.24,306.33 222.4,306.33" fill="none" stroke="#3fb24a" stroke-width="1.4" stroke-linejoin="round" stroke-linecap="round"/>
<polyline points="36,313.59 37.16,313.56 38.33,313.52 39.49,313.48 40.66,313.42 41.83,313.37 42.99,313.31 44.16,313.25 45.32,313.18 46.48,313.11 47.65,313.02 48.81,312.93 49.98,312.83 51.15,312.73 52.31,312.61 53.48,312.49 54.64,312.36 55.8,312.23 56.97,312.08 58.13,311.93 59.3,311.75 60.47,311.57 61.63,311.37 62.8,311.16 63.96,310.94 65.12,310.7 66.29,310.43 67.45,310.13 68.62,309.81 69.78,309.47 70.95,309.1 72.12,308.71 73.28,308.29 74.44,307.82 75.61,307.27 76.78,306.67 77.94,306.04 79.11,305.41 80.27,304.79 81.44,304.18 82.6,303.55 83.77,302.91 84.93,302.26 86.09,301.62 87.26,300.97 88.43,300.32 89.59,299.65 90.75,298.99 91.92,298.32 93.09,297.66 94.25,297.01 95.41,296.36 96.58,295.73 97.75,295.1 98.91,294.48 100.08,293.86 101.24,293.24 102.41,292.63 103.57,292.01 104.73,291.41 105.9,290.81 107.06,290.21 108.23,289.61 109.39,288.99 110.56,288.35 111.73,287.7 112.89,287.04 114.06,286.38 115.22,285.68 116.39,284.95 117.55,284.16 118.72,283.29 119.88,282.29 121.05,281.17 122.21,279.98 123.38,278.77 124.54,277.59 125.7,276.38 126.87,275.12 128.04,273.93 129.2,272.94 130.37,272.1 131.53,271.36 132.69,270.81 133.86,270.48 135.03,270.23 136.19,270.04 137.35,269.9 138.52,269.81 139.69,269.72 140.85,269.54 142.01,269.19 143.18,268.7 144.35,268.07 145.51,267.18 146.68,266.13 147.84,265.01 149,263.75 150.17,262.24 151.34,260.33 152.5,257.8 153.67,254.84 154.83,251.58 156,247.74 157.16,243.57 158.32,239.24 159.49,234.61 160.66,230.74 161.82,227.46 162.99,225.52 164.15,224.73 165.31,225.94 166.48,228.54 167.65,233.34 168.81,239.16 169.97,246.33 171.14,253.81 172.31,261.17 173.47,268.34 174.64,274.61 175.8,280.3 176.97,284.83 178.13,288.41 179.3,291.24 180.46,293.34 181.62,294.99 182.79,296.13 183.95,297 185.12,297.69 186.28,298.21 187.45,298.61 188.62,298.95 189.78,299.24 190.95,299.52 192.11,299.79 193.28,300.04 194.44,300.29 195.6,300.54 196.77,300.8 197.94,301.08 199.1,301.37 200.27,301.67 201.43,301.98 202.6,302.31 203.76,302.65 204.93,303.03 206.09,303.44 207.25,303.86 208.42,304.27 209.59,304.66 210.75,304.99 211.91,305.31 213.08,305.63 214.25,305.92 215.41,306.14 216.58,306.25 217.74,306.25 218.91,306.25 220.07,306.26 221.24,306.26 222.4,306.26" fill="none" stroke="#d2383a" stroke-width="1.4" stroke-linejoin="round" stroke-linecap="round"/>
<polyline points="36,313.62 37.16,313.6 38.33,313.56 39.49,313.52 40.66,313.47 41.83,313.42 42.99,313.36 44.16,313.3 45.32,313.24 46.48,313.17 47.65,313.09 48.81,313 49.98,312.91 51.15,312.81 52.31,312.7 53.48,312.58 54.64,312.46 55.8,312.33 56.97,312.19 58.13,312.04 59.3,311.88 60.47,311.71 61.63,311.52 62.8,311.32 63.96,311.1 65.12,310.87 66.29,310.62 67.45,310.34 68.62,310.03 69.78,309.71 70.95,309.35 72.12,308.98 73.28,308.58 74.44,308.13 75.61,307.61 76.78,307.04 77.94,306.44 79.11,305.84 80.27,305.25 81.44,304.66 82.6,304.06 83.77,303.45 84.93,302.84 86.09,302.22 87.26,301.61 88.43,300.98 89.59,300.36 90.75,299.72 91.92,299.09 93.09,298.46 94.25,297.83 95.41,297.22 96.58,296.62 97.75,296.02 98.91,295.42 100.08,294.84 101.24,294.25 102.41,293.66 103.57,293.08 104.73,292.5 105.9,291.93 107.06,291.37 108.23,290.8 109.39,290.21 110.56,289.6 111.73,288.98 112.89,288.36 114.06,287.73 115.22,287.08 116.39,286.39 117.55,285.64 118.72,284.83 119.88,283.9 121.05,282.85 122.21,281.74 123.38,280.62 124.54,279.54 125.7,278.43 126.87,277.29 128.04,276.23 129.2,275.36 130.37,274.65 131.53,274.05 132.69,273.64 133.86,273.44 135.03,273.33 136.19,273.29 137.35,273.31 138.52,273.39 139.69,273.47 140.85,273.49 142.01,273.35 143.18,273.1 144.35,272.73 145.51,272.13 146.68,271.39 147.84,270.6 149,269.68 150.17,268.55 151.34,267.06 152.5,265.03 153.67,262.61 154.83,259.93 156,256.72 157.16,253.21 158.32,249.53 159.49,245.56 160.66,242.19 161.82,239.29 162.99,237.49 164.15,236.65 165.31,237.48 166.48,239.5 167.65,243.43 168.81,248.27 169.97,254.31 171.14,260.67 172.31,266.97 173.47,273.16 174.64,278.6 175.8,283.57 176.97,287.54 178.13,290.68 179.3,293.15 180.46,294.97 181.62,296.39 182.79,297.35 183.95,298.05 185.12,298.57 186.28,298.94 187.45,299.18 188.62,299.34 189.78,299.45 190.95,299.55 192.11,299.63 193.28,299.7 194.44,299.78 195.6,299.88 196.77,300.03 197.94,300.23 199.1,300.48 200.27,300.78 201.43,301.13 202.6,301.53 203.76,301.97 204.93,302.46 206.09,303 207.25,303.55 208.42,304.08 209.59,304.58 210.75,305.01 211.91,305.42 213.08,305.81 214.25,306.15 215.41,306.41 216.58,306.55 217.74,306.58 218.91,306.61 220.07,306.62 221.24,306.63 222.4,306.64" fill="none" stroke="#a07248" stroke-width="1.4" stroke-linejoin="round" stroke-linecap="round"/>
<polyline points="36,313.62 37.16,313.6 38.33,313.56 39.49,313.52 40.66,313.47 41.83,313.42 42.99,313.36 44.16,313.3 45.32,313.24 46.48,313.17 47.65,313.09 48.81,313 49.98,312.91 51.15,312.8 52.31,312.69 53.48,312.58 54.64,312.46 55.8,312.33 56.97,312.19 58.13,312.04 59.3,311.88 60.47,311.7 61.63,311.51 62.8,311.31 63.96,311.1 65.12,310.87 66.29,310.61 67.45,310.33 68.62,310.03 69.78,309.7 70.95,309.35 72.12,308.97 73.28,308.58 74.44,308.12 75.61,307.6 76.78,307.02 77.94,306.42 79.11,305.82 80.27,305.24 81.44,304.65 82.6,304.05 83.77,303.44 84.93,302.82 86.09,302.2 87.26,301.59 88.43,300.96 89.59,300.33 90.75,299.7 91.92,299.06 93.09,298.43 94.25,297.81 95.41,297.19 96.58,296.59 97.75,295.99 98.91,295.4 100.08,294.81 101.24,294.22 102.41,293.63 103.57,293.05 104.73,292.47 105.9,291.9 107.06,291.33 108.23,290.76 109.39,290.17 110.56,289.56 111.73,288.94 112.89,288.32 114.06,287.69 115.22,287.04 116.39,286.34 117.55,285.6 118.72,284.79 119.88,283.85 121.05,282.8 122.21,281.69 123.38,280.57 124.54,279.48 125.7,278.37 126.87,277.23 128.04,276.16 129.2,275.29 130.37,274.58 131.53,273.97 132.69,273.56 133.86,273.35 135.03,273.24 136.19,273.2 137.35,273.21 138.52,273.28 139.69,273.36 140.85,273.37 142.01,273.23 143.18,272.97 144.35,272.59 145.51,271.98 146.68,271.24 147.84,270.44 149,269.51 150.17,268.36 151.34,266.86 152.5,264.81 153.67,262.38 154.83,259.68 156,256.46 157.16,252.92 158.32,249.23 159.49,245.24 160.66,241.85 161.82,238.94 162.99,237.13 164.15,236.29 165.31,237.14 166.48,239.17 167.65,243.13 168.81,248 169.97,254.07 171.14,260.47 172.31,266.8 173.47,273.02 174.64,278.49 175.8,283.48 176.97,287.45 178.13,290.61 179.3,293.09 180.46,294.92 181.62,296.35 182.79,297.31 183.95,298.02 185.12,298.55 186.28,298.91 187.45,299.16 188.62,299.33 189.78,299.44 190.95,299.55 192.11,299.64 193.28,299.71 194.44,299.79 195.6,299.9 196.77,300.05 197.94,300.26 199.1,300.51 200.27,300.8 201.43,301.15 202.6,301.55 203.76,301.99 204.93,302.48 206.09,303.01 207.25,303.55 208.42,304.09 209.59,304.58 210.75,305.01 211.91,305.41 213.08,305.8 214.25,306.14 215.41,306.4 216.58,306.54 217.74,306.57 218.91,306.59 220.07,306.61 221.24,306.62 222.4,306.63" fill="none" stroke="#1f2388" stroke-width="1.4" stroke-linejoin="round" stroke-linecap="round"/>
<polyline points="36,313.63 37.16,313.6 38.33,313.57 39.49,313.53 40.66,313.48 41.83,313.43 42.99,313.37 44.16,313.31 45.32,313.25 46.48,313.18 47.65,313.1 48.81,313.02 49.98,312.92 51.15,312.82 52.31,312.71 53.48,312.6 54.64,312.48 55.8,312.35 56.97,312.21 58.13,312.07 59.3,311.9 60.47,311.73 61.63,311.55 62.8,311.35 63.96,311.14 65.12,310.91 66.29,310.65 67.45,310.37 68.62,310.07 69.78,309.75 70.95,309.4 72.12,309.03 73.28,308.64 74.44,308.19 75.61,307.67 76.78,307.11 77.94,306.51 79.11,305.92 80.27,305.34 81.44,304.75 82.6,304.16 83.77,303.56 84.93,302.95 86.09,302.34 87.26,301.73 88.43,301.11 89.59,300.49 90.75,299.86 91.92,299.23 93.09,298.61 94.25,297.99 95.41,297.38 96.58,296.79 97.75,296.19 98.91,295.61 100.08,295.02 101.24,294.44 102.41,293.86 103.57,293.28 104.73,292.71 105.9,292.15 107.06,291.59 108.23,291.02 109.39,290.44 110.56,289.84 111.73,289.23 112.89,288.62 114.06,287.99 115.22,287.35 116.39,286.66 117.55,285.93 118.72,285.13 119.88,284.21 121.05,283.18 122.21,282.08 123.38,280.98 124.54,279.92 125.7,278.83 126.87,277.71 128.04,276.67 129.2,275.83 130.37,275.15 131.53,274.57 132.69,274.19 133.86,274.01 135.03,273.93 136.19,273.92 137.35,273.97 138.52,274.08 139.69,274.19 140.85,274.25 142.01,274.15 143.18,273.94 144.35,273.62 145.51,273.08 146.68,272.41 147.84,271.68 149,270.83 150.17,269.77 151.34,268.35 152.5,266.42 153.67,264.11 154.83,261.54 156,258.45 157.16,255.06 158.32,251.51 159.49,247.67 160.66,244.4 161.82,241.57 162.99,239.8 164.15,238.94 165.31,239.71 166.48,241.61 167.65,245.37 168.81,250.02 169.97,255.84 171.14,261.99 172.31,268.09 173.47,274.09 174.64,279.37 175.8,284.21 176.97,288.06 178.13,291.11 179.3,293.51 180.46,295.28 181.62,296.66 182.79,297.58 183.95,298.25 185.12,298.74 186.28,299.08 187.45,299.29 188.62,299.41 189.78,299.49 190.95,299.55 192.11,299.6 193.28,299.64 194.44,299.68 195.6,299.76 196.77,299.88 197.94,300.07 199.1,300.31 200.27,300.61 201.43,300.96 202.6,301.37 203.76,301.84 204.93,302.35 206.09,302.91 207.25,303.49 208.42,304.05 209.59,304.56 210.75,305.02 211.91,305.44 213.08,305.84 214.25,306.2 215.41,306.46 216.58,306.61 217.74,306.65 218.91,306.67 220.07,306.69 221.24,306.7 222.4,306.71" fill="none" stroke="#8a2f7c" stroke-width="1.4" stroke-linejoin="round" stroke-linecap="round"/>
<polyline points="36,313.63 37.16,313.61 38.33,313.57 39.49,313.53 40.66,313.48 41.83,313.43 42.99,313.37 44.16,313.31 45.32,313.25 46.48,313.18 47.65,313.11 48.81,313.02 49.98,312.93 51.15,312.83 52.31,312.72 53.48,312.6 54.64,312.49 55.8,312.36 56.97,312.22 58.13,312.07 59.3,311.91 60.47,311.74 61.63,311.55 62.8,311.36 63.96,311.14 65.12,310.92 66.29,310.66 67.45,310.39 68.62,310.09 69.78,309.76 70.95,309.42 72.12,309.05 73.28,308.66 74.44,308.21 75.61,307.69 76.78,307.13 77.94,306.53 79.11,305.94 80.27,305.36 81.44,304.78 82.6,304.19 83.77,303.59 84.93,302.98 86.09,302.37 87.26,301.76 88.43,301.15 89.59,300.53 90.75,299.9 91.92,299.27 93.09,298.65 94.25,298.03 95.41,297.43 96.58,296.83 97.75,296.24 98.91,295.66 100.08,295.07 101.24,294.5 102.41,293.92 103.57,293.34 104.73,292.77 105.9,292.21 107.06,291.65 108.23,291.08 109.39,290.51 110.56,289.9 111.73,289.29 112.89,288.68 114.06,288.06 115.22,287.42 116.39,286.74 117.55,286.01 118.72,285.21 119.88,284.29 121.05,283.26 122.21,282.18 123.38,281.08 124.54,280.02 125.7,278.94 126.87,277.83 128.04,276.79 129.2,275.96 130.37,275.28 131.53,274.71 132.69,274.33 133.86,274.17 135.03,274.09 136.19,274.09 137.35,274.15 138.52,274.26 139.69,274.39 140.85,274.45 142.01,274.37 143.18,274.17 144.35,273.87 145.51,273.34 146.68,272.68 147.84,271.97 149,271.14 150.17,270.09 151.34,268.7 152.5,266.79 153.67,264.51 154.83,261.97 156,258.92 157.16,255.56 158.32,252.05 159.49,248.24 160.66,244.99 161.82,242.19 162.99,240.42 164.15,239.56 165.31,240.3 166.48,242.18 167.65,245.9 168.81,250.49 169.97,256.26 171.14,262.35 172.31,268.39 173.47,274.34 174.64,279.58 175.8,284.38 176.97,288.2 178.13,291.23 179.3,293.61 180.46,295.37 181.62,296.73 182.79,297.64 183.95,298.31 185.12,298.79 186.28,299.11 187.45,299.31 188.62,299.43 189.78,299.5 190.95,299.56 192.11,299.59 193.28,299.62 194.44,299.66 195.6,299.72 196.77,299.84 197.94,300.02 199.1,300.26 200.27,300.56 201.43,300.92 202.6,301.33 203.76,301.8 204.93,302.32 206.09,302.89 207.25,303.47 208.42,304.04 209.59,304.56 210.75,305.02 211.91,305.44 213.08,305.85 214.25,306.21 215.41,306.48 216.58,306.62 217.74,306.66 218.91,306.69 220.07,306.71 221.24,306.72 222.4,306.73" fill="none" stroke="#a81c34" stroke-width="1.4" stroke-linejoin="round" stroke-linecap="round"/>
<polyline points="36,313.58 37.16,313.55 38.33,313.51 39.49,313.47 40.66,313.42 41.83,313.36 42.99,313.3 44.16,313.24 45.32,313.17 46.48,313.1 47.65,313.02 48.81,312.92 49.98,312.82 51.15,312.72 52.31,312.6 53.48,312.48 54.64,312.35 55.8,312.22 56.97,312.07 58.13,311.91 59.3,311.74 60.47,311.56 61.63,311.36 62.8,311.15 63.96,310.92 65.12,310.68 66.29,310.4 67.45,310.11 68.62,309.79 69.78,309.44 70.95,309.07 72.12,308.68 73.28,308.26 74.44,307.78 75.61,307.23 76.78,306.62 77.94,305.99 79.11,305.36 80.27,304.74 81.44,304.12 82.6,303.48 83.77,302.84 84.93,302.19 86.09,301.54 87.26,300.89 88.43,300.24 89.59,299.57 90.75,298.9 91.92,298.23 93.09,297.57 94.25,296.91 95.41,296.26 96.58,295.62 97.75,294.99 98.91,294.37 100.08,293.74 101.24,293.12 102.41,292.51 103.57,291.89 104.73,291.28 105.9,290.68 107.06,290.08 108.23,289.47 109.39,288.85 110.56,288.2 111.73,287.55 112.89,286.89 114.06,286.22 115.22,285.52 116.39,284.78 117.55,283.98 118.72,283.11 119.88,282.1 121.05,280.97 122.21,279.77 123.38,278.55 124.54,277.36 125.7,276.13 126.87,274.86 128.04,273.66 129.2,272.65 130.37,271.79 131.53,271.04 132.69,270.48 133.86,270.13 135.03,269.86 136.19,269.65 137.35,269.49 138.52,269.39 139.69,269.27 140.85,269.07 142.01,268.69 143.18,268.18 144.35,267.52 145.51,266.59 146.68,265.51 147.84,264.35 149,263.04 150.17,261.49 151.34,259.53 152.5,256.94 153.67,253.92 154.83,250.6 156,246.68 157.16,242.42 158.32,238.02 159.49,233.32 160.66,229.38 161.82,226.06 162.99,224.1 164.15,223.32 165.31,224.57 166.48,227.24 167.65,232.14 168.81,238.09 169.97,245.39 171.14,253 172.31,260.48 173.47,267.77 174.64,274.14 175.8,279.91 176.97,284.51 178.13,288.15 179.3,291.01 180.46,293.14 181.62,294.82 182.79,295.98 183.95,296.88 185.12,297.58 186.28,298.12 187.45,298.55 188.62,298.9 189.78,299.21 190.95,299.52 192.11,299.81 193.28,300.09 194.44,300.35 195.6,300.61 196.77,300.89 197.94,301.18 199.1,301.48 200.27,301.78 201.43,302.09 202.6,302.4 203.76,302.73 204.93,303.1 206.09,303.49 207.25,303.9 208.42,304.3 209.59,304.67 210.75,304.99 211.91,305.29 213.08,305.61 214.25,305.89 215.41,306.11 216.58,306.21 217.74,306.21 218.91,306.21 220.07,306.21 221.24,306.21 222.4,306.21" fill="none" stroke="#2a22c8" stroke-width="1.6" stroke-linejoin="round" stroke-linecap="round"/>
<rect x="36" y="191.6" width="186.4" height="122.8" fill="none" stroke="#111" stroke-width="1.6"/>
<line x1="31" y1="191.6" x2="36" y2="191.6" stroke="#111" stroke-width="1.5"/>
<text x="29.5" y="194.8" font-size="8.9" font-weight="bold" text-anchor="end" fill="#111">0.6</text>
<line x1="31" y1="232.53" x2="36" y2="232.53" stroke="#111" stroke-width="1.5"/>
<text x="29.5" y="235.73" font-size="8.9" font-weight="bold" text-anchor="end" fill="#111">0.4</text>
<line x1="31" y1="273.47" x2="36" y2="273.47" stroke="#111" stroke-width="1.5"/>
<text x="29.5" y="276.67" font-size="8.9" font-weight="bold" text-anchor="end" fill="#111">0.2</text>
<line x1="31" y1="314.4" x2="36" y2="314.4" stroke="#111" stroke-width="1.5"/>
<text x="29.5" y="317.6" font-size="8.9" font-weight="bold" text-anchor="end" fill="#111">0.0</text>
<line x1="36" y1="314.4" x2="36" y2="319.4" stroke="#111" stroke-width="1.5"/>
<text x="36" y="329.6" font-size="8.9" font-weight="bold" text-anchor="middle" fill="#111">500</text>
<line x1="82.6" y1="314.4" x2="82.6" y2="319.4" stroke="#111" stroke-width="1.5"/>
<text x="82.6" y="329.6" font-size="8.9" font-weight="bold" text-anchor="middle" fill="#111">600</text>
<line x1="129.2" y1="314.4" x2="129.2" y2="319.4" stroke="#111" stroke-width="1.5"/>
<text x="129.2" y="329.6" font-size="8.9" font-weight="bold" text-anchor="middle" fill="#111">700</text>
<line x1="175.8" y1="314.4" x2="175.8" y2="319.4" stroke="#111" stroke-width="1.5"/>
<text x="175.8" y="329.6" font-size="8.9" font-weight="bold" text-anchor="middle" fill="#111">800</text>
<line x1="222.4" y1="314.4" x2="222.4" y2="319.4" stroke="#111" stroke-width="1.5"/>
<text x="222.4" y="329.6" font-size="8.9" font-weight="bold" text-anchor="middle" fill="#111">900</text>
<text x="129.4" y="345.2" font-size="10.3" font-weight="bold" text-anchor="middle" fill="#111">Wavelength (nm)</text>
<text x="9.8" y="252.2" font-size="9.7" font-weight="bold" text-anchor="middle" fill="#111" transform="rotate(-90 9.8 252.2)">Absorbance</text>
<text x="4.2" y="188.4" font-size="16.5" font-weight="bold" text-anchor="start" fill="#111">C</text>
<line x1="41.2" y1="200.05" x2="54.7" y2="200.05" stroke="#2a22c8" stroke-width="1.5"/>
<text x="62.4" y="203.35" font-size="10" font-weight="bold" text-anchor="start" fill="#111">0 s</text>
<line x1="41.2" y1="216.75" x2="54.7" y2="216.75" stroke="#d2383a" stroke-width="1.5"/>
<text x="62.4" y="220.05" font-size="10" font-weight="bold" text-anchor="start" fill="#111">40 s</text>
<line x1="41.2" y1="233.45" x2="54.7" y2="233.45" stroke="#3fb24a" stroke-width="1.5"/>
<text x="62.4" y="236.75" font-size="10" font-weight="bold" text-anchor="start" fill="#111">80 s</text>
<line x1="41.2" y1="250.15" x2="54.7" y2="250.15" stroke="#a63cc0" stroke-width="1.5"/>
<text x="62.4" y="253.45" font-size="10" font-weight="bold" text-anchor="start" fill="#111">120 s</text>
<line x1="41.2" y1="266.85" x2="54.7" y2="266.85" stroke="#f09a34" stroke-width="1.5"/>
<text x="62.4" y="270.15" font-size="10" font-weight="bold" text-anchor="start" fill="#111">160 s</text>
<line x1="41.2" y1="283.55" x2="54.7" y2="283.55" stroke="#1a1a1a" stroke-width="1.5"/>
<text x="62.4" y="286.85" font-size="10" font-weight="bold" text-anchor="start" fill="#111">200 s</text>
<line x1="91.2" y1="200.05" x2="104.7" y2="200.05" stroke="#a07248" stroke-width="1.5"/>
<text x="112.4" y="203.35" font-size="10" font-weight="bold" text-anchor="start" fill="#111">240 s</text>
<line x1="91.2" y1="216.75" x2="104.7" y2="216.75" stroke="#1f2388" stroke-width="1.5"/>
<text x="112.4" y="220.05" font-size="10" font-weight="bold" text-anchor="start" fill="#111">280 s</text>
<line x1="91.2" y1="233.45" x2="104.7" y2="233.45" stroke="#8a2f7c" stroke-width="1.5"/>
<text x="112.4" y="236.75" font-size="10" font-weight="bold" text-anchor="start" fill="#111">320 s</text>
<line x1="91.2" y1="250.15" x2="104.7" y2="250.15" stroke="#a81c34" stroke-width="1.5"/>
<text x="112.4" y="253.45" font-size="10" font-weight="bold" text-anchor="start" fill="#111">360 s</text>
<text x="193.2" y="205.6" font-size="11.6" font-weight="bold" text-anchor="middle" fill="#111">IR780@</text>
<text x="193.2" y="220" font-size="11.6" font-weight="bold" text-anchor="middle" fill="#111">NH<tspan font-size="70%" dy="2.2">2</tspan><tspan dy="-2.2">C4A</tspan></text>
<line x1="195.6" y1="230" x2="195.6" y2="251.2" stroke="#111" stroke-width="1.8"/>
<polyline points="191.4,246.7 195.6,252.2 199.8,246.7" fill="none" stroke="#111" stroke-width="1.8" stroke-linejoin="miter"/>
<rect x="277.5" y="190.7" width="185.3" height="123.1" fill="none" stroke="#111" stroke-width="1.6"/>
<line x1="272.5" y1="206.5" x2="277.5" y2="206.5" stroke="#111" stroke-width="1.5"/>
<text x="271" y="209.8" font-size="9.2" font-weight="bold" text-anchor="end" fill="#111">1.0</text>
<line x1="272.5" y1="237" x2="277.5" y2="237" stroke="#111" stroke-width="1.5"/>
<text x="271" y="240.3" font-size="9.2" font-weight="bold" text-anchor="end" fill="#111">0.8</text>
<line x1="272.5" y1="267.5" x2="277.5" y2="267.5" stroke="#111" stroke-width="1.5"/>
<text x="271" y="270.8" font-size="9.2" font-weight="bold" text-anchor="end" fill="#111">0.6</text>
<line x1="272.5" y1="298" x2="277.5" y2="298" stroke="#111" stroke-width="1.5"/>
<text x="271" y="301.3" font-size="9.2" font-weight="bold" text-anchor="end" fill="#111">0.4</text>
<line x1="294.4" y1="313.8" x2="294.4" y2="318.8" stroke="#111" stroke-width="1.5"/>
<text x="294.4" y="329" font-size="9.2" font-weight="bold" text-anchor="middle" fill="#111">0</text>
<line x1="328.06" y1="313.8" x2="328.06" y2="318.8" stroke="#111" stroke-width="1.5"/>
<text x="328.06" y="329" font-size="9.2" font-weight="bold" text-anchor="middle" fill="#111">80</text>
<line x1="361.72" y1="313.8" x2="361.72" y2="318.8" stroke="#111" stroke-width="1.5"/>
<text x="361.72" y="329" font-size="9.2" font-weight="bold" text-anchor="middle" fill="#111">160</text>
<line x1="395.38" y1="313.8" x2="395.38" y2="318.8" stroke="#111" stroke-width="1.5"/>
<text x="395.38" y="329" font-size="9.2" font-weight="bold" text-anchor="middle" fill="#111">240</text>
<line x1="429.04" y1="313.8" x2="429.04" y2="318.8" stroke="#111" stroke-width="1.5"/>
<text x="429.04" y="329" font-size="9.2" font-weight="bold" text-anchor="middle" fill="#111">320</text>
<line x1="462.7" y1="313.8" x2="462.7" y2="318.8" stroke="#111" stroke-width="1.5"/>
<text x="462.7" y="329" font-size="9.2" font-weight="bold" text-anchor="middle" fill="#111">400</text>
<text x="370.2" y="343.9" font-size="10.4" font-weight="bold" text-anchor="middle" fill="#111">Time (s)</text>
<text x="252.6" y="252" font-size="10" font-weight="bold" text-anchor="middle" fill="#111" transform="rotate(-90 252.6 252)">Normalized absorbance</text>
<text x="241.3" y="188" font-size="16.5" font-weight="bold" text-anchor="start" fill="#111">D</text>
<polygon points="294.4,203.4 291.3,208.98 297.5,208.98" fill="#22b030"/>
<polygon points="311.23,205.23 308.13,210.81 314.33,210.81" fill="#22b030"/>
<polygon points="328.06,207.82 324.96,213.4 331.16,213.4" fill="#22b030"/>
<polygon points="344.89,208.59 341.79,214.16 347.99,214.16" fill="#22b030"/>
<polygon points="361.72,209.5 358.62,215.08 364.82,215.08" fill="#22b030"/>
<polygon points="378.55,209.96 375.45,215.54 381.65,215.54" fill="#22b030"/>
<polygon points="395.38,210.26 392.28,215.84 398.48,215.84" fill="#22b030"/>
<polygon points="412.21,211.94 409.11,217.52 415.31,217.52" fill="#22b030"/>
<polygon points="429.04,213.01 425.94,218.59 432.14,218.59" fill="#22b030"/>
<polygon points="445.87,213.62 442.77,219.2 448.97,219.2" fill="#22b030"/>
<rect x="291.65" y="203.75" width="5.5" height="5.5" fill="#e01222"/>
<rect x="308.48" y="206.19" width="5.5" height="5.5" fill="#e01222"/>
<rect x="325.31" y="210.31" width="5.5" height="5.5" fill="#e01222"/>
<rect x="342.14" y="213.21" width="5.5" height="5.5" fill="#e01222"/>
<rect x="358.97" y="218.39" width="5.5" height="5.5" fill="#e01222"/>
<rect x="375.8" y="220.68" width="5.5" height="5.5" fill="#e01222"/>
<rect x="392.63" y="226.78" width="5.5" height="5.5" fill="#e01222"/>
<rect x="409.46" y="226.17" width="5.5" height="5.5" fill="#e01222"/>
<rect x="426.29" y="230.74" width="5.5" height="5.5" fill="#e01222"/>
<rect x="443.12" y="231.81" width="5.5" height="5.5" fill="#e01222"/>
<circle cx="294.4" cy="206.5" r="2.9" fill="#1616d0"/>
<circle cx="311.23" cy="230.14" r="2.9" fill="#1616d0"/>
<circle cx="328.06" cy="245.39" r="2.9" fill="#1616d0"/>
<circle cx="344.89" cy="264.14" r="2.9" fill="#1616d0"/>
<circle cx="361.72" cy="274.21" r="2.9" fill="#1616d0"/>
<circle cx="378.55" cy="283.97" r="2.9" fill="#1616d0"/>
<circle cx="395.38" cy="289.76" r="2.9" fill="#1616d0"/>
<circle cx="412.21" cy="295.56" r="2.9" fill="#1616d0"/>
<circle cx="429.04" cy="302.42" r="2.9" fill="#1616d0"/>
<circle cx="445.87" cy="305.62" r="2.9" fill="#1616d0"/>
<rect x="291.65" y="203.75" width="5.5" height="5.5" fill="#1a14a8"/>
<circle cx="284.4" cy="272.4" r="2.9" fill="#1616d0"/>
<rect x="281.8" y="287.2" width="5.2" height="5.2" fill="#e01222"/>
<polygon points="284.4,304.6 281.7,309.46 287.1,309.46" fill="#22b030"/>
<text x="298.2" y="274.3" font-size="9.9" font-weight="bold" text-anchor="start" fill="#111">IR780</text>
<text x="298.2" y="291.5" font-size="9.9" font-weight="bold" fill="#111">IR780@NH<tspan font-size="70%" dy="2.2">2</tspan><tspan dy="-2.2">C4A</tspan></text>
<text x="298.2" y="309.2" font-size="9.9" font-weight="bold" text-anchor="start" fill="#111">IR780@SAC4A</text>
<rect x="36.6" y="361.4" width="185.6" height="120.9" fill="none" stroke="#111" stroke-width="1.6"/>
<line x1="31.6" y1="461.8" x2="36.6" y2="461.8" stroke="#111" stroke-width="1.5"/>
<text x="30.1" y="465.1" font-size="9.2" font-weight="bold" text-anchor="end" fill="#111">30</text>
<line x1="31.6" y1="421.4" x2="36.6" y2="421.4" stroke="#111" stroke-width="1.5"/>
<text x="30.1" y="424.7" font-size="9.2" font-weight="bold" text-anchor="end" fill="#111">40</text>
<line x1="31.6" y1="381" x2="36.6" y2="381" stroke="#111" stroke-width="1.5"/>
<text x="30.1" y="384.3" font-size="9.2" font-weight="bold" text-anchor="end" fill="#111">50</text>
<line x1="34" y1="441.6" x2="36.6" y2="441.6" stroke="#111" stroke-width="1.2"/>
<line x1="34" y1="401.2" x2="36.6" y2="401.2" stroke="#111" stroke-width="1.2"/>
<line x1="47.4" y1="482.3" x2="47.4" y2="487.3" stroke="#111" stroke-width="1.5"/>
<text x="47.4" y="496.8" font-size="9.4" font-weight="bold" text-anchor="middle" fill="#111">0</text>
<line x1="80.3" y1="482.3" x2="80.3" y2="487.3" stroke="#111" stroke-width="1.5"/>
<text x="80.3" y="496.8" font-size="9.4" font-weight="bold" text-anchor="middle" fill="#111">180</text>
<line x1="113.2" y1="482.3" x2="113.2" y2="487.3" stroke="#111" stroke-width="1.5"/>
<text x="113.2" y="496.8" font-size="9.4" font-weight="bold" text-anchor="middle" fill="#111">360</text>
<line x1="146.1" y1="482.3" x2="146.1" y2="487.3" stroke="#111" stroke-width="1.5"/>
<text x="146.1" y="496.8" font-size="9.4" font-weight="bold" text-anchor="middle" fill="#111">540</text>
<line x1="179" y1="482.3" x2="179" y2="487.3" stroke="#111" stroke-width="1.5"/>
<text x="179" y="496.8" font-size="9.4" font-weight="bold" text-anchor="middle" fill="#111">720</text>
<line x1="211.9" y1="482.3" x2="211.9" y2="487.3" stroke="#111" stroke-width="1.5"/>
<text x="211.9" y="496.8" font-size="9.4" font-weight="bold" text-anchor="middle" fill="#111">900</text>
<line x1="63.85" y1="482.3" x2="63.85" y2="485.3" stroke="#111" stroke-width="1.2"/>
<line x1="96.75" y1="482.3" x2="96.75" y2="485.3" stroke="#111" stroke-width="1.2"/>
<line x1="129.65" y1="482.3" x2="129.65" y2="485.3" stroke="#111" stroke-width="1.2"/>
<line x1="162.55" y1="482.3" x2="162.55" y2="485.3" stroke="#111" stroke-width="1.2"/>
<line x1="195.45" y1="482.3" x2="195.45" y2="485.3" stroke="#111" stroke-width="1.2"/>
<text x="129.4" y="511.9" font-size="10.4" font-weight="bold" text-anchor="middle" fill="#111">Time (s)</text>
<text x="13.0" y="422" font-size="10.3" font-weight="bold" text-anchor="middle" fill="#111" transform="rotate(-90 13.0 422)">Temperature (&#176;C)</text>
<text x="4.4" y="354.2" font-size="16.5" font-weight="bold" text-anchor="start" fill="#111">E</text>
<line x1="47.4" y1="467.46" x2="47.4" y2="471.5" stroke="#f0a03c" stroke-width="0.8"/>
<line x1="45.6" y1="467.46" x2="49.2" y2="467.46" stroke="#f0a03c" stroke-width="0.8"/>
<line x1="45.6" y1="471.5" x2="49.2" y2="471.5" stroke="#f0a03c" stroke-width="0.8"/>
<line x1="58.37" y1="467.86" x2="58.37" y2="471.9" stroke="#f0a03c" stroke-width="0.8"/>
<line x1="56.57" y1="467.86" x2="60.17" y2="467.86" stroke="#f0a03c" stroke-width="0.8"/>
<line x1="56.57" y1="471.9" x2="60.17" y2="471.9" stroke="#f0a03c" stroke-width="0.8"/>
<line x1="69.33" y1="467.86" x2="69.33" y2="471.9" stroke="#f0a03c" stroke-width="0.8"/>
<line x1="67.53" y1="467.86" x2="71.13" y2="467.86" stroke="#f0a03c" stroke-width="0.8"/>
<line x1="67.53" y1="471.9" x2="71.13" y2="471.9" stroke="#f0a03c" stroke-width="0.8"/>
<line x1="80.3" y1="467.46" x2="80.3" y2="471.5" stroke="#f0a03c" stroke-width="0.8"/>
<line x1="78.5" y1="467.46" x2="82.1" y2="467.46" stroke="#f0a03c" stroke-width="0.8"/>
<line x1="78.5" y1="471.5" x2="82.1" y2="471.5" stroke="#f0a03c" stroke-width="0.8"/>
<line x1="91.27" y1="467.25" x2="91.27" y2="471.29" stroke="#f0a03c" stroke-width="0.8"/>
<line x1="89.47" y1="467.25" x2="93.07" y2="467.25" stroke="#f0a03c" stroke-width="0.8"/>
<line x1="89.47" y1="471.29" x2="93.07" y2="471.29" stroke="#f0a03c" stroke-width="0.8"/>
<line x1="102.23" y1="467.05" x2="102.23" y2="471.09" stroke="#f0a03c" stroke-width="0.8"/>
<line x1="100.43" y1="467.05" x2="104.03" y2="467.05" stroke="#f0a03c" stroke-width="0.8"/>
<line x1="100.43" y1="471.09" x2="104.03" y2="471.09" stroke="#f0a03c" stroke-width="0.8"/>
<line x1="113.2" y1="466.85" x2="113.2" y2="470.89" stroke="#f0a03c" stroke-width="0.8"/>
<line x1="111.4" y1="466.85" x2="115" y2="466.85" stroke="#f0a03c" stroke-width="0.8"/>
<line x1="111.4" y1="470.89" x2="115" y2="470.89" stroke="#f0a03c" stroke-width="0.8"/>
<line x1="124.17" y1="466.65" x2="124.17" y2="470.69" stroke="#f0a03c" stroke-width="0.8"/>
<line x1="122.37" y1="466.65" x2="125.97" y2="466.65" stroke="#f0a03c" stroke-width="0.8"/>
<line x1="122.37" y1="470.69" x2="125.97" y2="470.69" stroke="#f0a03c" stroke-width="0.8"/>
<line x1="135.13" y1="466.65" x2="135.13" y2="470.69" stroke="#f0a03c" stroke-width="0.8"/>
<line x1="133.33" y1="466.65" x2="136.93" y2="466.65" stroke="#f0a03c" stroke-width="0.8"/>
<line x1="133.33" y1="470.69" x2="136.93" y2="470.69" stroke="#f0a03c" stroke-width="0.8"/>
<line x1="146.1" y1="466.45" x2="146.1" y2="470.49" stroke="#f0a03c" stroke-width="0.8"/>
<line x1="144.3" y1="466.45" x2="147.9" y2="466.45" stroke="#f0a03c" stroke-width="0.8"/>
<line x1="144.3" y1="470.49" x2="147.9" y2="470.49" stroke="#f0a03c" stroke-width="0.8"/>
<line x1="157.07" y1="466.24" x2="157.07" y2="470.28" stroke="#f0a03c" stroke-width="0.8"/>
<line x1="155.27" y1="466.24" x2="158.87" y2="466.24" stroke="#f0a03c" stroke-width="0.8"/>
<line x1="155.27" y1="470.28" x2="158.87" y2="470.28" stroke="#f0a03c" stroke-width="0.8"/>
<line x1="168.03" y1="466.24" x2="168.03" y2="470.28" stroke="#f0a03c" stroke-width="0.8"/>
<line x1="166.23" y1="466.24" x2="169.83" y2="466.24" stroke="#f0a03c" stroke-width="0.8"/>
<line x1="166.23" y1="470.28" x2="169.83" y2="470.28" stroke="#f0a03c" stroke-width="0.8"/>
<line x1="179" y1="465.84" x2="179" y2="469.88" stroke="#f0a03c" stroke-width="0.8"/>
<line x1="177.2" y1="465.84" x2="180.8" y2="465.84" stroke="#f0a03c" stroke-width="0.8"/>
<line x1="177.2" y1="469.88" x2="180.8" y2="469.88" stroke="#f0a03c" stroke-width="0.8"/>
<line x1="189.97" y1="465.44" x2="189.97" y2="469.48" stroke="#f0a03c" stroke-width="0.8"/>
<line x1="188.17" y1="465.44" x2="191.77" y2="465.44" stroke="#f0a03c" stroke-width="0.8"/>
<line x1="188.17" y1="469.48" x2="191.77" y2="469.48" stroke="#f0a03c" stroke-width="0.8"/>
<line x1="200.93" y1="464.22" x2="200.93" y2="468.26" stroke="#f0a03c" stroke-width="0.8"/>
<line x1="199.13" y1="464.22" x2="202.73" y2="464.22" stroke="#f0a03c" stroke-width="0.8"/>
<line x1="199.13" y1="468.26" x2="202.73" y2="468.26" stroke="#f0a03c" stroke-width="0.8"/>
<line x1="211.9" y1="464.83" x2="211.9" y2="468.87" stroke="#f0a03c" stroke-width="0.8"/>
<line x1="210.1" y1="464.83" x2="213.7" y2="464.83" stroke="#f0a03c" stroke-width="0.8"/>
<line x1="210.1" y1="468.87" x2="213.7" y2="468.87" stroke="#f0a03c" stroke-width="0.8"/>
<polyline points="47.4,469.48 58.37,469.88 69.33,469.88 80.3,469.48 91.27,469.27 102.23,469.07 113.2,468.87 124.17,468.67 135.13,468.67 146.1,468.47 157.07,468.26 168.03,468.26 179,467.86 189.97,467.46 200.93,466.24 211.9,466.85" fill="none" stroke="#f0a03c" stroke-width="1.2" stroke-linejoin="round" stroke-linecap="round"/>
<circle cx="47.4" cy="469.48" r="2.9" fill="#fff" stroke="#f0a03c" stroke-width="1"/>
<circle cx="58.37" cy="469.88" r="2.9" fill="#fff" stroke="#f0a03c" stroke-width="1"/>
<circle cx="69.33" cy="469.88" r="2.9" fill="#fff" stroke="#f0a03c" stroke-width="1"/>
<circle cx="80.3" cy="469.48" r="2.9" fill="#fff" stroke="#f0a03c" stroke-width="1"/>
<circle cx="91.27" cy="469.27" r="2.9" fill="#fff" stroke="#f0a03c" stroke-width="1"/>
<circle cx="102.23" cy="469.07" r="2.9" fill="#fff" stroke="#f0a03c" stroke-width="1"/>
<circle cx="113.2" cy="468.87" r="2.9" fill="#fff" stroke="#f0a03c" stroke-width="1"/>
<circle cx="124.17" cy="468.67" r="2.9" fill="#fff" stroke="#f0a03c" stroke-width="1"/>
<circle cx="135.13" cy="468.67" r="2.9" fill="#fff" stroke="#f0a03c" stroke-width="1"/>
<circle cx="146.1" cy="468.47" r="2.9" fill="#fff" stroke="#f0a03c" stroke-width="1"/>
<circle cx="157.07" cy="468.26" r="2.9" fill="#fff" stroke="#f0a03c" stroke-width="1"/>
<circle cx="168.03" cy="468.26" r="2.9" fill="#fff" stroke="#f0a03c" stroke-width="1"/>
<circle cx="179" cy="467.86" r="2.9" fill="#fff" stroke="#f0a03c" stroke-width="1"/>
<circle cx="189.97" cy="467.46" r="2.9" fill="#fff" stroke="#f0a03c" stroke-width="1"/>
<circle cx="200.93" cy="466.24" r="2.9" fill="#fff" stroke="#f0a03c" stroke-width="1"/>
<circle cx="211.9" cy="466.85" r="2.9" fill="#fff" stroke="#f0a03c" stroke-width="1"/>
<line x1="47.4" y1="466.24" x2="47.4" y2="471.09" stroke="#0f7a34" stroke-width="0.8"/>
<line x1="45.6" y1="466.24" x2="49.2" y2="466.24" stroke="#0f7a34" stroke-width="0.8"/>
<line x1="45.6" y1="471.09" x2="49.2" y2="471.09" stroke="#0f7a34" stroke-width="0.8"/>
<line x1="58.37" y1="465.44" x2="58.37" y2="470.28" stroke="#0f7a34" stroke-width="0.8"/>
<line x1="56.57" y1="465.44" x2="60.17" y2="465.44" stroke="#0f7a34" stroke-width="0.8"/>
<line x1="56.57" y1="470.28" x2="60.17" y2="470.28" stroke="#0f7a34" stroke-width="0.8"/>
<line x1="69.33" y1="465.03" x2="69.33" y2="469.88" stroke="#0f7a34" stroke-width="0.8"/>
<line x1="67.53" y1="465.03" x2="71.13" y2="465.03" stroke="#0f7a34" stroke-width="0.8"/>
<line x1="67.53" y1="469.88" x2="71.13" y2="469.88" stroke="#0f7a34" stroke-width="0.8"/>
<line x1="80.3" y1="464.63" x2="80.3" y2="469.48" stroke="#0f7a34" stroke-width="0.8"/>
<line x1="78.5" y1="464.63" x2="82.1" y2="464.63" stroke="#0f7a34" stroke-width="0.8"/>
<line x1="78.5" y1="469.48" x2="82.1" y2="469.48" stroke="#0f7a34" stroke-width="0.8"/>
<line x1="91.27" y1="464.63" x2="91.27" y2="469.48" stroke="#0f7a34" stroke-width="0.8"/>
<line x1="89.47" y1="464.63" x2="93.07" y2="464.63" stroke="#0f7a34" stroke-width="0.8"/>
<line x1="89.47" y1="469.48" x2="93.07" y2="469.48" stroke="#0f7a34" stroke-width="0.8"/>
<line x1="102.23" y1="464.63" x2="102.23" y2="469.48" stroke="#0f7a34" stroke-width="0.8"/>
<line x1="100.43" y1="464.63" x2="104.03" y2="464.63" stroke="#0f7a34" stroke-width="0.8"/>
<line x1="100.43" y1="469.48" x2="104.03" y2="469.48" stroke="#0f7a34" stroke-width="0.8"/>
<line x1="113.2" y1="464.63" x2="113.2" y2="469.48" stroke="#0f7a34" stroke-width="0.8"/>
<line x1="111.4" y1="464.63" x2="115" y2="464.63" stroke="#0f7a34" stroke-width="0.8"/>
<line x1="111.4" y1="469.48" x2="115" y2="469.48" stroke="#0f7a34" stroke-width="0.8"/>
<line x1="124.17" y1="464.63" x2="124.17" y2="469.48" stroke="#0f7a34" stroke-width="0.8"/>
<line x1="122.37" y1="464.63" x2="125.97" y2="464.63" stroke="#0f7a34" stroke-width="0.8"/>
<line x1="122.37" y1="469.48" x2="125.97" y2="469.48" stroke="#0f7a34" stroke-width="0.8"/>
<line x1="135.13" y1="465.03" x2="135.13" y2="469.88" stroke="#0f7a34" stroke-width="0.8"/>
<line x1="133.33" y1="465.03" x2="136.93" y2="465.03" stroke="#0f7a34" stroke-width="0.8"/>
<line x1="133.33" y1="469.88" x2="136.93" y2="469.88" stroke="#0f7a34" stroke-width="0.8"/>
<line x1="146.1" y1="465.03" x2="146.1" y2="469.88" stroke="#0f7a34" stroke-width="0.8"/>
<line x1="144.3" y1="465.03" x2="147.9" y2="465.03" stroke="#0f7a34" stroke-width="0.8"/>
<line x1="144.3" y1="469.88" x2="147.9" y2="469.88" stroke="#0f7a34" stroke-width="0.8"/>
<line x1="157.07" y1="465.03" x2="157.07" y2="469.88" stroke="#0f7a34" stroke-width="0.8"/>
<line x1="155.27" y1="465.03" x2="158.87" y2="465.03" stroke="#0f7a34" stroke-width="0.8"/>
<line x1="155.27" y1="469.88" x2="158.87" y2="469.88" stroke="#0f7a34" stroke-width="0.8"/>
<line x1="168.03" y1="465.03" x2="168.03" y2="469.88" stroke="#0f7a34" stroke-width="0.8"/>
<line x1="166.23" y1="465.03" x2="169.83" y2="465.03" stroke="#0f7a34" stroke-width="0.8"/>
<line x1="166.23" y1="469.88" x2="169.83" y2="469.88" stroke="#0f7a34" stroke-width="0.8"/>
<line x1="179" y1="465.03" x2="179" y2="469.88" stroke="#0f7a34" stroke-width="0.8"/>
<line x1="177.2" y1="465.03" x2="180.8" y2="465.03" stroke="#0f7a34" stroke-width="0.8"/>
<line x1="177.2" y1="469.88" x2="180.8" y2="469.88" stroke="#0f7a34" stroke-width="0.8"/>
<line x1="189.97" y1="465.03" x2="189.97" y2="469.88" stroke="#0f7a34" stroke-width="0.8"/>
<line x1="188.17" y1="465.03" x2="191.77" y2="465.03" stroke="#0f7a34" stroke-width="0.8"/>
<line x1="188.17" y1="469.88" x2="191.77" y2="469.88" stroke="#0f7a34" stroke-width="0.8"/>
<line x1="200.93" y1="464.63" x2="200.93" y2="469.48" stroke="#0f7a34" stroke-width="0.8"/>
<line x1="199.13" y1="464.63" x2="202.73" y2="464.63" stroke="#0f7a34" stroke-width="0.8"/>
<line x1="199.13" y1="469.48" x2="202.73" y2="469.48" stroke="#0f7a34" stroke-width="0.8"/>
<line x1="211.9" y1="465.03" x2="211.9" y2="469.88" stroke="#0f7a34" stroke-width="0.8"/>
<line x1="210.1" y1="465.03" x2="213.7" y2="465.03" stroke="#0f7a34" stroke-width="0.8"/>
<line x1="210.1" y1="469.88" x2="213.7" y2="469.88" stroke="#0f7a34" stroke-width="0.8"/>
<polyline points="47.4,468.67 58.37,467.86 69.33,467.46 80.3,467.05 91.27,467.05 102.23,467.05 113.2,467.05 124.17,467.05 135.13,467.46 146.1,467.46 157.07,467.46 168.03,467.46 179,467.46 189.97,467.46 200.93,467.05 211.9,467.46" fill="none" stroke="#0f7a34" stroke-width="1.2" stroke-linejoin="round" stroke-linecap="round"/>
<polygon points="44,465.55 50.8,465.55 47.4,471.67" fill="#0f7a34"/>
<polygon points="54.97,464.74 61.77,464.74 58.37,470.86" fill="#0f7a34"/>
<polygon points="65.93,464.34 72.73,464.34 69.33,470.46" fill="#0f7a34"/>
<polygon points="76.9,463.93 83.7,463.93 80.3,470.05" fill="#0f7a34"/>
<polygon points="87.87,463.93 94.67,463.93 91.27,470.05" fill="#0f7a34"/>
<polygon points="98.83,463.93 105.63,463.93 102.23,470.05" fill="#0f7a34"/>
<polygon points="109.8,463.93 116.6,463.93 113.2,470.05" fill="#0f7a34"/>
<polygon points="120.77,463.93 127.57,463.93 124.17,470.05" fill="#0f7a34"/>
<polygon points="131.73,464.34 138.53,464.34 135.13,470.46" fill="#0f7a34"/>
<polygon points="142.7,464.34 149.5,464.34 146.1,470.46" fill="#0f7a34"/>
<polygon points="153.67,464.34 160.47,464.34 157.07,470.46" fill="#0f7a34"/>
<polygon points="164.63,464.34 171.43,464.34 168.03,470.46" fill="#0f7a34"/>
<polygon points="175.6,464.34 182.4,464.34 179,470.46" fill="#0f7a34"/>
<polygon points="186.57,464.34 193.37,464.34 189.97,470.46" fill="#0f7a34"/>
<polygon points="197.53,463.93 204.33,463.93 200.93,470.05" fill="#0f7a34"/>
<polygon points="208.5,464.34 215.3,464.34 211.9,470.46" fill="#0f7a34"/>
<line x1="47.4" y1="467.46" x2="47.4" y2="469.88" stroke="#e3212d" stroke-width="0.8"/>
<line x1="45.6" y1="467.46" x2="49.2" y2="467.46" stroke="#e3212d" stroke-width="0.8"/>
<line x1="45.6" y1="469.88" x2="49.2" y2="469.88" stroke="#e3212d" stroke-width="0.8"/>
<line x1="58.37" y1="456.55" x2="58.37" y2="463.01" stroke="#e3212d" stroke-width="0.8"/>
<line x1="56.57" y1="456.55" x2="60.17" y2="456.55" stroke="#e3212d" stroke-width="0.8"/>
<line x1="56.57" y1="463.01" x2="60.17" y2="463.01" stroke="#e3212d" stroke-width="0.8"/>
<line x1="69.33" y1="451.7" x2="69.33" y2="459.78" stroke="#e3212d" stroke-width="0.8"/>
<line x1="67.53" y1="451.7" x2="71.13" y2="451.7" stroke="#e3212d" stroke-width="0.8"/>
<line x1="67.53" y1="459.78" x2="71.13" y2="459.78" stroke="#e3212d" stroke-width="0.8"/>
<line x1="80.3" y1="448.87" x2="80.3" y2="457.76" stroke="#e3212d" stroke-width="0.8"/>
<line x1="78.5" y1="448.87" x2="82.1" y2="448.87" stroke="#e3212d" stroke-width="0.8"/>
<line x1="78.5" y1="457.76" x2="82.1" y2="457.76" stroke="#e3212d" stroke-width="0.8"/>
<line x1="91.27" y1="447.26" x2="91.27" y2="456.95" stroke="#e3212d" stroke-width="0.8"/>
<line x1="89.47" y1="447.26" x2="93.07" y2="447.26" stroke="#e3212d" stroke-width="0.8"/>
<line x1="89.47" y1="456.95" x2="93.07" y2="456.95" stroke="#e3212d" stroke-width="0.8"/>
<line x1="102.23" y1="447.86" x2="102.23" y2="456.75" stroke="#e3212d" stroke-width="0.8"/>
<line x1="100.43" y1="447.86" x2="104.03" y2="447.86" stroke="#e3212d" stroke-width="0.8"/>
<line x1="100.43" y1="456.75" x2="104.03" y2="456.75" stroke="#e3212d" stroke-width="0.8"/>
<line x1="113.2" y1="449.07" x2="113.2" y2="457.15" stroke="#e3212d" stroke-width="0.8"/>
<line x1="111.4" y1="449.07" x2="115" y2="449.07" stroke="#e3212d" stroke-width="0.8"/>
<line x1="111.4" y1="457.15" x2="115" y2="457.15" stroke="#e3212d" stroke-width="0.8"/>
<line x1="124.17" y1="451.9" x2="124.17" y2="459.17" stroke="#e3212d" stroke-width="0.8"/>
<line x1="122.37" y1="451.9" x2="125.97" y2="451.9" stroke="#e3212d" stroke-width="0.8"/>
<line x1="122.37" y1="459.17" x2="125.97" y2="459.17" stroke="#e3212d" stroke-width="0.8"/>
<line x1="135.13" y1="453.72" x2="135.13" y2="460.99" stroke="#e3212d" stroke-width="0.8"/>
<line x1="133.33" y1="453.72" x2="136.93" y2="453.72" stroke="#e3212d" stroke-width="0.8"/>
<line x1="133.33" y1="460.99" x2="136.93" y2="460.99" stroke="#e3212d" stroke-width="0.8"/>
<line x1="146.1" y1="454.93" x2="146.1" y2="462.2" stroke="#e3212d" stroke-width="0.8"/>
<line x1="144.3" y1="454.93" x2="147.9" y2="454.93" stroke="#e3212d" stroke-width="0.8"/>
<line x1="144.3" y1="462.2" x2="147.9" y2="462.2" stroke="#e3212d" stroke-width="0.8"/>
<line x1="157.07" y1="456.75" x2="157.07" y2="464.02" stroke="#e3212d" stroke-width="0.8"/>
<line x1="155.27" y1="456.75" x2="158.87" y2="456.75" stroke="#e3212d" stroke-width="0.8"/>
<line x1="155.27" y1="464.02" x2="158.87" y2="464.02" stroke="#e3212d" stroke-width="0.8"/>
<line x1="168.03" y1="458.16" x2="168.03" y2="465.44" stroke="#e3212d" stroke-width="0.8"/>
<line x1="166.23" y1="458.16" x2="169.83" y2="458.16" stroke="#e3212d" stroke-width="0.8"/>
<line x1="166.23" y1="465.44" x2="169.83" y2="465.44" stroke="#e3212d" stroke-width="0.8"/>
<line x1="179" y1="459.38" x2="179" y2="466.65" stroke="#e3212d" stroke-width="0.8"/>
<line x1="177.2" y1="459.38" x2="180.8" y2="459.38" stroke="#e3212d" stroke-width="0.8"/>
<line x1="177.2" y1="466.65" x2="180.8" y2="466.65" stroke="#e3212d" stroke-width="0.8"/>
<line x1="189.97" y1="461.4" x2="189.97" y2="467.86" stroke="#e3212d" stroke-width="0.8"/>
<line x1="188.17" y1="461.4" x2="191.77" y2="461.4" stroke="#e3212d" stroke-width="0.8"/>
<line x1="188.17" y1="467.86" x2="191.77" y2="467.86" stroke="#e3212d" stroke-width="0.8"/>
<line x1="200.93" y1="463.42" x2="200.93" y2="468.26" stroke="#e3212d" stroke-width="0.8"/>
<line x1="199.13" y1="463.42" x2="202.73" y2="463.42" stroke="#e3212d" stroke-width="0.8"/>
<line x1="199.13" y1="468.26" x2="202.73" y2="468.26" stroke="#e3212d" stroke-width="0.8"/>
<line x1="211.9" y1="464.63" x2="211.9" y2="468.67" stroke="#e3212d" stroke-width="0.8"/>
<line x1="210.1" y1="464.63" x2="213.7" y2="464.63" stroke="#e3212d" stroke-width="0.8"/>
<line x1="210.1" y1="468.67" x2="213.7" y2="468.67" stroke="#e3212d" stroke-width="0.8"/>
<polyline points="47.4,468.67 58.37,459.78 69.33,455.74 80.3,453.32 91.27,452.1 102.23,452.31 113.2,453.11 124.17,455.54 135.13,457.36 146.1,458.57 157.07,460.39 168.03,461.8 179,463.01 189.97,464.63 200.93,465.84 211.9,466.65" fill="none" stroke="#e3212d" stroke-width="1.5" stroke-linejoin="round" stroke-linecap="round"/>
<polygon points="44.2,471.23 50.6,471.23 47.4,465.47" fill="#e3212d"/>
<polygon points="55.17,462.34 61.57,462.34 58.37,456.58" fill="#e3212d"/>
<polygon points="66.13,458.3 72.53,458.3 69.33,452.54" fill="#e3212d"/>
<polygon points="77.1,455.88 83.5,455.88 80.3,450.12" fill="#e3212d"/>
<polygon points="88.07,454.66 94.47,454.66 91.27,448.9" fill="#e3212d"/>
<polygon points="99.03,454.87 105.43,454.87 102.23,449.11" fill="#e3212d"/>
<polygon points="110,455.67 116.4,455.67 113.2,449.91" fill="#e3212d"/>
<polygon points="120.97,458.1 127.37,458.1 124.17,452.34" fill="#e3212d"/>
<polygon points="131.93,459.92 138.33,459.92 135.13,454.16" fill="#e3212d"/>
<polygon points="142.9,461.13 149.3,461.13 146.1,455.37" fill="#e3212d"/>
<polygon points="153.87,462.95 160.27,462.95 157.07,457.19" fill="#e3212d"/>
<polygon points="164.83,464.36 171.23,464.36 168.03,458.6" fill="#e3212d"/>
<polygon points="175.8,465.57 182.2,465.57 179,459.81" fill="#e3212d"/>
<polygon points="186.77,467.19 193.17,467.19 189.97,461.43" fill="#e3212d"/>
<polygon points="197.73,468.4 204.13,468.4 200.93,462.64" fill="#e3212d"/>
<polygon points="208.7,469.21 215.1,469.21 211.9,463.45" fill="#e3212d"/>
<line x1="47.4" y1="467.66" x2="47.4" y2="470.08" stroke="#111111" stroke-width="0.8"/>
<line x1="45.6" y1="467.66" x2="49.2" y2="467.66" stroke="#111111" stroke-width="0.8"/>
<line x1="45.6" y1="470.08" x2="49.2" y2="470.08" stroke="#111111" stroke-width="0.8"/>
<line x1="58.37" y1="452.51" x2="58.37" y2="460.59" stroke="#111111" stroke-width="0.8"/>
<line x1="56.57" y1="452.51" x2="60.17" y2="452.51" stroke="#111111" stroke-width="0.8"/>
<line x1="56.57" y1="460.59" x2="60.17" y2="460.59" stroke="#111111" stroke-width="0.8"/>
<line x1="69.33" y1="438.77" x2="69.33" y2="446.85" stroke="#111111" stroke-width="0.8"/>
<line x1="67.53" y1="438.77" x2="71.13" y2="438.77" stroke="#111111" stroke-width="0.8"/>
<line x1="67.53" y1="446.85" x2="71.13" y2="446.85" stroke="#111111" stroke-width="0.8"/>
<line x1="80.3" y1="429.88" x2="80.3" y2="437.96" stroke="#111111" stroke-width="0.8"/>
<line x1="78.5" y1="429.88" x2="82.1" y2="429.88" stroke="#111111" stroke-width="0.8"/>
<line x1="78.5" y1="437.96" x2="82.1" y2="437.96" stroke="#111111" stroke-width="0.8"/>
<line x1="91.27" y1="422.21" x2="91.27" y2="430.29" stroke="#111111" stroke-width="0.8"/>
<line x1="89.47" y1="422.21" x2="93.07" y2="422.21" stroke="#111111" stroke-width="0.8"/>
<line x1="89.47" y1="430.29" x2="93.07" y2="430.29" stroke="#111111" stroke-width="0.8"/>
<line x1="102.23" y1="416.55" x2="102.23" y2="424.63" stroke="#111111" stroke-width="0.8"/>
<line x1="100.43" y1="416.55" x2="104.03" y2="416.55" stroke="#111111" stroke-width="0.8"/>
<line x1="100.43" y1="424.63" x2="104.03" y2="424.63" stroke="#111111" stroke-width="0.8"/>
<line x1="113.2" y1="412.51" x2="113.2" y2="420.59" stroke="#111111" stroke-width="0.8"/>
<line x1="111.4" y1="412.51" x2="115" y2="412.51" stroke="#111111" stroke-width="0.8"/>
<line x1="111.4" y1="420.59" x2="115" y2="420.59" stroke="#111111" stroke-width="0.8"/>
<line x1="124.17" y1="408.88" x2="124.17" y2="416.96" stroke="#111111" stroke-width="0.8"/>
<line x1="122.37" y1="408.88" x2="125.97" y2="408.88" stroke="#111111" stroke-width="0.8"/>
<line x1="122.37" y1="416.96" x2="125.97" y2="416.96" stroke="#111111" stroke-width="0.8"/>
<line x1="135.13" y1="406.05" x2="135.13" y2="414.13" stroke="#111111" stroke-width="0.8"/>
<line x1="133.33" y1="406.05" x2="136.93" y2="406.05" stroke="#111111" stroke-width="0.8"/>
<line x1="133.33" y1="414.13" x2="136.93" y2="414.13" stroke="#111111" stroke-width="0.8"/>
<line x1="146.1" y1="403.62" x2="146.1" y2="411.7" stroke="#111111" stroke-width="0.8"/>
<line x1="144.3" y1="403.62" x2="147.9" y2="403.62" stroke="#111111" stroke-width="0.8"/>
<line x1="144.3" y1="411.7" x2="147.9" y2="411.7" stroke="#111111" stroke-width="0.8"/>
<line x1="157.07" y1="402.01" x2="157.07" y2="410.09" stroke="#111111" stroke-width="0.8"/>
<line x1="155.27" y1="402.01" x2="158.87" y2="402.01" stroke="#111111" stroke-width="0.8"/>
<line x1="155.27" y1="410.09" x2="158.87" y2="410.09" stroke="#111111" stroke-width="0.8"/>
<line x1="168.03" y1="400.8" x2="168.03" y2="408.88" stroke="#111111" stroke-width="0.8"/>
<line x1="166.23" y1="400.8" x2="169.83" y2="400.8" stroke="#111111" stroke-width="0.8"/>
<line x1="166.23" y1="408.88" x2="169.83" y2="408.88" stroke="#111111" stroke-width="0.8"/>
<line x1="179" y1="399.99" x2="179" y2="408.07" stroke="#111111" stroke-width="0.8"/>
<line x1="177.2" y1="399.99" x2="180.8" y2="399.99" stroke="#111111" stroke-width="0.8"/>
<line x1="177.2" y1="408.07" x2="180.8" y2="408.07" stroke="#111111" stroke-width="0.8"/>
<line x1="189.97" y1="399.18" x2="189.97" y2="407.26" stroke="#111111" stroke-width="0.8"/>
<line x1="188.17" y1="399.18" x2="191.77" y2="399.18" stroke="#111111" stroke-width="0.8"/>
<line x1="188.17" y1="407.26" x2="191.77" y2="407.26" stroke="#111111" stroke-width="0.8"/>
<line x1="200.93" y1="398.78" x2="200.93" y2="406.86" stroke="#111111" stroke-width="0.8"/>
<line x1="199.13" y1="398.78" x2="202.73" y2="398.78" stroke="#111111" stroke-width="0.8"/>
<line x1="199.13" y1="406.86" x2="202.73" y2="406.86" stroke="#111111" stroke-width="0.8"/>
<line x1="211.9" y1="398.37" x2="211.9" y2="406.45" stroke="#111111" stroke-width="0.8"/>
<line x1="210.1" y1="398.37" x2="213.7" y2="398.37" stroke="#111111" stroke-width="0.8"/>
<line x1="210.1" y1="406.45" x2="213.7" y2="406.45" stroke="#111111" stroke-width="0.8"/>
<polyline points="47.4,468.87 58.37,456.55 69.33,442.81 80.3,433.92 91.27,426.25 102.23,420.59 113.2,416.55 124.17,412.92 135.13,410.09 146.1,407.66 157.07,406.05 168.03,404.84 179,404.03 189.97,403.22 200.93,402.82 211.9,402.41" fill="none" stroke="#111111" stroke-width="1.5" stroke-linejoin="round" stroke-linecap="round"/>
<circle cx="47.4" cy="468.87" r="3.2" fill="#111111"/>
<circle cx="58.37" cy="456.55" r="3.2" fill="#111111"/>
<circle cx="69.33" cy="442.81" r="3.2" fill="#111111"/>
<circle cx="80.3" cy="433.92" r="3.2" fill="#111111"/>
<circle cx="91.27" cy="426.25" r="3.2" fill="#111111"/>
<circle cx="102.23" cy="420.59" r="3.2" fill="#111111"/>
<circle cx="113.2" cy="416.55" r="3.2" fill="#111111"/>
<circle cx="124.17" cy="412.92" r="3.2" fill="#111111"/>
<circle cx="135.13" cy="410.09" r="3.2" fill="#111111"/>
<circle cx="146.1" cy="407.66" r="3.2" fill="#111111"/>
<circle cx="157.07" cy="406.05" r="3.2" fill="#111111"/>
<circle cx="168.03" cy="404.84" r="3.2" fill="#111111"/>
<circle cx="179" cy="404.03" r="3.2" fill="#111111"/>
<circle cx="189.97" cy="403.22" r="3.2" fill="#111111"/>
<circle cx="200.93" cy="402.82" r="3.2" fill="#111111"/>
<circle cx="211.9" cy="402.41" r="3.2" fill="#111111"/>
<line x1="47.4" y1="467.46" x2="47.4" y2="469.88" stroke="#a422da" stroke-width="0.8"/>
<line x1="45.6" y1="467.46" x2="49.2" y2="467.46" stroke="#a422da" stroke-width="0.8"/>
<line x1="45.6" y1="469.88" x2="49.2" y2="469.88" stroke="#a422da" stroke-width="0.8"/>
<line x1="58.37" y1="447.26" x2="58.37" y2="455.34" stroke="#a422da" stroke-width="0.8"/>
<line x1="56.57" y1="447.26" x2="60.17" y2="447.26" stroke="#a422da" stroke-width="0.8"/>
<line x1="56.57" y1="455.34" x2="60.17" y2="455.34" stroke="#a422da" stroke-width="0.8"/>
<line x1="69.33" y1="433.52" x2="69.33" y2="441.6" stroke="#a422da" stroke-width="0.8"/>
<line x1="67.53" y1="433.52" x2="71.13" y2="433.52" stroke="#a422da" stroke-width="0.8"/>
<line x1="67.53" y1="441.6" x2="71.13" y2="441.6" stroke="#a422da" stroke-width="0.8"/>
<line x1="80.3" y1="424.23" x2="80.3" y2="432.31" stroke="#a422da" stroke-width="0.8"/>
<line x1="78.5" y1="424.23" x2="82.1" y2="424.23" stroke="#a422da" stroke-width="0.8"/>
<line x1="78.5" y1="432.31" x2="82.1" y2="432.31" stroke="#a422da" stroke-width="0.8"/>
<line x1="91.27" y1="416.55" x2="91.27" y2="424.63" stroke="#a422da" stroke-width="0.8"/>
<line x1="89.47" y1="416.55" x2="93.07" y2="416.55" stroke="#a422da" stroke-width="0.8"/>
<line x1="89.47" y1="424.63" x2="93.07" y2="424.63" stroke="#a422da" stroke-width="0.8"/>
<line x1="102.23" y1="409.28" x2="102.23" y2="417.36" stroke="#a422da" stroke-width="0.8"/>
<line x1="100.43" y1="409.28" x2="104.03" y2="409.28" stroke="#a422da" stroke-width="0.8"/>
<line x1="100.43" y1="417.36" x2="104.03" y2="417.36" stroke="#a422da" stroke-width="0.8"/>
<line x1="113.2" y1="403.42" x2="113.2" y2="411.5" stroke="#a422da" stroke-width="0.8"/>
<line x1="111.4" y1="403.42" x2="115" y2="403.42" stroke="#a422da" stroke-width="0.8"/>
<line x1="111.4" y1="411.5" x2="115" y2="411.5" stroke="#a422da" stroke-width="0.8"/>
<line x1="124.17" y1="399.18" x2="124.17" y2="407.26" stroke="#a422da" stroke-width="0.8"/>
<line x1="122.37" y1="399.18" x2="125.97" y2="399.18" stroke="#a422da" stroke-width="0.8"/>
<line x1="122.37" y1="407.26" x2="125.97" y2="407.26" stroke="#a422da" stroke-width="0.8"/>
<line x1="135.13" y1="394.94" x2="135.13" y2="403.02" stroke="#a422da" stroke-width="0.8"/>
<line x1="133.33" y1="394.94" x2="136.93" y2="394.94" stroke="#a422da" stroke-width="0.8"/>
<line x1="133.33" y1="403.02" x2="136.93" y2="403.02" stroke="#a422da" stroke-width="0.8"/>
<line x1="146.1" y1="391.3" x2="146.1" y2="399.38" stroke="#a422da" stroke-width="0.8"/>
<line x1="144.3" y1="391.3" x2="147.9" y2="391.3" stroke="#a422da" stroke-width="0.8"/>
<line x1="144.3" y1="399.38" x2="147.9" y2="399.38" stroke="#a422da" stroke-width="0.8"/>
<line x1="157.07" y1="387.87" x2="157.07" y2="395.95" stroke="#a422da" stroke-width="0.8"/>
<line x1="155.27" y1="387.87" x2="158.87" y2="387.87" stroke="#a422da" stroke-width="0.8"/>
<line x1="155.27" y1="395.95" x2="158.87" y2="395.95" stroke="#a422da" stroke-width="0.8"/>
<line x1="168.03" y1="385.44" x2="168.03" y2="393.52" stroke="#a422da" stroke-width="0.8"/>
<line x1="166.23" y1="385.44" x2="169.83" y2="385.44" stroke="#a422da" stroke-width="0.8"/>
<line x1="166.23" y1="393.52" x2="169.83" y2="393.52" stroke="#a422da" stroke-width="0.8"/>
<line x1="179" y1="383.42" x2="179" y2="391.5" stroke="#a422da" stroke-width="0.8"/>
<line x1="177.2" y1="383.42" x2="180.8" y2="383.42" stroke="#a422da" stroke-width="0.8"/>
<line x1="177.2" y1="391.5" x2="180.8" y2="391.5" stroke="#a422da" stroke-width="0.8"/>
<line x1="189.97" y1="381" x2="189.97" y2="389.08" stroke="#a422da" stroke-width="0.8"/>
<line x1="188.17" y1="381" x2="191.77" y2="381" stroke="#a422da" stroke-width="0.8"/>
<line x1="188.17" y1="389.08" x2="191.77" y2="389.08" stroke="#a422da" stroke-width="0.8"/>
<line x1="200.93" y1="378.58" x2="200.93" y2="386.66" stroke="#a422da" stroke-width="0.8"/>
<line x1="199.13" y1="378.58" x2="202.73" y2="378.58" stroke="#a422da" stroke-width="0.8"/>
<line x1="199.13" y1="386.66" x2="202.73" y2="386.66" stroke="#a422da" stroke-width="0.8"/>
<line x1="211.9" y1="376.56" x2="211.9" y2="384.64" stroke="#a422da" stroke-width="0.8"/>
<line x1="210.1" y1="376.56" x2="213.7" y2="376.56" stroke="#a422da" stroke-width="0.8"/>
<line x1="210.1" y1="384.64" x2="213.7" y2="384.64" stroke="#a422da" stroke-width="0.8"/>
<polyline points="47.4,468.67 58.37,451.3 69.33,437.56 80.3,428.27 91.27,420.59 102.23,413.32 113.2,407.46 124.17,403.22 135.13,398.98 146.1,395.34 157.07,391.91 168.03,389.48 179,387.46 189.97,385.04 200.93,382.62 211.9,380.6" fill="none" stroke="#a422da" stroke-width="1.5" stroke-linejoin="round" stroke-linecap="round"/>
<polygon points="44.4,465.87 50.4,465.87 47.4,471.27" fill="#a422da"/>
<polygon points="55.37,448.5 61.37,448.5 58.37,453.9" fill="#a422da"/>
<polygon points="66.33,434.76 72.33,434.76 69.33,440.16" fill="#a422da"/>
<polygon points="77.3,425.47 83.3,425.47 80.3,430.87" fill="#a422da"/>
<polygon points="88.27,417.79 94.27,417.79 91.27,423.19" fill="#a422da"/>
<polygon points="99.23,410.52 105.23,410.52 102.23,415.92" fill="#a422da"/>
<polygon points="110.2,404.66 116.2,404.66 113.2,410.06" fill="#a422da"/>
<polygon points="121.17,400.42 127.17,400.42 124.17,405.82" fill="#a422da"/>
<polygon points="132.13,396.18 138.13,396.18 135.13,401.58" fill="#a422da"/>
<polygon points="143.1,392.54 149.1,392.54 146.1,397.94" fill="#a422da"/>
<polygon points="154.07,389.11 160.07,389.11 157.07,394.51" fill="#a422da"/>
<polygon points="165.03,386.68 171.03,386.68 168.03,392.08" fill="#a422da"/>
<polygon points="176,384.66 182,384.66 179,390.06" fill="#a422da"/>
<polygon points="186.97,382.24 192.97,382.24 189.97,387.64" fill="#a422da"/>
<polygon points="197.93,379.82 203.93,379.82 200.93,385.22" fill="#a422da"/>
<polygon points="208.9,377.8 214.9,377.8 211.9,383.2" fill="#a422da"/>
<line x1="47.4" y1="468.06" x2="47.4" y2="470.08" stroke="#161cd0" stroke-width="0.8"/>
<line x1="45.6" y1="468.06" x2="49.2" y2="468.06" stroke="#161cd0" stroke-width="0.8"/>
<line x1="45.6" y1="470.08" x2="49.2" y2="470.08" stroke="#161cd0" stroke-width="0.8"/>
<line x1="58.37" y1="467.66" x2="58.37" y2="469.68" stroke="#161cd0" stroke-width="0.8"/>
<line x1="56.57" y1="467.66" x2="60.17" y2="467.66" stroke="#161cd0" stroke-width="0.8"/>
<line x1="56.57" y1="469.68" x2="60.17" y2="469.68" stroke="#161cd0" stroke-width="0.8"/>
<line x1="69.33" y1="467.66" x2="69.33" y2="469.68" stroke="#161cd0" stroke-width="0.8"/>
<line x1="67.53" y1="467.66" x2="71.13" y2="467.66" stroke="#161cd0" stroke-width="0.8"/>
<line x1="67.53" y1="469.68" x2="71.13" y2="469.68" stroke="#161cd0" stroke-width="0.8"/>
<line x1="80.3" y1="467.66" x2="80.3" y2="469.68" stroke="#161cd0" stroke-width="0.8"/>
<line x1="78.5" y1="467.66" x2="82.1" y2="467.66" stroke="#161cd0" stroke-width="0.8"/>
<line x1="78.5" y1="469.68" x2="82.1" y2="469.68" stroke="#161cd0" stroke-width="0.8"/>
<line x1="91.27" y1="467.46" x2="91.27" y2="469.48" stroke="#161cd0" stroke-width="0.8"/>
<line x1="89.47" y1="467.46" x2="93.07" y2="467.46" stroke="#161cd0" stroke-width="0.8"/>
<line x1="89.47" y1="469.48" x2="93.07" y2="469.48" stroke="#161cd0" stroke-width="0.8"/>
<line x1="102.23" y1="467.25" x2="102.23" y2="469.27" stroke="#161cd0" stroke-width="0.8"/>
<line x1="100.43" y1="467.25" x2="104.03" y2="467.25" stroke="#161cd0" stroke-width="0.8"/>
<line x1="100.43" y1="469.27" x2="104.03" y2="469.27" stroke="#161cd0" stroke-width="0.8"/>
<line x1="113.2" y1="467.25" x2="113.2" y2="469.27" stroke="#161cd0" stroke-width="0.8"/>
<line x1="111.4" y1="467.25" x2="115" y2="467.25" stroke="#161cd0" stroke-width="0.8"/>
<line x1="111.4" y1="469.27" x2="115" y2="469.27" stroke="#161cd0" stroke-width="0.8"/>
<line x1="124.17" y1="467.05" x2="124.17" y2="469.07" stroke="#161cd0" stroke-width="0.8"/>
<line x1="122.37" y1="467.05" x2="125.97" y2="467.05" stroke="#161cd0" stroke-width="0.8"/>
<line x1="122.37" y1="469.07" x2="125.97" y2="469.07" stroke="#161cd0" stroke-width="0.8"/>
<line x1="135.13" y1="466.85" x2="135.13" y2="468.87" stroke="#161cd0" stroke-width="0.8"/>
<line x1="133.33" y1="466.85" x2="136.93" y2="466.85" stroke="#161cd0" stroke-width="0.8"/>
<line x1="133.33" y1="468.87" x2="136.93" y2="468.87" stroke="#161cd0" stroke-width="0.8"/>
<line x1="146.1" y1="466.85" x2="146.1" y2="468.87" stroke="#161cd0" stroke-width="0.8"/>
<line x1="144.3" y1="466.85" x2="147.9" y2="466.85" stroke="#161cd0" stroke-width="0.8"/>
<line x1="144.3" y1="468.87" x2="147.9" y2="468.87" stroke="#161cd0" stroke-width="0.8"/>
<line x1="157.07" y1="466.65" x2="157.07" y2="468.67" stroke="#161cd0" stroke-width="0.8"/>
<line x1="155.27" y1="466.65" x2="158.87" y2="466.65" stroke="#161cd0" stroke-width="0.8"/>
<line x1="155.27" y1="468.67" x2="158.87" y2="468.67" stroke="#161cd0" stroke-width="0.8"/>
<line x1="168.03" y1="466.45" x2="168.03" y2="468.47" stroke="#161cd0" stroke-width="0.8"/>
<line x1="166.23" y1="466.45" x2="169.83" y2="466.45" stroke="#161cd0" stroke-width="0.8"/>
<line x1="166.23" y1="468.47" x2="169.83" y2="468.47" stroke="#161cd0" stroke-width="0.8"/>
<line x1="179" y1="466.45" x2="179" y2="468.47" stroke="#161cd0" stroke-width="0.8"/>
<line x1="177.2" y1="466.45" x2="180.8" y2="466.45" stroke="#161cd0" stroke-width="0.8"/>
<line x1="177.2" y1="468.47" x2="180.8" y2="468.47" stroke="#161cd0" stroke-width="0.8"/>
<line x1="189.97" y1="466.45" x2="189.97" y2="468.47" stroke="#161cd0" stroke-width="0.8"/>
<line x1="188.17" y1="466.45" x2="191.77" y2="466.45" stroke="#161cd0" stroke-width="0.8"/>
<line x1="188.17" y1="468.47" x2="191.77" y2="468.47" stroke="#161cd0" stroke-width="0.8"/>
<line x1="200.93" y1="465.64" x2="200.93" y2="467.66" stroke="#161cd0" stroke-width="0.8"/>
<line x1="199.13" y1="465.64" x2="202.73" y2="465.64" stroke="#161cd0" stroke-width="0.8"/>
<line x1="199.13" y1="467.66" x2="202.73" y2="467.66" stroke="#161cd0" stroke-width="0.8"/>
<line x1="211.9" y1="466.45" x2="211.9" y2="468.47" stroke="#161cd0" stroke-width="0.8"/>
<line x1="210.1" y1="466.45" x2="213.7" y2="466.45" stroke="#161cd0" stroke-width="0.8"/>
<line x1="210.1" y1="468.47" x2="213.7" y2="468.47" stroke="#161cd0" stroke-width="0.8"/>
<polyline points="47.4,469.07 58.37,468.67 69.33,468.67 80.3,468.67 91.27,468.47 102.23,468.26 113.2,468.26 124.17,468.06 135.13,467.86 146.1,467.86 157.07,467.66 168.03,467.46 179,467.46 189.97,467.46 200.93,466.65 211.9,467.46" fill="none" stroke="#161cd0" stroke-width="1.8" stroke-linejoin="round" stroke-linecap="round"/>
<circle cx="47.4" cy="469.07" r="2.2" fill="#161cd0"/>
<circle cx="58.37" cy="468.67" r="2.2" fill="#161cd0"/>
<circle cx="69.33" cy="468.67" r="2.2" fill="#161cd0"/>
<circle cx="80.3" cy="468.67" r="2.2" fill="#161cd0"/>
<circle cx="91.27" cy="468.47" r="2.2" fill="#161cd0"/>
<circle cx="102.23" cy="468.26" r="2.2" fill="#161cd0"/>
<circle cx="113.2" cy="468.26" r="2.2" fill="#161cd0"/>
<circle cx="124.17" cy="468.06" r="2.2" fill="#161cd0"/>
<circle cx="135.13" cy="467.86" r="2.2" fill="#161cd0"/>
<circle cx="146.1" cy="467.86" r="2.2" fill="#161cd0"/>
<circle cx="157.07" cy="467.66" r="2.2" fill="#161cd0"/>
<circle cx="168.03" cy="467.46" r="2.2" fill="#161cd0"/>
<circle cx="179" cy="467.46" r="2.2" fill="#161cd0"/>
<circle cx="189.97" cy="467.46" r="2.2" fill="#161cd0"/>
<circle cx="200.93" cy="466.65" r="2.2" fill="#161cd0"/>
<circle cx="211.9" cy="467.46" r="2.2" fill="#161cd0"/>
<line x1="42.3" y1="369.8" x2="55.5" y2="369.8" stroke="#161cd0" stroke-width="1.3"/>
<circle cx="48.9" cy="369.8" r="1.7" fill="#161cd0"/>
<text x="62.5" y="372.5" font-size="9.7" font-weight="bold" text-anchor="start" fill="#111">PBS</text>
<line x1="42.3" y1="386.2" x2="55.5" y2="386.2" stroke="#0f7a34" stroke-width="1.3"/>
<polygon points="45.8,383.72 52,383.72 48.9,389.3" fill="#0f7a34"/>
<text x="62.5" y="388.9" font-size="9.7" font-weight="bold" text-anchor="start" fill="#111">SAC4A</text>
<line x1="42.3" y1="402.6" x2="55.5" y2="402.6" stroke="#f0a03c" stroke-width="1.3"/>
<circle cx="48.9" cy="402.6" r="3.1" fill="#fff" stroke="#f0a03c" stroke-width="1.2"/>
<text x="62.5" y="405.3" font-size="9.7" font-weight="bold" fill="#111">NH<tspan font-size="70%" dy="2.2">2</tspan><tspan dy="-2.2">C4A</tspan></text>
<line x1="105.4" y1="369.8" x2="118.6" y2="369.8" stroke="#a422da" stroke-width="1.3"/>
<polygon points="108.9,367.32 115.1,367.32 112,372.9" fill="#a422da"/>
<text x="125.6" y="372.5" font-size="10" font-weight="bold" text-anchor="start" fill="#111">IR780@SAC4A</text>
<line x1="122.6" y1="424.8" x2="135.8" y2="424.8" stroke="#111111" stroke-width="1.3"/>
<circle cx="129.2" cy="424.8" r="3" fill="#111111"/>
<text x="142.8" y="427.5" font-size="10.1" font-weight="bold" fill="#111">IR780@NH<tspan font-size="70%" dy="2.2">2</tspan><tspan dy="-2.2">C4A</tspan></text>
<line x1="122.6" y1="440.4" x2="135.8" y2="440.4" stroke="#e3212d" stroke-width="1.3"/>
<polygon points="126.1,442.88 132.3,442.88 129.2,437.3" fill="#e3212d"/>
<text x="142.8" y="443.1" font-size="10.1" font-weight="bold" text-anchor="start" fill="#111">IR780</text>
<rect x="273.9" y="361.3" width="186.5" height="124" fill="none" stroke="#111" stroke-width="1.6"/>
<line x1="268.9" y1="485.1" x2="273.9" y2="485.1" stroke="#111" stroke-width="1.5"/>
<text x="267.4" y="488.4" font-size="9.2" font-weight="bold" text-anchor="end" fill="#111">20</text>
<line x1="268.9" y1="449.75" x2="273.9" y2="449.75" stroke="#111" stroke-width="1.5"/>
<text x="267.4" y="453.05" font-size="9.2" font-weight="bold" text-anchor="end" fill="#111">30</text>
<line x1="268.9" y1="414.4" x2="273.9" y2="414.4" stroke="#111" stroke-width="1.5"/>
<text x="267.4" y="417.7" font-size="9.2" font-weight="bold" text-anchor="end" fill="#111">40</text>
<line x1="268.9" y1="379.05" x2="273.9" y2="379.05" stroke="#111" stroke-width="1.5"/>
<text x="267.4" y="382.35" font-size="9.2" font-weight="bold" text-anchor="end" fill="#111">50</text>
<line x1="281" y1="485.3" x2="281" y2="489.9" stroke="#111" stroke-width="1.5"/>
<text x="281" y="498.9" font-size="9.4" font-weight="bold" text-anchor="middle" fill="#111">1</text>
<line x1="295.27" y1="485.3" x2="295.27" y2="489.9" stroke="#111" stroke-width="1.5"/>
<text x="295.27" y="498.9" font-size="9.4" font-weight="bold" text-anchor="middle" fill="#111">3</text>
<line x1="309.53" y1="485.3" x2="309.53" y2="489.9" stroke="#111" stroke-width="1.5"/>
<text x="309.53" y="498.9" font-size="9.4" font-weight="bold" text-anchor="middle" fill="#111">5</text>
<line x1="323.8" y1="485.3" x2="323.8" y2="489.9" stroke="#111" stroke-width="1.5"/>
<text x="323.8" y="498.9" font-size="9.4" font-weight="bold" text-anchor="middle" fill="#111">7</text>
<line x1="338.07" y1="485.3" x2="338.07" y2="489.9" stroke="#111" stroke-width="1.5"/>
<text x="338.07" y="498.9" font-size="9.4" font-weight="bold" text-anchor="middle" fill="#111">9</text>
<line x1="352.33" y1="485.3" x2="352.33" y2="489.9" stroke="#111" stroke-width="1.5"/>
<text x="352.33" y="498.9" font-size="9.4" font-weight="bold" text-anchor="middle" fill="#111">11</text>
<line x1="366.6" y1="485.3" x2="366.6" y2="489.9" stroke="#111" stroke-width="1.5"/>
<text x="366.6" y="498.9" font-size="9.4" font-weight="bold" text-anchor="middle" fill="#111">13</text>
<line x1="380.87" y1="485.3" x2="380.87" y2="489.9" stroke="#111" stroke-width="1.5"/>
<text x="380.87" y="498.9" font-size="9.4" font-weight="bold" text-anchor="middle" fill="#111">15</text>
<line x1="395.13" y1="485.3" x2="395.13" y2="489.9" stroke="#111" stroke-width="1.5"/>
<text x="395.13" y="498.9" font-size="9.4" font-weight="bold" text-anchor="middle" fill="#111">17</text>
<line x1="409.4" y1="485.3" x2="409.4" y2="489.9" stroke="#111" stroke-width="1.5"/>
<text x="409.4" y="498.9" font-size="9.4" font-weight="bold" text-anchor="middle" fill="#111">19</text>
<line x1="423.67" y1="485.3" x2="423.67" y2="489.9" stroke="#111" stroke-width="1.5"/>
<text x="423.67" y="498.9" font-size="9.4" font-weight="bold" text-anchor="middle" fill="#111">21</text>
<line x1="437.93" y1="485.3" x2="437.93" y2="489.9" stroke="#111" stroke-width="1.5"/>
<text x="437.93" y="498.9" font-size="9.4" font-weight="bold" text-anchor="middle" fill="#111">23</text>
<line x1="452.2" y1="485.3" x2="452.2" y2="489.9" stroke="#111" stroke-width="1.5"/>
<text x="452.2" y="498.9" font-size="9.4" font-weight="bold" text-anchor="middle" fill="#111">25</text>
<text x="366.6" y="514" font-size="10.3" font-weight="bold" text-anchor="middle" fill="#111">Laser irradiation cycles</text>
<text x="251.6" y="422.5" font-size="10.3" font-weight="bold" text-anchor="middle" fill="#111" transform="rotate(-90 251.6 422.5)">Temperature (&#176;C)</text>
<text x="243.6" y="355.2" font-size="16.5" font-weight="bold" text-anchor="start" fill="#111">G</text>
<line x1="281" y1="395.51" x2="281" y2="405.01" stroke="#555" stroke-width="0.7"/>
<line x1="279.1" y1="395.51" x2="282.9" y2="395.51" stroke="#555" stroke-width="0.7"/>
<line x1="279.1" y1="405.01" x2="282.9" y2="405.01" stroke="#555" stroke-width="0.7"/>
<line x1="288.13" y1="396.22" x2="288.13" y2="405.72" stroke="#555" stroke-width="0.7"/>
<line x1="286.23" y1="396.22" x2="290.03" y2="396.22" stroke="#555" stroke-width="0.7"/>
<line x1="286.23" y1="405.72" x2="290.03" y2="405.72" stroke="#555" stroke-width="0.7"/>
<line x1="295.27" y1="396.92" x2="295.27" y2="406.43" stroke="#555" stroke-width="0.7"/>
<line x1="293.37" y1="396.92" x2="297.17" y2="396.92" stroke="#555" stroke-width="0.7"/>
<line x1="293.37" y1="406.43" x2="297.17" y2="406.43" stroke="#555" stroke-width="0.7"/>
<line x1="302.4" y1="397.63" x2="302.4" y2="407.13" stroke="#555" stroke-width="0.7"/>
<line x1="300.5" y1="397.63" x2="304.3" y2="397.63" stroke="#555" stroke-width="0.7"/>
<line x1="300.5" y1="407.13" x2="304.3" y2="407.13" stroke="#555" stroke-width="0.7"/>
<line x1="309.53" y1="398.34" x2="309.53" y2="407.84" stroke="#555" stroke-width="0.7"/>
<line x1="307.63" y1="398.34" x2="311.43" y2="398.34" stroke="#555" stroke-width="0.7"/>
<line x1="307.63" y1="407.84" x2="311.43" y2="407.84" stroke="#555" stroke-width="0.7"/>
<line x1="316.67" y1="398.69" x2="316.67" y2="408.19" stroke="#555" stroke-width="0.7"/>
<line x1="314.77" y1="398.69" x2="318.57" y2="398.69" stroke="#555" stroke-width="0.7"/>
<line x1="314.77" y1="408.19" x2="318.57" y2="408.19" stroke="#555" stroke-width="0.7"/>
<line x1="323.8" y1="399.04" x2="323.8" y2="408.55" stroke="#555" stroke-width="0.7"/>
<line x1="321.9" y1="399.04" x2="325.7" y2="399.04" stroke="#555" stroke-width="0.7"/>
<line x1="321.9" y1="408.55" x2="325.7" y2="408.55" stroke="#555" stroke-width="0.7"/>
<line x1="330.93" y1="399.04" x2="330.93" y2="408.55" stroke="#555" stroke-width="0.7"/>
<line x1="329.03" y1="399.04" x2="332.83" y2="399.04" stroke="#555" stroke-width="0.7"/>
<line x1="329.03" y1="408.55" x2="332.83" y2="408.55" stroke="#555" stroke-width="0.7"/>
<line x1="338.07" y1="399.04" x2="338.07" y2="408.55" stroke="#555" stroke-width="0.7"/>
<line x1="336.17" y1="399.04" x2="339.97" y2="399.04" stroke="#555" stroke-width="0.7"/>
<line x1="336.17" y1="408.55" x2="339.97" y2="408.55" stroke="#555" stroke-width="0.7"/>
<line x1="345.2" y1="399.4" x2="345.2" y2="408.9" stroke="#555" stroke-width="0.7"/>
<line x1="343.3" y1="399.4" x2="347.1" y2="399.4" stroke="#555" stroke-width="0.7"/>
<line x1="343.3" y1="408.9" x2="347.1" y2="408.9" stroke="#555" stroke-width="0.7"/>
<line x1="352.33" y1="399.75" x2="352.33" y2="409.25" stroke="#555" stroke-width="0.7"/>
<line x1="350.43" y1="399.75" x2="354.23" y2="399.75" stroke="#555" stroke-width="0.7"/>
<line x1="350.43" y1="409.25" x2="354.23" y2="409.25" stroke="#555" stroke-width="0.7"/>
<line x1="359.47" y1="399.75" x2="359.47" y2="409.25" stroke="#555" stroke-width="0.7"/>
<line x1="357.57" y1="399.75" x2="361.37" y2="399.75" stroke="#555" stroke-width="0.7"/>
<line x1="357.57" y1="409.25" x2="361.37" y2="409.25" stroke="#555" stroke-width="0.7"/>
<line x1="366.6" y1="400.1" x2="366.6" y2="409.61" stroke="#555" stroke-width="0.7"/>
<line x1="364.7" y1="400.1" x2="368.5" y2="400.1" stroke="#555" stroke-width="0.7"/>
<line x1="364.7" y1="409.61" x2="368.5" y2="409.61" stroke="#555" stroke-width="0.7"/>
<line x1="373.73" y1="400.1" x2="373.73" y2="409.61" stroke="#555" stroke-width="0.7"/>
<line x1="371.83" y1="400.1" x2="375.63" y2="400.1" stroke="#555" stroke-width="0.7"/>
<line x1="371.83" y1="409.61" x2="375.63" y2="409.61" stroke="#555" stroke-width="0.7"/>
<line x1="380.87" y1="400.46" x2="380.87" y2="409.96" stroke="#555" stroke-width="0.7"/>
<line x1="378.97" y1="400.46" x2="382.77" y2="400.46" stroke="#555" stroke-width="0.7"/>
<line x1="378.97" y1="409.96" x2="382.77" y2="409.96" stroke="#555" stroke-width="0.7"/>
<line x1="388" y1="400.46" x2="388" y2="409.96" stroke="#555" stroke-width="0.7"/>
<line x1="386.1" y1="400.46" x2="389.9" y2="400.46" stroke="#555" stroke-width="0.7"/>
<line x1="386.1" y1="409.96" x2="389.9" y2="409.96" stroke="#555" stroke-width="0.7"/>
<line x1="395.13" y1="401.52" x2="395.13" y2="411.02" stroke="#555" stroke-width="0.7"/>
<line x1="393.23" y1="401.52" x2="397.03" y2="401.52" stroke="#555" stroke-width="0.7"/>
<line x1="393.23" y1="411.02" x2="397.03" y2="411.02" stroke="#555" stroke-width="0.7"/>
<line x1="402.27" y1="401.52" x2="402.27" y2="411.02" stroke="#555" stroke-width="0.7"/>
<line x1="400.37" y1="401.52" x2="404.17" y2="401.52" stroke="#555" stroke-width="0.7"/>
<line x1="400.37" y1="411.02" x2="404.17" y2="411.02" stroke="#555" stroke-width="0.7"/>
<line x1="409.4" y1="401.87" x2="409.4" y2="411.38" stroke="#555" stroke-width="0.7"/>
<line x1="407.5" y1="401.87" x2="411.3" y2="401.87" stroke="#555" stroke-width="0.7"/>
<line x1="407.5" y1="411.38" x2="411.3" y2="411.38" stroke="#555" stroke-width="0.7"/>
<line x1="416.53" y1="402.58" x2="416.53" y2="412.08" stroke="#555" stroke-width="0.7"/>
<line x1="414.63" y1="402.58" x2="418.43" y2="402.58" stroke="#555" stroke-width="0.7"/>
<line x1="414.63" y1="412.08" x2="418.43" y2="412.08" stroke="#555" stroke-width="0.7"/>
<line x1="423.67" y1="403.29" x2="423.67" y2="412.79" stroke="#555" stroke-width="0.7"/>
<line x1="421.77" y1="403.29" x2="425.57" y2="403.29" stroke="#555" stroke-width="0.7"/>
<line x1="421.77" y1="412.79" x2="425.57" y2="412.79" stroke="#555" stroke-width="0.7"/>
<line x1="430.8" y1="404.35" x2="430.8" y2="413.85" stroke="#555" stroke-width="0.7"/>
<line x1="428.9" y1="404.35" x2="432.7" y2="404.35" stroke="#555" stroke-width="0.7"/>
<line x1="428.9" y1="413.85" x2="432.7" y2="413.85" stroke="#555" stroke-width="0.7"/>
<line x1="437.93" y1="405.05" x2="437.93" y2="414.56" stroke="#555" stroke-width="0.7"/>
<line x1="436.03" y1="405.05" x2="439.83" y2="405.05" stroke="#555" stroke-width="0.7"/>
<line x1="436.03" y1="414.56" x2="439.83" y2="414.56" stroke="#555" stroke-width="0.7"/>
<line x1="445.07" y1="405.41" x2="445.07" y2="414.91" stroke="#555" stroke-width="0.7"/>
<line x1="443.17" y1="405.41" x2="446.97" y2="405.41" stroke="#555" stroke-width="0.7"/>
<line x1="443.17" y1="414.91" x2="446.97" y2="414.91" stroke="#555" stroke-width="0.7"/>
<line x1="452.2" y1="410.36" x2="452.2" y2="419.86" stroke="#555" stroke-width="0.7"/>
<line x1="450.3" y1="410.36" x2="454.1" y2="410.36" stroke="#555" stroke-width="0.7"/>
<line x1="450.3" y1="419.86" x2="454.1" y2="419.86" stroke="#555" stroke-width="0.7"/>
<polyline points="277.43,478.03 281,400.26 284.57,478.03 288.13,400.97 291.7,478.03 295.27,401.67 298.83,478.03 302.4,402.38 305.97,478.03 309.53,403.09 313.1,478.03 316.67,403.44 320.23,478.03 323.8,403.8 327.37,478.03 330.93,403.8 334.5,478.03 338.07,403.8 341.63,478.03 345.2,404.15 348.77,478.03 352.33,404.5 355.9,478.03 359.47,404.5 363.03,478.03 366.6,404.86 370.17,478.03 373.73,404.86 377.3,478.03 380.87,405.21 384.43,478.03 388,405.21 391.57,478.03 395.13,406.27 398.7,478.03 402.27,406.27 405.83,478.03 409.4,406.62 412.97,478.03 416.53,407.33 420.1,478.03 423.67,408.04 427.23,478.03 430.8,409.1 434.37,478.03 437.93,409.8 441.5,478.03 445.07,410.16 448.63,478.03 452.2,415.11 455.77,478.03" fill="none" stroke="#7a7a7a" stroke-width="0.6" stroke-linejoin="round" stroke-linecap="round"/>
<polygon points="278.5,402.26 283.5,402.26 281,397.76" fill="#111"/>
<polygon points="285.63,402.97 290.63,402.97 288.13,398.47" fill="#111"/>
<polygon points="292.77,403.67 297.77,403.67 295.27,399.17" fill="#111"/>
<polygon points="299.9,404.38 304.9,404.38 302.4,399.88" fill="#111"/>
<polygon points="307.03,405.09 312.03,405.09 309.53,400.59" fill="#111"/>
<polygon points="314.17,405.44 319.17,405.44 316.67,400.94" fill="#111"/>
<polygon points="321.3,405.8 326.3,405.8 323.8,401.3" fill="#111"/>
<polygon points="328.43,405.8 333.43,405.8 330.93,401.3" fill="#111"/>
<polygon points="335.57,405.8 340.57,405.8 338.07,401.3" fill="#111"/>
<polygon points="342.7,406.15 347.7,406.15 345.2,401.65" fill="#111"/>
<polygon points="349.83,406.5 354.83,406.5 352.33,402" fill="#111"/>
<polygon points="356.97,406.5 361.97,406.5 359.47,402" fill="#111"/>
<polygon points="364.1,406.86 369.1,406.86 366.6,402.36" fill="#111"/>
<polygon points="371.23,406.86 376.23,406.86 373.73,402.36" fill="#111"/>
<polygon points="378.37,407.21 383.37,407.21 380.87,402.71" fill="#111"/>
<polygon points="385.5,407.21 390.5,407.21 388,402.71" fill="#111"/>
<polygon points="392.63,408.27 397.63,408.27 395.13,403.77" fill="#111"/>
<polygon points="399.77,408.27 404.77,408.27 402.27,403.77" fill="#111"/>
<polygon points="406.9,408.62 411.9,408.62 409.4,404.12" fill="#111"/>
<polygon points="414.03,409.33 419.03,409.33 416.53,404.83" fill="#111"/>
<polygon points="421.17,410.04 426.17,410.04 423.67,405.54" fill="#111"/>
<polygon points="428.3,411.1 433.3,411.1 430.8,406.6" fill="#111"/>
<polygon points="435.43,411.8 440.43,411.8 437.93,407.3" fill="#111"/>
<polygon points="442.57,412.16 447.57,412.16 445.07,407.66" fill="#111"/>
<polygon points="449.7,417.11 454.7,417.11 452.2,412.61" fill="#111"/>
<polyline points="277.43,478.03 281,402.03 284.57,478.03 288.13,407.68 291.7,478.03 295.27,408.39 298.83,478.03 302.4,410.16 305.97,478.03 309.53,410.87 313.1,478.03 316.67,411.22 320.23,478.03 323.8,415.46 327.37,478.03 330.93,416.52 334.5,478.03 338.07,418.64 341.63,478.03 345.2,421.12 348.77,478.03 352.33,424.65 355.9,478.03 359.47,425.71 363.03,478.03 366.6,426.42 370.17,478.03 373.73,426.77 377.3,478.03 380.87,426.77 384.43,478.03 388,427.83 391.57,478.03 395.13,429.25 398.7,478.03 402.27,431.01 405.83,478.03 409.4,433.14 412.97,478.03 416.53,436.32 420.1,478.03 423.67,438.44 427.23,478.03 430.8,440.91 434.37,478.03 437.93,441.62 441.5,478.03 445.07,443.74 448.63,478.03 452.2,446.22 455.77,478.03" fill="none" stroke="#45864a" stroke-width="0.75" stroke-linejoin="round" stroke-linecap="round"/>
<line x1="281" y1="398.86" x2="281" y2="405.2" stroke="#1e8f2a" stroke-width="0.7"/>
<line x1="279.4" y1="398.86" x2="282.6" y2="398.86" stroke="#1e8f2a" stroke-width="0.7"/>
<line x1="279.4" y1="405.2" x2="282.6" y2="405.2" stroke="#1e8f2a" stroke-width="0.7"/>
<rect x="278.8" y="399.83" width="4.4" height="4.4" fill="#1e8f2a"/>
<line x1="288.13" y1="404.52" x2="288.13" y2="410.85" stroke="#1e8f2a" stroke-width="0.7"/>
<line x1="286.53" y1="404.52" x2="289.73" y2="404.52" stroke="#1e8f2a" stroke-width="0.7"/>
<line x1="286.53" y1="410.85" x2="289.73" y2="410.85" stroke="#1e8f2a" stroke-width="0.7"/>
<rect x="285.93" y="405.48" width="4.4" height="4.4" fill="#1e8f2a"/>
<line x1="295.27" y1="405.22" x2="295.27" y2="411.56" stroke="#1e8f2a" stroke-width="0.7"/>
<line x1="293.67" y1="405.22" x2="296.87" y2="405.22" stroke="#1e8f2a" stroke-width="0.7"/>
<line x1="293.67" y1="411.56" x2="296.87" y2="411.56" stroke="#1e8f2a" stroke-width="0.7"/>
<rect x="293.07" y="406.19" width="4.4" height="4.4" fill="#1e8f2a"/>
<line x1="302.4" y1="406.99" x2="302.4" y2="413.33" stroke="#1e8f2a" stroke-width="0.7"/>
<line x1="300.8" y1="406.99" x2="304" y2="406.99" stroke="#1e8f2a" stroke-width="0.7"/>
<line x1="300.8" y1="413.33" x2="304" y2="413.33" stroke="#1e8f2a" stroke-width="0.7"/>
<rect x="300.2" y="407.96" width="4.4" height="4.4" fill="#1e8f2a"/>
<line x1="309.53" y1="407.7" x2="309.53" y2="414.03" stroke="#1e8f2a" stroke-width="0.7"/>
<line x1="307.93" y1="407.7" x2="311.13" y2="407.7" stroke="#1e8f2a" stroke-width="0.7"/>
<line x1="307.93" y1="414.03" x2="311.13" y2="414.03" stroke="#1e8f2a" stroke-width="0.7"/>
<rect x="307.33" y="408.67" width="4.4" height="4.4" fill="#1e8f2a"/>
<line x1="316.67" y1="408.05" x2="316.67" y2="414.39" stroke="#1e8f2a" stroke-width="0.7"/>
<line x1="315.07" y1="408.05" x2="318.27" y2="408.05" stroke="#1e8f2a" stroke-width="0.7"/>
<line x1="315.07" y1="414.39" x2="318.27" y2="414.39" stroke="#1e8f2a" stroke-width="0.7"/>
<rect x="314.47" y="409.02" width="4.4" height="4.4" fill="#1e8f2a"/>
<line x1="323.8" y1="412.29" x2="323.8" y2="418.63" stroke="#1e8f2a" stroke-width="0.7"/>
<line x1="322.2" y1="412.29" x2="325.4" y2="412.29" stroke="#1e8f2a" stroke-width="0.7"/>
<line x1="322.2" y1="418.63" x2="325.4" y2="418.63" stroke="#1e8f2a" stroke-width="0.7"/>
<rect x="321.6" y="413.26" width="4.4" height="4.4" fill="#1e8f2a"/>
<line x1="330.93" y1="413.35" x2="330.93" y2="419.69" stroke="#1e8f2a" stroke-width="0.7"/>
<line x1="329.33" y1="413.35" x2="332.53" y2="413.35" stroke="#1e8f2a" stroke-width="0.7"/>
<line x1="329.33" y1="419.69" x2="332.53" y2="419.69" stroke="#1e8f2a" stroke-width="0.7"/>
<rect x="328.73" y="414.32" width="4.4" height="4.4" fill="#1e8f2a"/>
<line x1="338.07" y1="415.47" x2="338.07" y2="421.81" stroke="#1e8f2a" stroke-width="0.7"/>
<line x1="336.47" y1="415.47" x2="339.67" y2="415.47" stroke="#1e8f2a" stroke-width="0.7"/>
<line x1="336.47" y1="421.81" x2="339.67" y2="421.81" stroke="#1e8f2a" stroke-width="0.7"/>
<rect x="335.87" y="416.44" width="4.4" height="4.4" fill="#1e8f2a"/>
<line x1="345.2" y1="417.95" x2="345.2" y2="424.28" stroke="#1e8f2a" stroke-width="0.7"/>
<line x1="343.6" y1="417.95" x2="346.8" y2="417.95" stroke="#1e8f2a" stroke-width="0.7"/>
<line x1="343.6" y1="424.28" x2="346.8" y2="424.28" stroke="#1e8f2a" stroke-width="0.7"/>
<rect x="343" y="418.92" width="4.4" height="4.4" fill="#1e8f2a"/>
<line x1="352.33" y1="421.48" x2="352.33" y2="427.82" stroke="#1e8f2a" stroke-width="0.7"/>
<line x1="350.73" y1="421.48" x2="353.93" y2="421.48" stroke="#1e8f2a" stroke-width="0.7"/>
<line x1="350.73" y1="427.82" x2="353.93" y2="427.82" stroke="#1e8f2a" stroke-width="0.7"/>
<rect x="350.13" y="422.45" width="4.4" height="4.4" fill="#1e8f2a"/>
<line x1="359.47" y1="422.54" x2="359.47" y2="428.88" stroke="#1e8f2a" stroke-width="0.7"/>
<line x1="357.87" y1="422.54" x2="361.07" y2="422.54" stroke="#1e8f2a" stroke-width="0.7"/>
<line x1="357.87" y1="428.88" x2="361.07" y2="428.88" stroke="#1e8f2a" stroke-width="0.7"/>
<rect x="357.27" y="423.51" width="4.4" height="4.4" fill="#1e8f2a"/>
<line x1="366.6" y1="423.25" x2="366.6" y2="429.59" stroke="#1e8f2a" stroke-width="0.7"/>
<line x1="365" y1="423.25" x2="368.2" y2="423.25" stroke="#1e8f2a" stroke-width="0.7"/>
<line x1="365" y1="429.59" x2="368.2" y2="429.59" stroke="#1e8f2a" stroke-width="0.7"/>
<rect x="364.4" y="424.22" width="4.4" height="4.4" fill="#1e8f2a"/>
<line x1="373.73" y1="423.6" x2="373.73" y2="429.94" stroke="#1e8f2a" stroke-width="0.7"/>
<line x1="372.13" y1="423.6" x2="375.33" y2="423.6" stroke="#1e8f2a" stroke-width="0.7"/>
<line x1="372.13" y1="429.94" x2="375.33" y2="429.94" stroke="#1e8f2a" stroke-width="0.7"/>
<rect x="371.53" y="424.57" width="4.4" height="4.4" fill="#1e8f2a"/>
<line x1="380.87" y1="423.6" x2="380.87" y2="429.94" stroke="#1e8f2a" stroke-width="0.7"/>
<line x1="379.27" y1="423.6" x2="382.47" y2="423.6" stroke="#1e8f2a" stroke-width="0.7"/>
<line x1="379.27" y1="429.94" x2="382.47" y2="429.94" stroke="#1e8f2a" stroke-width="0.7"/>
<rect x="378.67" y="424.57" width="4.4" height="4.4" fill="#1e8f2a"/>
<line x1="388" y1="424.67" x2="388" y2="431" stroke="#1e8f2a" stroke-width="0.7"/>
<line x1="386.4" y1="424.67" x2="389.6" y2="424.67" stroke="#1e8f2a" stroke-width="0.7"/>
<line x1="386.4" y1="431" x2="389.6" y2="431" stroke="#1e8f2a" stroke-width="0.7"/>
<rect x="385.8" y="425.63" width="4.4" height="4.4" fill="#1e8f2a"/>
<line x1="395.13" y1="426.08" x2="395.13" y2="432.42" stroke="#1e8f2a" stroke-width="0.7"/>
<line x1="393.53" y1="426.08" x2="396.73" y2="426.08" stroke="#1e8f2a" stroke-width="0.7"/>
<line x1="393.53" y1="432.42" x2="396.73" y2="432.42" stroke="#1e8f2a" stroke-width="0.7"/>
<rect x="392.93" y="427.05" width="4.4" height="4.4" fill="#1e8f2a"/>
<line x1="402.27" y1="427.85" x2="402.27" y2="434.18" stroke="#1e8f2a" stroke-width="0.7"/>
<line x1="400.67" y1="427.85" x2="403.87" y2="427.85" stroke="#1e8f2a" stroke-width="0.7"/>
<line x1="400.67" y1="434.18" x2="403.87" y2="434.18" stroke="#1e8f2a" stroke-width="0.7"/>
<rect x="400.07" y="428.81" width="4.4" height="4.4" fill="#1e8f2a"/>
<line x1="409.4" y1="429.97" x2="409.4" y2="436.3" stroke="#1e8f2a" stroke-width="0.7"/>
<line x1="407.8" y1="429.97" x2="411" y2="429.97" stroke="#1e8f2a" stroke-width="0.7"/>
<line x1="407.8" y1="436.3" x2="411" y2="436.3" stroke="#1e8f2a" stroke-width="0.7"/>
<rect x="407.2" y="430.94" width="4.4" height="4.4" fill="#1e8f2a"/>
<line x1="416.53" y1="433.15" x2="416.53" y2="439.49" stroke="#1e8f2a" stroke-width="0.7"/>
<line x1="414.93" y1="433.15" x2="418.13" y2="433.15" stroke="#1e8f2a" stroke-width="0.7"/>
<line x1="414.93" y1="439.49" x2="418.13" y2="439.49" stroke="#1e8f2a" stroke-width="0.7"/>
<rect x="414.33" y="434.12" width="4.4" height="4.4" fill="#1e8f2a"/>
<line x1="423.67" y1="435.27" x2="423.67" y2="441.61" stroke="#1e8f2a" stroke-width="0.7"/>
<line x1="422.07" y1="435.27" x2="425.27" y2="435.27" stroke="#1e8f2a" stroke-width="0.7"/>
<line x1="422.07" y1="441.61" x2="425.27" y2="441.61" stroke="#1e8f2a" stroke-width="0.7"/>
<rect x="421.47" y="436.24" width="4.4" height="4.4" fill="#1e8f2a"/>
<line x1="430.8" y1="437.74" x2="430.8" y2="444.08" stroke="#1e8f2a" stroke-width="0.7"/>
<line x1="429.2" y1="437.74" x2="432.4" y2="437.74" stroke="#1e8f2a" stroke-width="0.7"/>
<line x1="429.2" y1="444.08" x2="432.4" y2="444.08" stroke="#1e8f2a" stroke-width="0.7"/>
<rect x="428.6" y="438.71" width="4.4" height="4.4" fill="#1e8f2a"/>
<line x1="437.93" y1="438.45" x2="437.93" y2="444.79" stroke="#1e8f2a" stroke-width="0.7"/>
<line x1="436.33" y1="438.45" x2="439.53" y2="438.45" stroke="#1e8f2a" stroke-width="0.7"/>
<line x1="436.33" y1="444.79" x2="439.53" y2="444.79" stroke="#1e8f2a" stroke-width="0.7"/>
<rect x="435.73" y="439.42" width="4.4" height="4.4" fill="#1e8f2a"/>
<line x1="445.07" y1="440.57" x2="445.07" y2="446.91" stroke="#1e8f2a" stroke-width="0.7"/>
<line x1="443.47" y1="440.57" x2="446.67" y2="440.57" stroke="#1e8f2a" stroke-width="0.7"/>
<line x1="443.47" y1="446.91" x2="446.67" y2="446.91" stroke="#1e8f2a" stroke-width="0.7"/>
<rect x="442.87" y="441.54" width="4.4" height="4.4" fill="#1e8f2a"/>
<line x1="452.2" y1="443.05" x2="452.2" y2="449.38" stroke="#1e8f2a" stroke-width="0.7"/>
<line x1="450.6" y1="443.05" x2="453.8" y2="443.05" stroke="#1e8f2a" stroke-width="0.7"/>
<line x1="450.6" y1="449.38" x2="453.8" y2="449.38" stroke="#1e8f2a" stroke-width="0.7"/>
<rect x="450" y="444.02" width="4.4" height="4.4" fill="#1e8f2a"/>
<rect x="275.23" y="475.83" width="4.4" height="4.4" fill="#1e8f2a"/>
<rect x="282.37" y="475.83" width="4.4" height="4.4" fill="#1e8f2a"/>
<rect x="289.5" y="475.83" width="4.4" height="4.4" fill="#1e8f2a"/>
<rect x="296.63" y="475.83" width="4.4" height="4.4" fill="#1e8f2a"/>
<rect x="303.77" y="475.83" width="4.4" height="4.4" fill="#1e8f2a"/>
<rect x="310.9" y="475.83" width="4.4" height="4.4" fill="#1e8f2a"/>
<rect x="318.03" y="475.83" width="4.4" height="4.4" fill="#1e8f2a"/>
<rect x="325.17" y="475.83" width="4.4" height="4.4" fill="#1e8f2a"/>
<rect x="332.3" y="475.83" width="4.4" height="4.4" fill="#1e8f2a"/>
<rect x="339.43" y="475.83" width="4.4" height="4.4" fill="#1e8f2a"/>
<rect x="346.57" y="475.83" width="4.4" height="4.4" fill="#1e8f2a"/>
<rect x="353.7" y="475.83" width="4.4" height="4.4" fill="#1e8f2a"/>
<rect x="360.83" y="475.83" width="4.4" height="4.4" fill="#1e8f2a"/>
<rect x="367.97" y="475.83" width="4.4" height="4.4" fill="#1e8f2a"/>
<rect x="375.1" y="475.83" width="4.4" height="4.4" fill="#1e8f2a"/>
<rect x="382.23" y="475.83" width="4.4" height="4.4" fill="#1e8f2a"/>
<rect x="389.37" y="475.83" width="4.4" height="4.4" fill="#1e8f2a"/>
<rect x="396.5" y="475.83" width="4.4" height="4.4" fill="#1e8f2a"/>
<rect x="403.63" y="475.83" width="4.4" height="4.4" fill="#1e8f2a"/>
<rect x="410.77" y="475.83" width="4.4" height="4.4" fill="#1e8f2a"/>
<rect x="417.9" y="475.83" width="4.4" height="4.4" fill="#1e8f2a"/>
<rect x="425.03" y="475.83" width="4.4" height="4.4" fill="#1e8f2a"/>
<rect x="432.17" y="475.83" width="4.4" height="4.4" fill="#1e8f2a"/>
<rect x="439.3" y="475.83" width="4.4" height="4.4" fill="#1e8f2a"/>
<rect x="446.43" y="475.83" width="4.4" height="4.4" fill="#1e8f2a"/>
<rect x="453.57" y="475.83" width="4.4" height="4.4" fill="#1e8f2a"/>
<polyline points="277.43,478.03 281,433.14 284.57,478.03 288.13,450.46 291.7,478.03 295.27,460 298.83,478.03 302.4,468.13 305.97,478.03 309.53,472.73 313.1,478.03 316.67,473.43 320.23,478.03 323.8,473.79 327.37,478.03 330.93,474.14 334.5,478.03 338.07,474.5 341.63,478.03 345.2,477.32 348.77,478.03" fill="none" stroke="#f5c08c" stroke-width="0.85" stroke-linejoin="round" stroke-linecap="round"/>
<line x1="281" y1="431.38" x2="281" y2="434.9" stroke="#ee9434" stroke-width="0.6"/>
<line x1="279.6" y1="431.38" x2="282.4" y2="431.38" stroke="#ee9434" stroke-width="0.6"/>
<line x1="279.6" y1="434.9" x2="282.4" y2="434.9" stroke="#ee9434" stroke-width="0.6"/>
<circle cx="281" cy="433.14" r="1.9" fill="#ee9434"/>
<line x1="288.13" y1="448.7" x2="288.13" y2="452.22" stroke="#ee9434" stroke-width="0.6"/>
<line x1="286.73" y1="448.7" x2="289.53" y2="448.7" stroke="#ee9434" stroke-width="0.6"/>
<line x1="286.73" y1="452.22" x2="289.53" y2="452.22" stroke="#ee9434" stroke-width="0.6"/>
<circle cx="288.13" cy="450.46" r="1.9" fill="#ee9434"/>
<line x1="295.27" y1="458.24" x2="295.27" y2="461.76" stroke="#ee9434" stroke-width="0.6"/>
<line x1="293.87" y1="458.24" x2="296.67" y2="458.24" stroke="#ee9434" stroke-width="0.6"/>
<line x1="293.87" y1="461.76" x2="296.67" y2="461.76" stroke="#ee9434" stroke-width="0.6"/>
<circle cx="295.27" cy="460" r="1.9" fill="#ee9434"/>
<line x1="302.4" y1="466.37" x2="302.4" y2="469.89" stroke="#ee9434" stroke-width="0.6"/>
<line x1="301" y1="466.37" x2="303.8" y2="466.37" stroke="#ee9434" stroke-width="0.6"/>
<line x1="301" y1="469.89" x2="303.8" y2="469.89" stroke="#ee9434" stroke-width="0.6"/>
<circle cx="302.4" cy="468.13" r="1.9" fill="#ee9434"/>
<line x1="309.53" y1="470.97" x2="309.53" y2="474.49" stroke="#ee9434" stroke-width="0.6"/>
<line x1="308.13" y1="470.97" x2="310.93" y2="470.97" stroke="#ee9434" stroke-width="0.6"/>
<line x1="308.13" y1="474.49" x2="310.93" y2="474.49" stroke="#ee9434" stroke-width="0.6"/>
<circle cx="309.53" cy="472.73" r="1.9" fill="#ee9434"/>
<line x1="316.67" y1="471.67" x2="316.67" y2="475.19" stroke="#ee9434" stroke-width="0.6"/>
<line x1="315.27" y1="471.67" x2="318.07" y2="471.67" stroke="#ee9434" stroke-width="0.6"/>
<line x1="315.27" y1="475.19" x2="318.07" y2="475.19" stroke="#ee9434" stroke-width="0.6"/>
<circle cx="316.67" cy="473.43" r="1.9" fill="#ee9434"/>
<line x1="323.8" y1="472.03" x2="323.8" y2="475.55" stroke="#ee9434" stroke-width="0.6"/>
<line x1="322.4" y1="472.03" x2="325.2" y2="472.03" stroke="#ee9434" stroke-width="0.6"/>
<line x1="322.4" y1="475.55" x2="325.2" y2="475.55" stroke="#ee9434" stroke-width="0.6"/>
<circle cx="323.8" cy="473.79" r="1.9" fill="#ee9434"/>
<line x1="330.93" y1="472.38" x2="330.93" y2="475.9" stroke="#ee9434" stroke-width="0.6"/>
<line x1="329.53" y1="472.38" x2="332.33" y2="472.38" stroke="#ee9434" stroke-width="0.6"/>
<line x1="329.53" y1="475.9" x2="332.33" y2="475.9" stroke="#ee9434" stroke-width="0.6"/>
<circle cx="330.93" cy="474.14" r="1.9" fill="#ee9434"/>
<line x1="338.07" y1="472.74" x2="338.07" y2="476.25" stroke="#ee9434" stroke-width="0.6"/>
<line x1="336.67" y1="472.74" x2="339.47" y2="472.74" stroke="#ee9434" stroke-width="0.6"/>
<line x1="336.67" y1="476.25" x2="339.47" y2="476.25" stroke="#ee9434" stroke-width="0.6"/>
<circle cx="338.07" cy="474.5" r="1.9" fill="#ee9434"/>
<line x1="345.2" y1="475.56" x2="345.2" y2="479.08" stroke="#ee9434" stroke-width="0.6"/>
<line x1="343.8" y1="475.56" x2="346.6" y2="475.56" stroke="#ee9434" stroke-width="0.6"/>
<line x1="343.8" y1="479.08" x2="346.6" y2="479.08" stroke="#ee9434" stroke-width="0.6"/>
<circle cx="345.2" cy="477.32" r="1.9" fill="#ee9434"/>
<rect x="275.53" y="476.13" width="3.8" height="3.8" fill="#ee9434"/>
<rect x="282.67" y="476.13" width="3.8" height="3.8" fill="#ee9434"/>
<rect x="289.8" y="476.13" width="3.8" height="3.8" fill="#ee9434"/>
<rect x="296.93" y="476.13" width="3.8" height="3.8" fill="#ee9434"/>
<rect x="304.07" y="476.13" width="3.8" height="3.8" fill="#ee9434"/>
<rect x="311.2" y="476.13" width="3.8" height="3.8" fill="#ee9434"/>
<rect x="318.33" y="476.13" width="3.8" height="3.8" fill="#ee9434"/>
<rect x="325.47" y="476.13" width="3.8" height="3.8" fill="#ee9434"/>
<rect x="332.6" y="476.13" width="3.8" height="3.8" fill="#ee9434"/>
<rect x="339.73" y="476.13" width="3.8" height="3.8" fill="#ee9434"/>
<rect x="346.87" y="476.13" width="3.8" height="3.8" fill="#ee9434"/>
<line x1="286.8" y1="371" x2="299.8" y2="371" stroke="#f6c08a" stroke-width="0.9"/>
<circle cx="293.3" cy="371" r="2.3" fill="#ee9434"/>
<text x="307.8" y="373.9" font-size="10" font-weight="bold" text-anchor="start" fill="#111">IR780</text>
<line x1="342.2" y1="371" x2="355.4" y2="371" stroke="#7a7a7a" stroke-width="0.9"/>
<polygon points="346.4,372.92 351.2,372.92 348.8,368.6" fill="#111"/>
<text x="362.6" y="373.9" font-size="10" font-weight="bold" text-anchor="start" fill="#111">IR780@SAC4A</text>
<line x1="286.8" y1="385.2" x2="299.8" y2="385.2" stroke="#45864a" stroke-width="0.9"/>
<rect x="291" y="382.9" width="4.6" height="4.6" fill="#1e8f2a"/>
<text x="307.8" y="388.1" font-size="10.0" font-weight="bold" fill="#111">IR780@NH<tspan font-size="70%" dy="2.2">2</tspan><tspan dy="-2.2">C4A</tspan></text>
<text x="480.4" y="44.5" font-size="16.5" font-weight="bold" text-anchor="start" fill="#111">F</text>
<text x="511.8" y="47.3" font-size="10.5" font-weight="bold" text-anchor="middle" fill="#111">0 s</text>
<text x="554.5" y="47.3" font-size="10.5" font-weight="bold" text-anchor="middle" fill="#111">180 s</text>
<text x="597.1" y="47.3" font-size="10.5" font-weight="bold" text-anchor="middle" fill="#111">360 s</text>
<text x="639.7" y="47.3" font-size="10.5" font-weight="bold" text-anchor="middle" fill="#111">540 s</text>
<text x="682.3" y="47.3" font-size="10.5" font-weight="bold" text-anchor="middle" fill="#111">720 s</text>
<text x="724.8" y="47.3" font-size="10.5" font-weight="bold" text-anchor="middle" fill="#111">900 s</text>
<text x="483.8" y="101.3" font-size="11" font-weight="bold" text-anchor="middle" fill="#111" transform="rotate(-90 483.8 101.3)">PBS</text>
<text x="483.8" y="204.3" font-size="11" font-weight="bold" text-anchor="middle" fill="#111" transform="rotate(-90 483.8 204.3)">IR780</text>
<text x="483.8" y="306.9" font-size="11.0" font-weight="bold" text-anchor="middle" fill="#111" transform="rotate(-90 483.8 306.9)">IR780@NH<tspan font-size="70%" dy="2.2">2</tspan><tspan dy="-2.2">C4A</tspan></text>
<text x="483.8" y="407.7" font-size="11" font-weight="bold" text-anchor="middle" fill="#111" transform="rotate(-90 483.8 407.7)">IR780@SAC4A</text>
<g clip-path="url(#c0_0)">
<rect x="491.3" y="52.5" width="41.6" height="98.4" fill="url(#g1)"/>
<polygon points="495.3,64.5 528.9,64.5 528.9,153.9 495.3,153.9" fill="url(#g2)" filter="url(#bl2p2)"/>
<rect x="511.5" y="66.5" width="1.6" height="82" fill="#2a10a0" opacity="0.5" filter="url(#bl1)"/>
<rect x="491.3" y="52.5" width="41.6" height="98.4" fill="url(#hshade2)" opacity="0.9"/>
</g>
<g clip-path="url(#c0_1)">
<rect x="534" y="52.5" width="41.6" height="98.4" fill="url(#g3)"/>
<polygon points="538,64.5 571.6,64.5 571.6,153.9 538,153.9" fill="url(#g4)" filter="url(#bl2p2)"/>
<rect x="553.2" y="78.5" width="1.6" height="70" fill="#2a10a0" opacity="0.5" filter="url(#bl1)"/>
<rect x="534" y="52.5" width="41.6" height="98.4" fill="url(#hshade2)" opacity="0.9"/>
</g>
<g clip-path="url(#c0_2)">
<rect x="576.6" y="52.5" width="41.6" height="98.4" fill="url(#g5)"/>
<polygon points="580.6,64.5 614.2,64.5 614.2,153.9 580.6,153.9" fill="url(#g6)" filter="url(#bl2p2)"/>
<ellipse cx="597.6" cy="114.5" rx="6" ry="26" fill="#2a0e9a" opacity="0.5" filter="url(#bl3)"/>
<rect x="596.8" y="72.5" width="1.6" height="76" fill="#3010a8" opacity="0.6" filter="url(#bl1)"/>
<rect x="576.6" y="52.5" width="41.6" height="98.4" fill="url(#hshade2)" opacity="0.9"/>
</g>
<g clip-path="url(#c0_3)">
<rect x="619.2" y="52.5" width="41.6" height="98.4" fill="url(#g7)"/>
<polygon points="623.2,64.5 656.8,64.5 656.8,153.9 623.2,153.9" fill="url(#g8)" filter="url(#bl2p2)"/>
<rect x="639.4" y="74.5" width="1.6" height="74" fill="#2a10a0" opacity="0.5" filter="url(#bl1)"/>
<rect x="619.2" y="52.5" width="41.6" height="98.4" fill="url(#hshade2)" opacity="0.9"/>
</g>
<g clip-path="url(#c0_4)">
<rect x="661.8" y="52.5" width="41.6" height="98.4" fill="url(#g9)"/>
<polygon points="665.8,64.5 699.4,64.5 699.4,153.9 665.8,153.9" fill="url(#g10)" filter="url(#bl2p2)"/>
<rect x="681" y="76.5" width="1.6" height="72" fill="#3010a8" opacity="0.55" filter="url(#bl1)"/>
<rect x="661.8" y="52.5" width="41.6" height="98.4" fill="url(#hshade2)" opacity="0.9"/>
</g>
<g clip-path="url(#c0_5)">
<rect x="704.3" y="52.5" width="41.6" height="98.4" fill="url(#g11)"/>
<polygon points="708.3,64.5 741.9,64.5 741.9,153.9 708.3,153.9" fill="url(#g12)" filter="url(#bl2p2)"/>
<ellipse cx="726.3" cy="94.5" rx="7" ry="24" fill="#3c10aa" opacity="0.55" filter="url(#bl3)"/>
<rect x="725.5" y="70.5" width="1.6" height="78" fill="#4a14b8" opacity="0.5" filter="url(#bl1)"/>
<rect x="704.3" y="52.5" width="41.6" height="98.4" fill="url(#hshade2)" opacity="0.9"/>
</g>
<g clip-path="url(#c1_0)">
<rect x="491.3" y="152.2" width="41.6" height="97.4" fill="url(#g13)"/>
<polygon points="495.3,160.2 528.9,160.2 528.9,252.6 495.3,252.6" fill="url(#g14)" filter="url(#bl2p2)"/>
<rect x="510.5" y="162.2" width="1.6" height="86" fill="#2a10a0" opacity="0.45" filter="url(#bl1)"/>
<rect x="491.3" y="152.2" width="41.6" height="97.4" fill="url(#hshade2)" opacity="0.9"/>
</g>
<g clip-path="url(#c1_1)">
<rect x="534" y="152.2" width="41.6" height="97.4" fill="url(#g15)"/>
<polygon points="540.2,167.2 568.8,167.2 569.4,252.6 539.6,252.6" fill="url(#g16)" filter="url(#bl2p4)"/>
<rect x="553.7" y="176.2" width="1.6" height="72" fill="#a428d0" opacity="0.16" filter="url(#bl1)"/>
<rect x="534" y="152.2" width="41.6" height="97.4" fill="url(#hshade)" opacity="0.7"/>
</g>
<g clip-path="url(#c1_2)">
<rect x="576.6" y="152.2" width="41.6" height="97.4" fill="url(#g17)"/>
<polygon points="582.8,167.2 611.4,167.2 612,252.6 582.2,252.6" fill="url(#g18)" filter="url(#bl2p4)"/>
<rect x="596.3" y="176.2" width="1.6" height="72" fill="#a428d0" opacity="0.16" filter="url(#bl1)"/>
<rect x="576.6" y="152.2" width="41.6" height="97.4" fill="url(#hshade)" opacity="0.7"/>
</g>
<g clip-path="url(#c1_3)">
<rect x="619.2" y="152.2" width="41.6" height="97.4" fill="url(#g19)"/>
<polygon points="624.4,165.2 655.2,165.2 655.8,252.6 623.8,252.6" fill="url(#g20)" filter="url(#bl2p4)"/>
<rect x="638.9" y="176.2" width="1.6" height="72" fill="#4a18b8" opacity="0.16" filter="url(#bl1)"/>
<rect x="619.2" y="152.2" width="41.6" height="97.4" fill="url(#hshade2)" opacity="0.62"/>
</g>
<g clip-path="url(#c1_4)">
<rect x="661.8" y="152.2" width="41.6" height="97.4" fill="url(#g21)"/>
<polygon points="667,165.2 697.8,165.2 698.4,252.6 666.4,252.6" fill="url(#g22)" filter="url(#bl2p4)"/>
<rect x="681.5" y="176.2" width="1.6" height="72" fill="#4a18b8" opacity="0.16" filter="url(#bl1)"/>
<rect x="661.8" y="152.2" width="41.6" height="97.4" fill="url(#hshade2)" opacity="0.62"/>
</g>
<g clip-path="url(#c1_5)">
<rect x="704.3" y="152.2" width="41.6" height="97.4" fill="url(#g23)"/>
<polygon points="709.5,165.2 740.3,165.2 740.9,252.6 708.9,252.6" fill="url(#g24)" filter="url(#bl2p4)"/>
<rect x="724" y="176.2" width="1.6" height="72" fill="#4a18b8" opacity="0.16" filter="url(#bl1)"/>
<rect x="704.3" y="152.2" width="41.6" height="97.4" fill="url(#hshade2)" opacity="0.62"/>
</g>
<g clip-path="url(#c2_0)">
<rect x="491.3" y="251" width="41.6" height="98.7" fill="url(#g25)"/>
<polygon points="498.8,263 525.9,263 526.4,345.2 498.3,345.2" fill="url(#g26)" filter="url(#bl1p6)"/>
<rect x="510.5" y="265" width="1.6" height="78" fill="#2410a0" opacity="0.35" filter="url(#bl1)"/>
<rect x="491.3" y="251" width="41.6" height="98.7" fill="url(#hshade)" opacity="0.45"/>
</g>
<g clip-path="url(#c2_1)">
<rect x="534" y="251" width="41.6" height="98.7" fill="url(#g27)"/>
<polygon points="540,265 569.1,265 570.6,352.7 538.5,352.7" fill="url(#g28)" filter="url(#bl2p4)"/>
<rect x="534" y="251" width="41.6" height="98.7" fill="url(#hshade)" opacity="0.5"/>
</g>
<g clip-path="url(#c2_2)">
<rect x="576.6" y="251" width="41.6" height="98.7" fill="url(#g29)"/>
<polygon points="581.3,260 614.7,260 615.7,352.7 580.3,352.7" fill="url(#g31)" opacity="0.85" filter="url(#bl1p1_2p6)"/>
<polygon points="583.2,260 612.8,260 613.8,352.7 582.2,352.7" fill="url(#g30)" filter="url(#bl1_2p4)"/>
<rect x="576.6" y="251" width="41.6" height="98.7" fill="url(#hshade)" opacity="0.15"/>
</g>
<g clip-path="url(#c2_3)">
<rect x="619.2" y="251" width="41.6" height="98.7" fill="url(#g32)"/>
<polygon points="625.3,261 654.9,261 655.9,352.7 624.3,352.7" fill="url(#g34)" opacity="0.85" filter="url(#bl1p1_2p6)"/>
<polygon points="627.2,261 653,261 654,352.7 626.2,352.7" fill="url(#g33)" filter="url(#bl0p9_2p4)"/>
<rect x="619.2" y="251" width="41.6" height="98.7" fill="url(#hshade)" opacity="0.12"/>
</g>
<g clip-path="url(#c2_4)">
<rect x="661.8" y="251" width="41.6" height="98.7" fill="url(#g35)"/>
<polygon points="667.9,261 697.5,261 698.5,352.7 666.9,352.7" fill="url(#g37)" opacity="0.85" filter="url(#bl1p1_2p6)"/>
<polygon points="669.8,261 695.6,261 696.6,352.7 668.8,352.7" fill="url(#g36)" filter="url(#bl0p9_2p4)"/>
<rect x="661.8" y="251" width="41.6" height="98.7" fill="url(#hshade)" opacity="0.12"/>
</g>
<g clip-path="url(#c2_5)">
<rect x="704.3" y="251" width="41.6" height="98.7" fill="url(#g38)"/>
<polygon points="710.4,261 740,261 741,352.7 709.4,352.7" fill="url(#g40)" opacity="0.85" filter="url(#bl1p1_2p6)"/>
<polygon points="712.3,261 738.1,261 739.1,352.7 711.3,352.7" fill="url(#g39)" filter="url(#bl0p9_2p4)"/>
<rect x="704.3" y="251" width="41.6" height="98.7" fill="url(#hshade)" opacity="0.12"/>
</g>
<g clip-path="url(#c3_0)">
<rect x="491.3" y="351" width="41.6" height="98.6" fill="url(#g41)"/>
<polygon points="495.3,356 528.9,356 528.9,452.6 495.3,452.6" fill="url(#g42)" filter="url(#bl2p2)"/>
<rect x="510.5" y="359" width="1.6" height="88" fill="#2410a0" opacity="0.4" filter="url(#bl1)"/>
<rect x="491.3" y="351" width="41.6" height="98.6" fill="url(#hshade2)" opacity="0.9"/>
</g>
<g clip-path="url(#c3_1)">
<rect x="534" y="351" width="41.6" height="98.6" fill="url(#g43)"/>
<polygon points="541.3,365 568.3,365 570.1,452.6 539.5,452.6" fill="url(#g44)" filter="url(#bl2p4)"/>
<rect x="534" y="351" width="41.6" height="98.6" fill="url(#hshade)" opacity="0.55"/>
</g>
<g clip-path="url(#c3_2)">
<rect x="576.6" y="351" width="41.6" height="98.6" fill="url(#g45)"/>
<polygon points="581.9,363 613.5,363 614.5,452.6 580.9,452.6" fill="url(#g47)" opacity="0.85" filter="url(#bl1p1_2p6)"/>
<polygon points="583.8,363 611.6,363 612.6,452.6 582.8,452.6" fill="url(#g46)" filter="url(#bl1_2p4)"/>
<rect x="576.6" y="351" width="41.6" height="98.6" fill="url(#hshade)" opacity="0.15"/>
</g>
<g clip-path="url(#c3_3)">
<rect x="619.2" y="351" width="41.6" height="98.6" fill="url(#g48)"/>
<polygon points="625.7,364 654.9,364 655.9,452.6 624.7,452.6" fill="url(#g50)" opacity="0.85" filter="url(#bl1p1_2p6)"/>
<polygon points="627.6,364 653,364 654,452.6 626.6,452.6" fill="url(#g49)" filter="url(#bl0p9_2p4)"/>
<rect x="619.2" y="351" width="41.6" height="98.6" fill="url(#hshade)" opacity="0.12"/>
</g>
<g clip-path="url(#c3_4)">
<rect x="661.8" y="351" width="41.6" height="98.6" fill="url(#g51)"/>
<polygon points="668.3,364 697.5,364 698.5,452.6 667.3,452.6" fill="url(#g53)" opacity="0.85" filter="url(#bl1p1_2p6)"/>
<polygon points="670.2,364 695.6,364 696.6,452.6 669.2,452.6" fill="url(#g52)" filter="url(#bl0p9_2p4)"/>
<rect x="661.8" y="351" width="41.6" height="98.6" fill="url(#hshade)" opacity="0.12"/>
</g>
<g clip-path="url(#c3_5)">
<rect x="704.3" y="351" width="41.6" height="98.6" fill="url(#g54)"/>
<polygon points="710.8,364 740,364 741,452.6 709.8,452.6" fill="url(#g56)" opacity="0.85" filter="url(#bl1p1_2p6)"/>
<polygon points="712.7,364 738.1,364 739.1,452.6 711.7,452.6" fill="url(#g55)" filter="url(#bl0p9_2p4)"/>
<rect x="704.3" y="351" width="41.6" height="98.6" fill="url(#hshade)" opacity="0.12"/>
</g>
<rect x="529.2" y="456.8" width="163.8" height="11.2" fill="#fff" stroke="#777" stroke-width="0.9"/>
<rect x="529.6" y="457.2" width="5.2" height="10.4" fill="#050505"/>
<rect x="534.8" y="457.2" width="151.8" height="10.4" fill="url(#cbar)"/>
<line x1="686.6" y1="456.8" x2="686.6" y2="468" stroke="#777" stroke-width="0.8"/>
<line x1="534.2" y1="475" x2="686.6" y2="475" stroke="#666" stroke-width="0.8"/>
<line x1="534.2" y1="474.6" x2="534.2" y2="479.4" stroke="#666" stroke-width="0.8"/>
<text x="534.2" y="490" font-size="10.2" font-weight="normal" text-anchor="middle" fill="#333">25</text>
<line x1="569.76" y1="474.6" x2="569.76" y2="479.4" stroke="#666" stroke-width="0.8"/>
<text x="569.76" y="490" font-size="10.2" font-weight="normal" text-anchor="middle" fill="#333">32</text>
<line x1="610.4" y1="474.6" x2="610.4" y2="479.4" stroke="#666" stroke-width="0.8"/>
<text x="610.4" y="490" font-size="10.2" font-weight="normal" text-anchor="middle" fill="#333">40</text>
<line x1="651.04" y1="474.6" x2="651.04" y2="479.4" stroke="#666" stroke-width="0.8"/>
<text x="651.04" y="490" font-size="10.2" font-weight="normal" text-anchor="middle" fill="#333">48</text>
<line x1="686.6" y1="474.6" x2="686.6" y2="479.4" stroke="#666" stroke-width="0.8"/>
<text x="686.6" y="490" font-size="10.2" font-weight="normal" text-anchor="middle" fill="#333">55</text>
<line x1="549.44" y1="474.6" x2="549.44" y2="477.8" stroke="#666" stroke-width="0.8"/>
<line x1="590.08" y1="474.6" x2="590.08" y2="477.8" stroke="#666" stroke-width="0.8"/>
<line x1="630.72" y1="474.6" x2="630.72" y2="477.8" stroke="#666" stroke-width="0.8"/>
<line x1="671.36" y1="474.6" x2="671.36" y2="477.8" stroke="#666" stroke-width="0.8"/>
<text x="702.8" y="490" font-size="9.4" font-weight="normal" text-anchor="middle" fill="#333">&#176;C</text>
</svg>
</body></html>
